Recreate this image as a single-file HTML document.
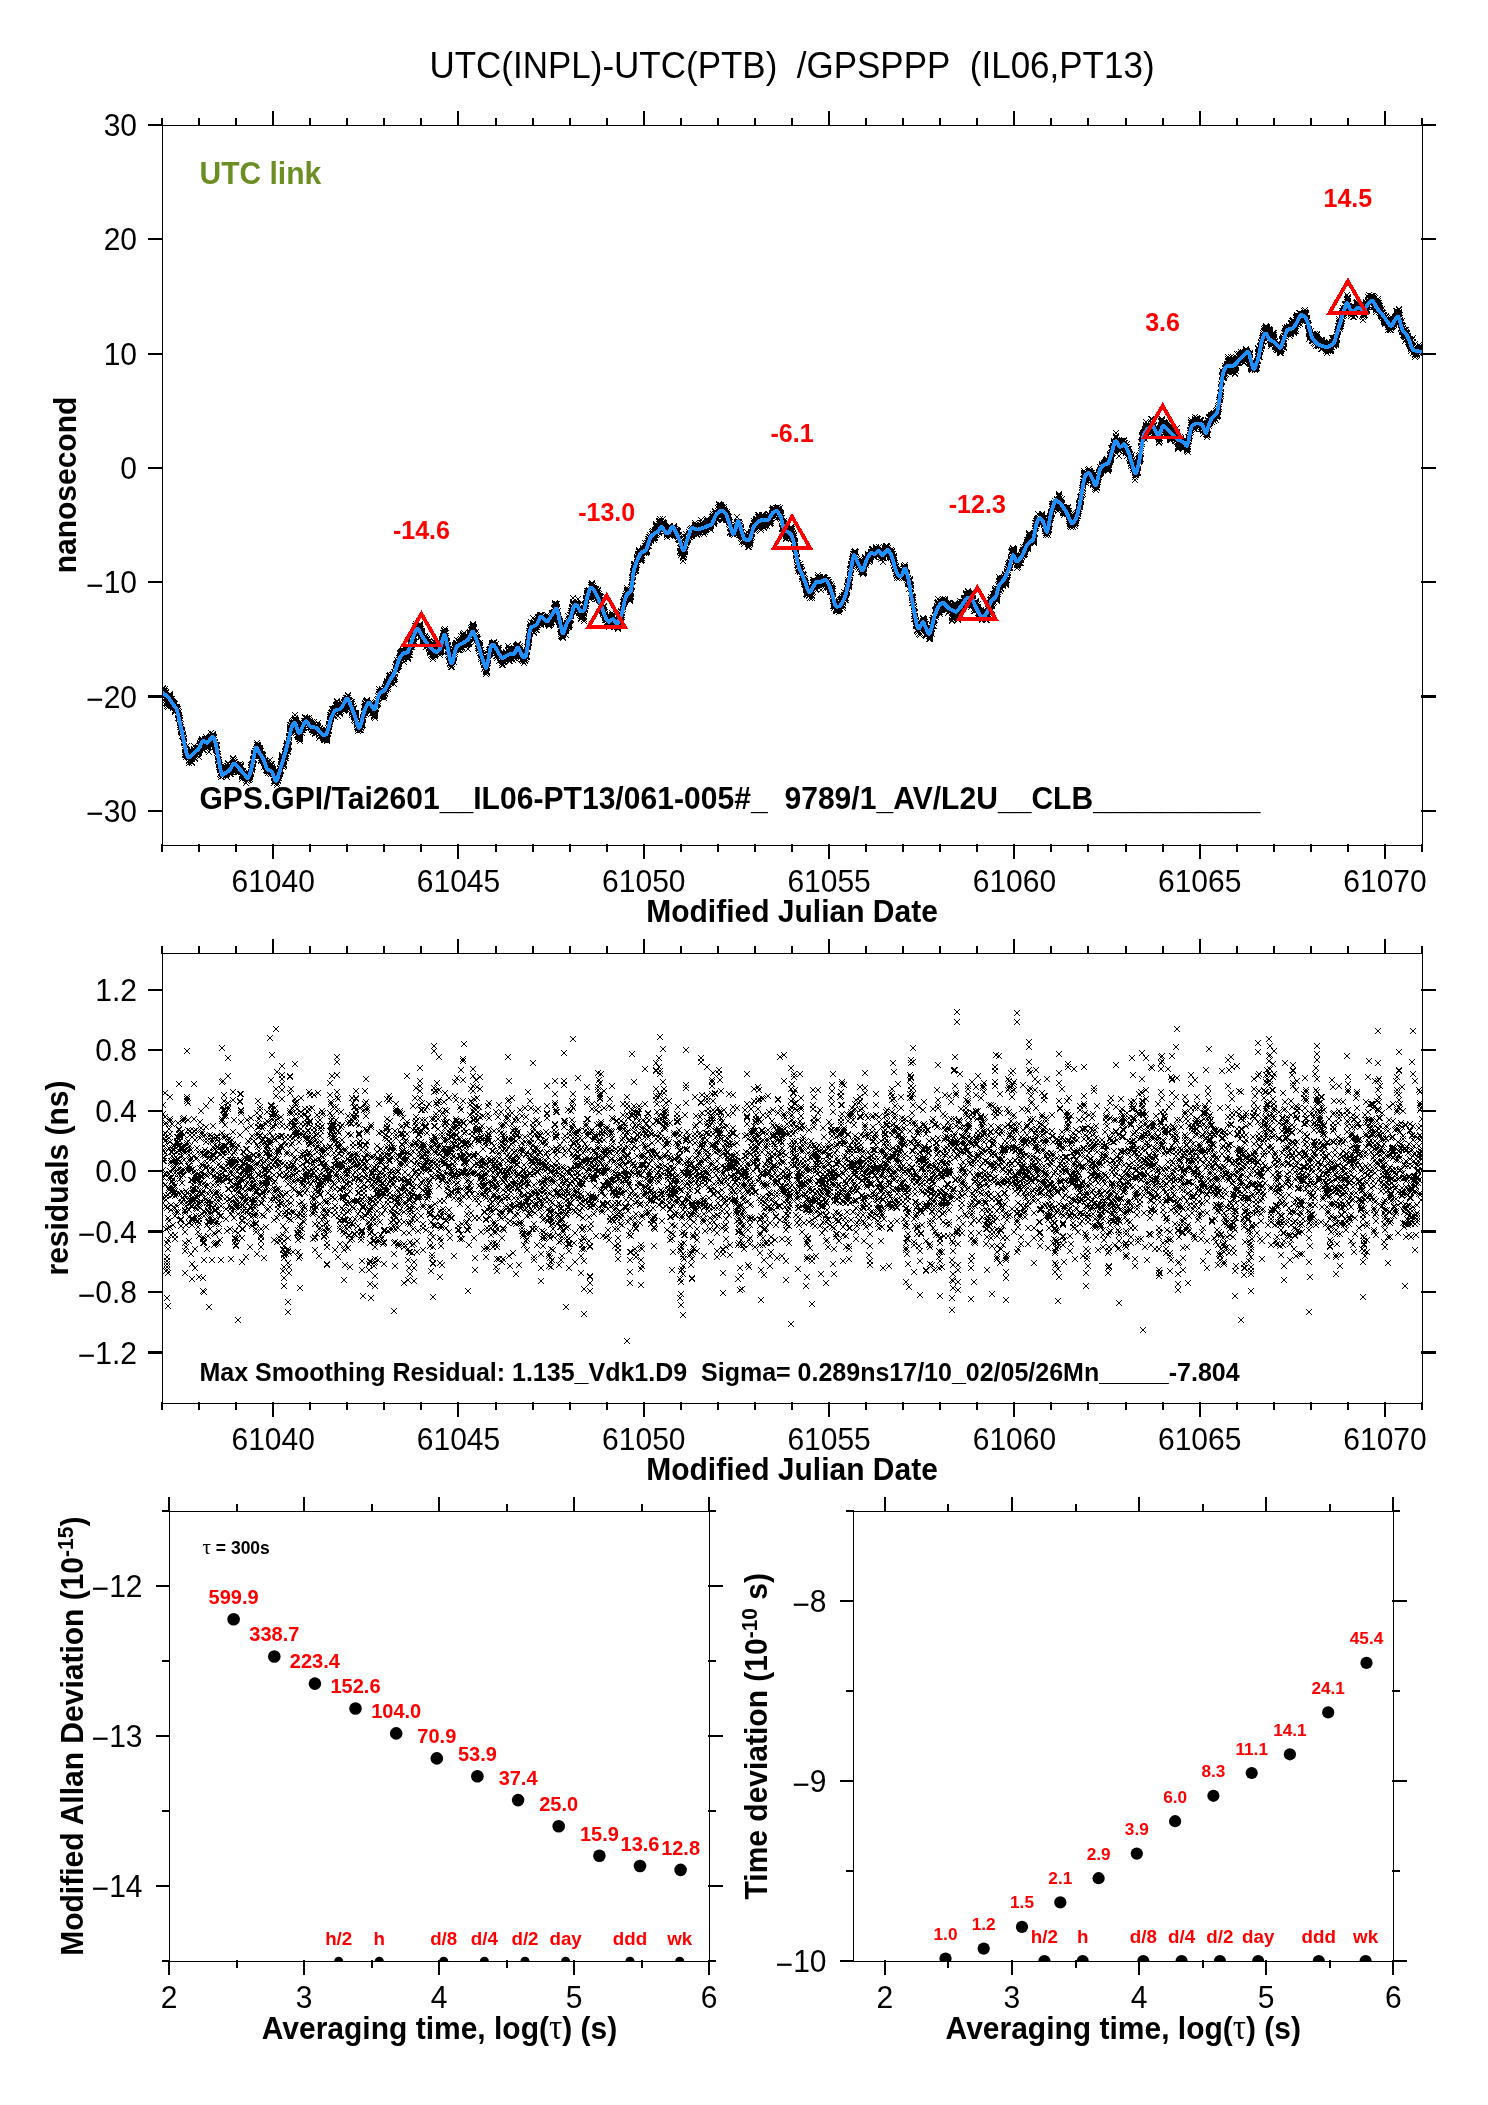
<!DOCTYPE html>
<html lang="en"><head><meta charset="utf-8"><title>UTC(INPL)-UTC(PTB) /GPSPPP (IL06,PT13)</title>
<style>
html,body{margin:0;padding:0;background:#fff}
svg{display:block;will-change:transform}
text{font-family:"Liberation Sans",sans-serif}
.mk{fill:none;stroke:none;marker-start:url(#x);marker-mid:url(#x);marker-end:url(#x)}
</style></head>
<body>
<svg width="1488" height="2105" viewBox="0 0 1488 2105">
<defs><marker id="x" markerUnits="userSpaceOnUse" markerWidth="8" markerHeight="8" refX="4" refY="4" overflow="visible"><path d="M1,1L7,7M1,7L7,1" stroke="#000" stroke-width="1" fill="none" shape-rendering="crispEdges"/></marker></defs>
<rect width="1488" height="2105" fill="#fff"/>
<clipPath id="c1"><rect x="162" y="125" width="1261" height="721"/></clipPath><clipPath id="c2"><rect x="162" y="953" width="1261" height="451"/></clipPath>
<g clip-path="url(#c1)"><polyline class="mk" points="162,695 162,692 162,691 162,694 163,693 163,692 163,692 163,692 163,689 163,688 163,694 163,692 164,693 164,691 164,691 164,693 164,692 164,692 164,693 165,693 165,691 165,695 165,696 165,691 165,691 165,689 165,693 166,695 166,693 166,692 166,697 166,698 166,700 166,703 166,698 167,703 167,699 167,703 167,706 167,704 167,704 167,703 167,702 168,703 168,699 168,707 168,705 168,702 168,701 168,702 169,701 169,699 169,699 169,698 169,696 169,699 169,695 169,697 170,695 170,696 170,694 170,696 170,697 170,700 170,698 170,705 171,699 171,700 171,702 171,702 171,706 171,704 171,705 171,701 172,701 172,699 172,704 172,704 172,701 172,704 172,704 172,702 173,703 173,705 173,702 173,705 173,708 173,706 173,705 174,706 174,703 174,705 174,704 174,705 174,707 174,707 174,707 175,708 175,704 175,710 175,711 175,708 175,710 175,712 175,707 176,707 176,710 176,711 176,707 176,708 176,708 176,711 176,708 177,707 177,709 177,709 177,708 177,710 177,710 177,710 178,709 178,711 178,711 178,714 178,714 178,718 178,714 178,715 179,718 179,715 179,718 179,715 179,712 179,716 179,718 179,719 180,718 180,721 180,720 180,727 180,721 180,725 180,725 180,723 181,724 181,730 181,731 181,727 181,731 181,732 181,729 182,731 182,730 182,733 182,733 182,732 182,732 182,731 182,736 183,735 183,735 183,734 183,736 183,735 183,734 183,737 183,735 184,738 184,742 184,739 184,739 184,741 184,741 184,739 184,743 185,748 185,750 185,748 185,750 185,755 185,754 185,754 185,752 186,752 186,749 186,755 186,757 186,753 186,751 186,755 187,755 187,752 187,752 187,750 187,753 187,746 187,750 187,751 188,756 188,753 188,752 188,757 188,753 188,756 188,755 188,757 189,756 189,763 189,760 189,761 189,760 189,760 189,761 189,757 190,756 190,756 190,754 190,757 190,754 190,755 190,759 191,755 191,758 191,757 191,758 191,754 191,756 191,762 191,758 192,759 192,757 192,756 192,758 192,762 192,763 192,758 192,759 193,756 193,756 193,756 193,754 193,756 193,755 193,757 193,755 194,750 194,755 194,753 194,750 194,746 194,749 194,752 195,750 195,753 195,754 195,758 195,759 195,754 195,756 195,752 196,749 196,751 196,755 196,752 196,754 196,752 196,752 196,754 197,753 197,753 197,752 197,751 197,752 197,749 197,748 197,753 198,751 198,750 198,754 198,752 198,748 198,750 198,753 198,753 199,752 199,757 199,750 199,753 199,751 199,752 199,748 200,750 200,748 200,749 200,744 200,743 200,746 200,746 200,745 201,741 201,745 201,745 201,744 201,741 201,744 201,744 201,742 202,746 202,744 202,740 202,739 202,741 202,741 202,743 202,744 203,740 203,746 203,742 203,746 203,750 203,746 203,749 204,746 204,746 204,742 204,747 204,750 204,744 204,743 204,744 205,744 205,741 205,740 205,742 205,739 205,740 205,741 205,743 206,742 206,739 206,737 206,737 206,740 206,740 206,742 206,743 207,743 207,741 207,742 207,745 207,745 207,748 207,747 208,744 208,745 208,743 208,747 208,741 208,745 208,746 208,744 209,752 209,744 209,738 209,743 209,739 209,744 209,744 209,744 210,737 210,744 210,740 210,742 210,738 210,742 210,741 210,738 211,742 211,742 211,733 211,737 211,736 211,737 211,737 211,738 212,738 212,741 212,744 212,740 212,735 212,739 212,741 213,734 213,734 213,738 213,735 213,736 213,740 213,735 213,737 214,738 214,737 214,744 214,740 214,737 214,738 214,744 214,740 215,743 215,742 215,746 215,742 215,742 215,745 215,745 215,747 216,748 216,745 216,747 216,747 216,749 216,750 216,745 217,745 217,746 217,746 217,750 217,749 217,751 217,749 217,753 218,754 218,757 218,756 218,761 218,754 218,759 218,759 218,760 219,763 219,760 219,763 219,765 219,763 219,767 219,764 219,762 220,767 220,765 220,770 220,767 220,768 220,774 220,768 221,768 221,777 221,773 221,775 221,775 221,773 221,773 221,773 222,772 222,772 222,770 222,772 222,768 222,766 222,770 222,771 223,768 223,776 223,772 223,775 223,774 223,775 223,773 223,770 224,774 224,772 224,769 224,769 224,768 224,769 224,770 224,769 225,769 225,771 225,773 225,770 225,769 225,771 225,768 226,769 226,771 226,772 226,771 226,773 226,773 226,775 226,776 227,774 227,777 227,774 227,774 227,772 227,770 227,774 227,769 228,767 228,764 228,767 228,763 228,766 228,769 228,772 228,770 229,770 229,769 229,769 229,772 229,768 229,770 229,771 230,772 230,769 230,771 230,774 230,769 230,769 230,772 230,767 231,769 231,768 231,772 231,771 231,769 231,768 231,770 231,774 232,767 232,768 232,764 232,769 232,765 232,769 232,764 232,765 233,763 233,763 233,763 233,758 233,759 233,761 233,763 234,763 234,760 234,763 234,765 234,766 234,762 234,765 234,767 235,762 235,765 235,769 235,769 235,766 235,769 235,769 235,764 236,764 236,764 236,767 236,768 236,771 236,771 236,768 236,768 237,766 237,766 237,767 237,767 237,768 237,766 237,772 237,765 238,768 238,772 238,768 238,765 238,771 238,769 238,770 239,767 239,770 239,772 239,770 239,769 239,770 239,770 239,772 240,768 240,771 240,769 240,767 240,764 240,764 240,770 240,764 241,771 241,766 241,766 241,765 241,767 241,766 241,771 241,772 242,771 242,775 242,776 242,775 242,779 242,776 242,777 243,772 243,772 243,774 243,771 243,776 243,778 243,776 243,775 244,776 244,774 244,777 244,776 244,774 244,777 244,773 244,775 245,778 245,775 245,777 245,774 245,778 245,778 245,775 245,777 246,773 246,775 246,783 246,777 246,777 246,780 246,778 247,778 247,781 247,776 247,777 247,778 247,777 247,776 247,774 248,776 248,777 248,778 248,779 248,777 248,778 248,780 248,776 249,777 249,780 249,776 249,776 249,775 249,773 249,775 249,775 250,777 250,774 250,775 250,779 250,776 250,775 250,775 250,775 251,772 251,773 251,774 251,767 251,772 251,768 251,765 252,769 252,765 252,768 252,767 252,770 252,765 252,767 252,764 253,767 253,764 253,763 253,760 253,761 253,764 253,759 253,760 254,760 254,759 254,755 254,759 254,756 254,756 254,753 254,754 255,756 255,754 255,754 255,754 255,753 255,751 255,753 256,752 256,751 256,752 256,752 256,752 256,752 256,752 256,749 257,754 257,749 257,747 257,745 257,743 257,750 257,748 257,747 258,750 258,748 258,746 258,747 258,750 258,745 258,749 258,747 259,751 259,749 259,748 259,749 259,750 259,751 259,754 260,755 260,748 260,753 260,752 260,749 260,751 260,750 260,755 261,754 261,751 261,760 261,760 261,761 261,760 261,761 261,758 262,758 262,759 262,757 262,760 262,756 262,758 262,754 262,755 263,760 263,756 263,759 263,758 263,756 263,755 263,760 263,761 264,761 264,763 264,767 264,761 264,762 264,762 264,762 265,761 265,762 265,761 265,763 265,761 265,764 265,765 265,766 266,766 266,770 266,767 266,766 266,763 266,767 266,766 266,766 267,766 267,771 267,769 267,764 267,767 267,770 267,768 267,766 268,768 268,766 268,767 268,770 268,769 268,773 268,771 269,770 269,771 269,769 269,769 269,769 269,770 269,771 269,769 270,769 270,767 270,773 270,768 270,768 270,768 270,768 270,760 271,764 271,766 271,766 271,771 271,769 271,770 271,771 271,774 272,771 272,767 272,768 272,769 272,768 272,764 272,768 273,771 273,773 273,769 273,770 273,774 273,771 273,771 273,773 274,778 274,777 274,778 274,774 274,778 274,781 274,778 274,783 275,780 275,778 275,781 275,780 275,781 275,779 275,775 275,776 276,774 276,777 276,770 276,779 276,777 276,780 276,775 276,776 277,773 277,779 277,779 277,785 277,783 277,778 277,780 278,778 278,781 278,777 278,777 278,780 278,774 278,772 278,774 279,773 279,773 279,776 279,774 279,772 279,778 279,774 279,775 280,774 280,773 280,772 280,771 280,772 280,769 280,774 280,768 281,771 281,770 281,765 281,765 281,764 281,762 281,761 282,762 282,758 282,757 282,756 282,757 282,757 282,759 282,755 283,761 283,760 283,763 283,765 283,764 283,767 283,765 283,765 284,766 284,765 284,764 284,764 284,765 284,761 284,762 284,761 285,758 285,758 285,754 285,755 285,756 285,751 285,752 286,758 286,756 286,754 286,749 286,753 286,750 286,750 286,746 287,749 287,746 287,747 287,743 287,745 287,744 287,747 287,747 288,745 288,744 288,749 288,748 288,752 288,746 288,751 288,747 289,746 289,747 289,746 289,741 289,737 289,740 289,736 289,738 290,731 290,732 290,729 290,727 290,728 290,725 290,725 291,725 291,729 291,731 291,729 291,729 291,733 291,731 291,730 292,727 292,728 292,730 292,723 292,722 292,723 292,722 292,724 293,726 293,723 293,724 293,726 293,721 293,724 293,730 293,723 294,725 294,726 294,726 294,724 294,723 294,722 294,720 295,723 295,718 295,715 295,721 295,720 295,720 295,719 295,724 296,720 296,723 296,722 296,722 296,721 296,724 296,723 296,722 297,724 297,723 297,727 297,732 297,729 297,729 297,730 297,735 298,735 298,735 298,736 298,737 298,735 298,737 298,737 299,737 299,739 299,734 299,735 299,734 299,730 299,734 299,731 300,737 300,738 300,739 300,737 300,741 300,735 300,733 300,731 301,730 301,728 301,726 301,727 301,726 301,727 301,727 301,724 302,730 302,726 302,727 302,733 302,733 302,730 302,728 302,729 303,727 303,728 303,730 303,725 303,724 303,726 303,726 304,728 304,723 304,721 304,725 304,727 304,727 304,723 304,725 305,723 305,724 305,721 305,723 305,718 305,717 305,717 305,724 306,719 306,721 306,721 306,721 306,721 306,721 306,721 306,722 307,723 307,719 307,721 307,721 307,718 307,718 307,720 308,719 308,724 308,722 308,721 308,719 308,719 308,723 308,721 309,720 309,718 309,722 309,723 309,725 309,723 309,723 309,722 310,725 310,722 310,724 310,723 310,727 310,721 310,725 310,723 311,724 311,727 311,728 311,725 311,727 311,727 311,727 312,726 312,726 312,722 312,726 312,724 312,727 312,729 312,730 313,732 313,730 313,730 313,730 313,730 313,728 313,729 313,730 314,727 314,729 314,724 314,722 314,727 314,725 314,724 314,730 315,730 315,730 315,729 315,731 315,734 315,733 315,733 315,730 316,727 316,726 316,728 316,725 316,731 316,728 316,725 317,729 317,730 317,726 317,726 317,729 317,733 317,727 317,725 318,730 318,723 318,730 318,726 318,726 318,727 318,731 318,728 319,734 319,731 319,732 319,732 319,735 319,735 319,738 319,730 320,734 320,736 320,734 320,734 320,729 320,733 320,728 321,733 321,730 321,730 321,732 321,730 321,733 321,735 321,735 322,730 322,732 322,732 322,734 322,734 322,733 322,730 322,730 323,735 323,731 323,735 323,736 323,736 323,738 323,734 323,736 324,735 324,740 324,740 324,736 324,735 324,739 324,739 325,738 325,739 325,740 325,739 325,734 325,737 325,734 325,739 326,735 326,734 326,738 326,735 326,737 326,732 326,738 326,739 327,741 327,739 327,737 327,740 327,735 327,738 327,735 327,731 328,734 328,731 328,731 328,731 328,728 328,733 328,731 328,728 329,727 329,730 329,731 329,724 329,726 329,725 329,725 330,721 330,722 330,724 330,719 330,715 330,720 330,717 330,715 331,715 331,717 331,716 331,716 331,713 331,719 331,718 331,719 332,714 332,714 332,712 332,712 332,709 332,713 332,712 332,712 333,715 333,716 333,711 333,711 333,709 333,710 333,710 334,710 334,709 334,711 334,712 334,709 334,711 334,715 334,712 335,717 335,714 335,712 335,714 335,708 335,713 335,709 335,710 336,705 336,708 336,710 336,709 336,710 336,706 336,709 336,708 337,704 337,704 337,702 337,701 337,702 337,705 337,708 338,704 338,707 338,706 338,708 338,709 338,710 338,708 338,716 339,713 339,708 339,709 339,710 339,709 339,706 339,708 339,709 340,714 340,709 340,713 340,710 340,710 340,714 340,713 340,712 341,711 341,707 341,705 341,707 341,708 341,708 341,703 341,706 342,707 342,705 342,703 342,706 342,706 342,709 342,706 343,709 343,706 343,707 343,707 343,709 343,706 343,709 343,706 344,703 344,702 344,710 344,707 344,708 344,709 344,706 344,711 345,706 345,709 345,704 345,705 345,700 345,701 345,702 345,704 346,706 346,700 346,701 346,698 346,702 346,700 346,701 347,699 347,699 347,703 347,700 347,698 347,700 347,699 347,703 348,704 348,702 348,702 348,695 348,698 348,696 348,695 348,698 349,704 349,705 349,700 349,701 349,706 349,704 349,705 349,706 350,710 350,704 350,708 350,704 350,707 350,705 350,701 351,704 351,705 351,702 351,702 351,705 351,702 351,703 351,704 352,702 352,707 352,704 352,707 352,711 352,712 352,713 352,715 353,710 353,714 353,711 353,709 353,709 353,706 353,711 353,711 354,708 354,709 354,713 354,716 354,717 354,715 354,714 354,720 355,719 355,721 355,716 355,717 355,716 355,718 355,713 356,714 356,713 356,715 356,716 356,715 356,716 356,715 356,717 357,724 357,727 357,721 357,725 357,725 357,723 357,724 357,724 358,724 358,726 358,727 358,729 358,729 358,731 358,726 358,728 359,728 359,725 359,726 359,725 359,725 359,730 359,725 360,726 360,729 360,723 360,730 360,725 360,727 360,726 360,724 361,724 361,725 361,730 361,725 361,728 361,727 361,725 361,727 362,721 362,723 362,725 362,724 362,726 362,726 362,723 362,722 363,720 363,717 363,719 363,725 363,718 363,718 363,717 364,715 364,715 364,712 364,711 364,707 364,713 364,713 364,711 365,704 365,713 365,709 365,710 365,707 365,706 365,708 365,703 366,701 366,706 366,702 366,706 366,706 366,702 366,702 366,707 367,703 367,701 367,705 367,706 367,702 367,700 367,702 367,701 368,704 368,703 368,704 368,704 368,704 368,706 368,707 369,710 369,710 369,707 369,705 369,706 369,705 369,706 369,707 370,708 370,707 370,706 370,709 370,712 370,711 370,711 370,709 371,706 371,714 371,709 371,709 371,702 371,707 371,704 371,702 372,707 372,706 372,707 372,707 372,709 372,708 372,710 373,711 373,706 373,713 373,708 373,710 373,710 373,711 373,709 374,709 374,713 374,710 374,717 374,715 374,716 374,715 374,713 375,716 375,714 375,715 375,712 375,718 375,716 375,712 375,714 376,709 376,708 376,709 376,708 376,706 376,705 376,705 377,703 377,705 377,703 377,700 377,700 377,704 377,704 377,704 378,701 378,701 378,704 378,703 378,699 378,704 378,696 378,696 379,697 379,692 379,694 379,695 379,689 379,694 379,694 379,694 380,695 380,693 380,695 380,692 380,694 380,694 380,692 380,696 381,694 381,692 381,691 381,693 381,694 381,691 381,697 382,691 382,697 382,695 382,690 382,692 382,693 382,689 382,691 383,693 383,691 383,692 383,694 383,692 383,693 383,696 383,693 384,692 384,692 384,695 384,692 384,698 384,696 384,696 384,695 385,694 385,693 385,691 385,687 385,691 385,688 385,689 386,688 386,690 386,689 386,685 386,688 386,686 386,689 386,684 387,684 387,683 387,681 387,683 387,684 387,682 387,683 387,681 388,687 388,687 388,685 388,689 388,683 388,682 388,685 388,682 389,680 389,682 389,681 389,676 389,676 389,679 389,679 390,680 390,680 390,675 390,676 390,678 390,682 390,681 390,679 391,682 391,679 391,680 391,683 391,676 391,679 391,682 391,678 392,680 392,675 392,678 392,678 392,675 392,681 392,677 392,675 393,676 393,679 393,677 393,674 393,679 393,678 393,675 393,676 394,677 394,672 394,678 394,675 394,680 394,684 394,678 395,677 395,679 395,674 395,677 395,674 395,673 395,674 395,667 396,665 396,664 396,664 396,664 396,665 396,665 396,668 396,670 397,668 397,667 397,670 397,667 397,664 397,666 397,660 397,663 398,662 398,663 398,662 398,664 398,666 398,667 398,666 399,664 399,666 399,662 399,663 399,662 399,662 399,658 399,660 400,660 400,654 400,657 400,653 400,657 400,656 400,656 400,660 401,654 401,653 401,658 401,655 401,656 401,657 401,652 401,657 402,654 402,651 402,653 402,651 402,655 402,653 402,652 403,655 403,653 403,652 403,651 403,650 403,651 403,655 403,653 404,652 404,656 404,659 404,659 404,658 404,662 404,654 404,657 405,651 405,655 405,655 405,653 405,652 405,653 405,654 405,654 406,654 406,651 406,652 406,649 406,651 406,650 406,652 406,651 407,652 407,654 407,649 407,650 407,649 407,645 407,655 408,651 408,653 408,652 408,657 408,658 408,659 408,655 408,651 409,655 409,651 409,650 409,652 409,655 409,649 409,655 409,650 410,655 410,650 410,649 410,652 410,652 410,649 410,647 410,649 411,646 411,643 411,643 411,641 411,647 411,645 411,644 412,644 412,643 412,647 412,641 412,642 412,642 412,643 412,645 413,643 413,637 413,638 413,633 413,635 413,639 413,634 413,637 414,637 414,637 414,642 414,642 414,637 414,643 414,641 414,639 415,637 415,633 415,631 415,630 415,629 415,626 415,632 416,628 416,628 416,631 416,624 416,626 416,627 416,626 416,627 417,630 417,631 417,634 417,631 417,632 417,635 417,630 417,628 418,633 418,626 418,628 418,628 418,631 418,627 418,631 418,629 419,631 419,632 419,627 419,625 419,631 419,628 419,629 419,630 420,628 420,625 420,624 420,626 420,627 420,626 420,630 421,629 421,631 421,631 421,637 421,634 421,636 421,635 421,635 422,632 422,634 422,636 422,631 422,631 422,635 422,633 422,634 423,639 423,640 423,641 423,636 423,644 423,642 423,639 423,638 424,638 424,639 424,638 424,637 424,638 424,639 424,637 425,636 425,636 425,637 425,639 425,637 425,636 425,640 425,640 426,638 426,638 426,641 426,642 426,642 426,643 426,644 426,647 427,644 427,640 427,645 427,645 427,643 427,642 427,639 427,645 428,643 428,646 428,646 428,646 428,645 428,643 428,644 429,647 429,645 429,648 429,648 429,649 429,647 429,645 429,641 430,647 430,645 430,646 430,648 430,650 430,652 430,651 430,653 431,652 431,650 431,655 431,648 431,652 431,648 431,648 431,648 432,646 432,645 432,648 432,647 432,647 432,652 432,656 432,656 433,655 433,655 433,659 433,657 433,657 433,651 433,654 434,649 434,648 434,644 434,641 434,645 434,647 434,642 434,648 435,648 435,649 435,656 435,655 435,654 435,656 435,650 435,655 436,649 436,651 436,649 436,651 436,648 436,646 436,647 436,648 437,652 437,647 437,651 437,645 437,649 437,651 437,650 438,647 438,649 438,648 438,651 438,647 438,645 438,649 438,651 439,652 439,650 439,646 439,649 439,650 439,641 439,643 439,644 440,649 440,647 440,652 440,652 440,651 440,655 440,653 440,655 441,650 441,652 441,650 441,649 441,651 441,649 441,648 442,651 442,644 442,641 442,640 442,641 442,639 442,642 442,640 443,643 443,640 443,637 443,642 443,639 443,633 443,636 443,638 444,635 444,636 444,638 444,630 444,634 444,633 444,631 444,634 445,632 445,629 445,631 445,631 445,633 445,634 445,631 445,636 446,633 446,636 446,642 446,642 446,644 446,640 446,644 447,642 447,641 447,643 447,645 447,643 447,641 447,643 447,642 448,645 448,647 448,647 448,646 448,651 448,649 448,652 448,655 449,652 449,650 449,657 449,649 449,654 449,657 449,656 449,661 450,658 450,658 450,664 450,663 450,660 450,659 450,658 451,659 451,662 451,660 451,661 451,663 451,665 451,667 451,665 452,661 452,664 452,662 452,667 452,662 452,664 452,660 452,660 453,659 453,657 453,661 453,657 453,659 453,660 453,658 453,655 454,658 454,655 454,656 454,658 454,662 454,656 454,653 455,654 455,650 455,652 455,646 455,645 455,648 455,647 455,652 456,646 456,650 456,647 456,643 456,646 456,645 456,644 456,645 457,644 457,640 457,644 457,643 457,645 457,643 457,646 457,646 458,647 458,648 458,650 458,650 458,647 458,647 458,647 458,646 459,650 459,646 459,643 459,643 459,641 459,645 459,641 460,644 460,642 460,640 460,643 460,645 460,647 460,643 460,650 461,646 461,649 461,643 461,643 461,642 461,643 461,636 461,639 462,640 462,644 462,641 462,644 462,645 462,647 462,644 462,648 463,643 463,645 463,638 463,636 463,635 463,639 463,634 464,633 464,639 464,641 464,641 464,642 464,639 464,642 464,639 465,640 465,642 465,640 465,640 465,640 465,640 465,642 465,641 466,645 466,643 466,638 466,640 466,640 466,641 466,641 466,640 467,644 467,641 467,641 467,645 467,644 467,641 467,642 468,638 468,638 468,649 468,644 468,640 468,642 468,640 468,640 469,643 469,640 469,642 469,644 469,640 469,637 469,637 469,638 470,633 470,633 470,632 470,638 470,635 470,634 470,634 470,636 471,633 471,630 471,634 471,628 471,635 471,633 471,634 471,636 472,633 472,633 472,633 472,629 472,630 472,634 472,627 473,631 473,632 473,625 473,624 473,628 473,626 473,627 473,625 474,628 474,627 474,632 474,629 474,632 474,629 474,634 474,640 475,642 475,639 475,642 475,638 475,636 475,634 475,633 475,633 476,635 476,635 476,635 476,632 476,637 476,637 476,635 477,640 477,638 477,637 477,638 477,639 477,637 477,640 477,637 478,639 478,643 478,646 478,644 478,643 478,646 478,648 478,648 479,648 479,649 479,651 479,645 479,647 479,645 479,647 479,644 480,643 480,647 480,646 480,648 480,650 480,645 480,653 481,650 481,653 481,653 481,654 481,655 481,654 481,659 481,657 482,655 482,653 482,656 482,658 482,655 482,655 482,658 482,658 483,659 483,655 483,661 483,662 483,659 483,658 483,662 483,660 484,665 484,661 484,663 484,664 484,669 484,663 484,665 484,665 485,668 485,663 485,668 485,667 485,668 485,668 485,667 486,667 486,666 486,670 486,667 486,672 486,670 486,674 486,671 487,672 487,673 487,672 487,671 487,667 487,668 487,666 487,664 488,661 488,660 488,659 488,663 488,656 488,658 488,654 488,656 489,652 489,654 489,654 489,652 489,655 489,650 489,652 490,652 490,654 490,650 490,654 490,649 490,653 490,650 490,651 491,649 491,647 491,650 491,651 491,650 491,651 491,649 491,651 492,649 492,645 492,645 492,646 492,644 492,643 492,643 492,647 493,646 493,649 493,650 493,645 493,645 493,644 493,643 494,645 494,642 494,643 494,647 494,647 494,650 494,651 494,646 495,646 495,649 495,646 495,647 495,651 495,647 495,647 495,648 496,651 496,653 496,649 496,648 496,644 496,656 496,653 496,651 497,652 497,651 497,656 497,656 497,652 497,658 497,655 497,658 498,654 498,654 498,649 498,652 498,648 498,650 498,651 499,654 499,650 499,653 499,648 499,653 499,653 499,653 499,661 500,658 500,657 500,657 500,658 500,655 500,656 500,655 500,654 501,660 501,655 501,657 501,659 501,654 501,653 501,654 501,655 502,658 502,654 502,658 502,661 502,663 502,661 502,665 503,659 503,659 503,662 503,665 503,662 503,656 503,656 503,657 504,654 504,655 504,658 504,658 504,655 504,654 504,662 504,657 505,659 505,660 505,657 505,655 505,654 505,655 505,654 505,657 506,659 506,653 506,652 506,659 506,658 506,658 506,654 507,655 507,657 507,655 507,656 507,656 507,657 507,657 507,656 508,659 508,654 508,656 508,651 508,650 508,650 508,650 508,646 509,648 509,649 509,653 509,652 509,655 509,654 509,661 509,656 510,661 510,658 510,657 510,654 510,657 510,657 510,654 510,653 511,654 511,655 511,653 511,657 511,654 511,656 511,652 512,655 512,650 512,649 512,652 512,654 512,651 512,653 512,652 513,651 513,651 513,652 513,657 513,653 513,655 513,653 513,660 514,657 514,656 514,658 514,653 514,651 514,650 514,652 514,653 515,649 515,654 515,650 515,652 515,656 515,652 515,653 516,659 516,655 516,655 516,654 516,649 516,649 516,646 516,647 517,649 517,650 517,646 517,645 517,647 517,648 517,646 517,648 518,644 518,650 518,648 518,649 518,645 518,650 518,651 518,649 519,651 519,647 519,649 519,650 519,652 519,656 519,654 520,651 520,652 520,648 520,646 520,652 520,654 520,653 520,650 521,655 521,657 521,654 521,657 521,656 521,652 521,655 521,653 522,653 522,656 522,653 522,651 522,656 522,660 522,660 522,659 523,661 523,661 523,661 523,659 523,659 523,659 523,657 523,657 524,655 524,658 524,657 524,657 524,659 524,657 524,663 525,658 525,660 525,658 525,655 525,655 525,652 525,661 525,653 526,655 526,652 526,656 526,654 526,657 526,657 526,659 526,656 527,657 527,657 527,652 527,656 527,651 527,652 527,650 527,647 528,647 528,639 528,646 528,645 528,644 528,642 528,643 529,642 529,643 529,640 529,636 529,633 529,637 529,639 529,631 530,633 530,632 530,634 530,631 530,629 530,627 530,624 530,628 531,627 531,626 531,625 531,630 531,626 531,627 531,622 531,625 532,629 532,629 532,630 532,631 532,627 532,626 532,628 533,631 533,626 533,623 533,624 533,626 533,623 533,618 533,623 534,623 534,627 534,626 534,630 534,628 534,633 534,632 534,624 535,629 535,626 535,628 535,625 535,628 535,628 535,623 535,624 536,630 536,627 536,625 536,621 536,624 536,624 536,626 536,620 537,621 537,627 537,622 537,630 537,624 537,625 537,623 538,625 538,620 538,623 538,620 538,621 538,621 538,617 538,620 539,617 539,620 539,619 539,617 539,621 539,621 539,622 539,621 540,617 540,618 540,618 540,616 540,615 540,615 540,619 540,619 541,615 541,619 541,619 541,623 541,625 541,624 541,619 542,622 542,617 542,618 542,621 542,620 542,618 542,615 542,617 543,623 543,617 543,619 543,618 543,617 543,622 543,618 543,621 544,623 544,620 544,624 544,624 544,624 544,621 544,620 544,623 545,617 545,622 545,620 545,620 545,620 545,623 545,620 546,621 546,621 546,622 546,619 546,620 546,618 546,619 546,621 547,620 547,615 547,617 547,617 547,617 547,621 547,617 547,622 548,620 548,621 548,621 548,624 548,618 548,624 548,619 548,621 549,621 549,623 549,624 549,626 549,621 549,625 549,626 549,622 550,618 550,625 550,621 550,621 550,622 550,622 550,619 551,621 551,619 551,624 551,623 551,622 551,620 551,619 551,619 552,622 552,619 552,613 552,618 552,615 552,617 552,615 552,614 553,620 553,617 553,613 553,618 553,617 553,615 553,614 553,617 554,612 554,614 554,613 554,612 554,612 554,608 554,609 555,607 555,607 555,605 555,605 555,607 555,603 555,607 555,604 556,605 556,608 556,606 556,607 556,606 556,608 556,604 556,606 557,604 557,608 557,609 557,607 557,612 557,612 557,608 557,613 558,611 558,615 558,611 558,616 558,617 558,615 558,619 559,622 559,621 559,619 559,621 559,619 559,619 559,620 559,619 560,623 560,621 560,625 560,622 560,624 560,625 560,622 560,629 561,629 561,629 561,629 561,630 561,630 561,632 561,634 561,636 562,633 562,635 562,637 562,631 562,632 562,633 562,636 562,633 563,633 563,635 563,631 563,633 563,638 563,634 563,637 564,631 564,629 564,626 564,632 564,623 564,628 564,624 564,628 565,626 565,626 565,628 565,626 565,628 565,629 565,629 565,631 566,629 566,631 566,627 566,631 566,627 566,635 566,628 566,627 567,625 567,623 567,626 567,623 567,628 567,628 567,624 568,625 568,623 568,627 568,626 568,624 568,624 568,621 568,616 569,622 569,619 569,623 569,626 569,626 569,625 569,627 569,622 570,619 570,625 570,620 570,621 570,615 570,615 570,618 570,619 571,620 571,619 571,615 571,616 571,616 571,611 571,613 572,611 572,611 572,612 572,608 572,609 572,607 572,612 572,612 573,608 573,609 573,607 573,604 573,605 573,602 573,598 573,602 574,604 574,605 574,609 574,608 574,608 574,611 574,611 574,609 575,613 575,605 575,608 575,610 575,605 575,607 575,607 575,606 576,604 576,603 576,608 576,605 576,607 576,606 576,605 577,605 577,603 577,607 577,604 577,603 577,605 577,605 577,607 578,606 578,599 578,605 578,604 578,604 578,606 578,606 578,606 579,609 579,605 579,608 579,611 579,611 579,609 579,608 579,613 580,611 580,613 580,613 580,612 580,611 580,608 580,615 581,616 581,619 581,618 581,613 581,613 581,610 581,611 581,613 582,611 582,609 582,616 582,617 582,612 582,612 582,617 582,614 583,616 583,612 583,610 583,611 583,610 583,615 583,616 583,613 584,617 584,616 584,616 584,619 584,621 584,612 584,613 585,609 585,608 585,610 585,605 585,606 585,605 585,605 585,604 586,604 586,606 586,603 586,599 586,603 586,598 586,601 586,600 587,600 587,594 587,596 587,596 587,591 587,593 587,591 587,595 588,593 588,592 588,591 588,592 588,593 588,595 588,592 589,595 589,595 589,597 589,592 589,591 589,590 589,594 589,590 590,593 590,599 590,595 590,597 590,594 590,597 590,596 590,593 591,585 591,590 591,590 591,590 591,592 591,590 591,587 591,592 592,590 592,590 592,587 592,588 592,589 592,583 592,584 592,585 593,588 593,586 593,591 593,591 593,589 593,588 593,588 594,590 594,593 594,590 594,591 594,589 594,589 594,590 594,588 595,590 595,591 595,589 595,590 595,595 595,590 595,590 595,594 596,590 596,595 596,589 596,599 596,594 596,596 596,597 596,595 597,596 597,595 597,594 597,599 597,596 597,595 597,593 598,597 598,590 598,591 598,591 598,593 598,597 598,598 598,597 599,599 599,597 599,596 599,596 599,598 599,594 599,600 599,598 600,598 600,601 600,596 600,600 600,597 600,598 600,598 600,597 601,597 601,601 601,601 601,605 601,607 601,605 601,607 602,605 602,604 602,604 602,604 602,610 602,608 602,610 602,611 603,614 603,612 603,610 603,612 603,613 603,609 603,612 603,611 604,607 604,606 604,610 604,611 604,613 604,615 604,615 604,613 605,612 605,617 605,616 605,614 605,615 605,617 605,618 605,620 606,617 606,617 606,618 606,617 606,620 606,620 606,624 607,616 607,622 607,618 607,617 607,620 607,619 607,620 607,619 608,621 608,624 608,622 608,626 608,622 608,624 608,622 608,626 609,627 609,623 609,623 609,622 609,622 609,620 609,617 609,618 610,619 610,616 610,619 610,622 610,620 610,625 610,625 611,622 611,621 611,621 611,618 611,624 611,619 611,619 611,617 612,618 612,618 612,615 612,615 612,617 612,613 612,616 612,618 613,615 613,617 613,621 613,620 613,621 613,622 613,623 613,621 614,620 614,623 614,620 614,622 614,620 614,622 614,625 615,623 615,624 615,627 615,626 615,622 615,625 615,621 615,625 616,622 616,624 616,625 616,624 616,625 616,619 616,621 616,623 617,619 617,623 617,624 617,622 617,624 617,625 617,627 617,626 618,627 618,629 618,628 618,628 618,629 618,628 618,624 618,623 619,624 619,624 619,622 619,620 619,617 619,619 619,620 620,620 620,618 620,617 620,615 620,622 620,620 620,618 620,620 621,618 621,620 621,617 621,614 621,612 621,616 621,615 621,611 622,612 622,612 622,613 622,615 622,617 622,615 622,612 622,613 623,609 623,607 623,606 623,605 623,607 623,605 623,602 624,603 624,604 624,602 624,604 624,600 624,601 624,603 624,601 625,602 625,598 625,601 625,596 625,599 625,599 625,601 625,601 626,599 626,600 626,600 626,594 626,598 626,596 626,596 626,596 627,591 627,590 627,592 627,593 627,590 627,593 627,588 628,590 628,592 628,594 628,593 628,597 628,592 628,590 628,596 629,593 629,590 629,592 629,593 629,590 629,594 629,593 629,597 630,597 630,600 630,601 630,599 630,596 630,594 630,598 630,593 631,596 631,597 631,594 631,593 631,594 631,591 631,589 631,587 632,587 632,586 632,577 632,580 632,582 632,578 632,577 633,576 633,581 633,577 633,575 633,573 633,571 633,572 633,573 634,566 634,572 634,569 634,566 634,568 634,564 634,566 634,565 635,564 635,567 635,571 635,567 635,568 635,569 635,569 635,571 636,571 636,568 636,570 636,566 636,568 636,567 636,567 637,565 637,562 637,560 637,559 637,557 637,558 637,557 637,558 638,555 638,555 638,556 638,554 638,559 638,560 638,559 638,554 639,558 639,557 639,557 639,554 639,554 639,551 639,552 639,550 640,558 640,555 640,555 640,558 640,557 640,554 640,555 641,554 641,559 641,556 641,560 641,558 641,561 641,558 641,559 642,560 642,558 642,556 642,551 642,555 642,551 642,551 642,551 643,550 643,549 643,551 643,551 643,551 643,548 643,548 643,548 644,550 644,551 644,553 644,551 644,552 644,553 644,552 644,553 645,549 645,549 645,546 645,549 645,543 645,548 645,550 646,548 646,550 646,547 646,552 646,553 646,546 646,550 646,550 647,552 647,551 647,550 647,547 647,546 647,550 647,543 647,543 648,541 648,546 648,543 648,543 648,541 648,545 648,539 648,541 649,546 649,539 649,542 649,537 649,543 649,540 649,541 650,537 650,540 650,540 650,538 650,538 650,535 650,538 650,538 651,538 651,538 651,539 651,541 651,540 651,540 651,538 651,538 652,534 652,538 652,537 652,534 652,534 652,532 652,534 652,534 653,531 653,534 653,537 653,535 653,538 653,536 653,538 654,538 654,540 654,538 654,538 654,537 654,538 654,537 654,536 655,533 655,537 655,538 655,535 655,535 655,532 655,531 655,530 656,535 656,529 656,526 656,527 656,524 656,525 656,527 656,525 657,527 657,532 657,528 657,532 657,531 657,534 657,531 657,527 658,529 658,532 658,532 658,528 658,532 658,531 658,529 659,532 659,531 659,527 659,533 659,526 659,524 659,522 659,521 660,522 660,523 660,519 660,521 660,528 660,527 660,525 660,527 661,529 661,529 661,529 661,527 661,527 661,527 661,529 661,524 662,529 662,529 662,528 662,529 662,531 662,529 662,527 663,530 663,524 663,519 663,524 663,524 663,522 663,523 663,525 664,523 664,525 664,525 664,524 664,526 664,527 664,526 664,529 665,529 665,531 665,529 665,527 665,531 665,528 665,531 665,529 666,529 666,528 666,530 666,528 666,528 666,531 666,529 667,535 667,537 667,534 667,535 667,534 667,533 667,531 667,529 668,533 668,531 668,533 668,534 668,531 668,534 668,533 668,533 669,534 669,530 669,527 669,533 669,531 669,531 669,534 669,534 670,535 670,536 670,534 670,531 670,530 670,532 670,526 670,533 671,531 671,528 671,531 671,530 671,528 671,532 671,533 672,529 672,528 672,531 672,529 672,535 672,532 672,528 672,528 673,530 673,532 673,533 673,528 673,527 673,529 673,527 673,528 674,529 674,530 674,530 674,530 674,526 674,528 674,529 674,527 675,529 675,531 675,531 675,531 675,534 675,533 675,535 676,535 676,534 676,535 676,533 676,533 676,530 676,535 676,534 677,536 677,534 677,533 677,530 677,531 677,531 677,532 677,531 678,531 678,537 678,532 678,536 678,539 678,537 678,535 678,536 679,540 679,539 679,536 679,538 679,535 679,536 679,539 680,537 680,540 680,539 680,540 680,543 680,548 680,552 680,551 681,551 681,553 681,549 681,551 681,555 681,551 681,551 681,548 682,553 682,550 682,552 682,548 682,549 682,552 682,548 682,551 683,549 683,552 683,552 683,556 683,557 683,558 683,556 683,561 684,552 684,555 684,554 684,557 684,555 684,554 684,549 685,551 685,550 685,546 685,549 685,550 685,552 685,546 685,542 686,543 686,542 686,545 686,538 686,541 686,537 686,534 686,537 687,542 687,539 687,541 687,540 687,539 687,537 687,538 687,540 688,538 688,540 688,538 688,539 688,536 688,536 688,536 689,536 689,536 689,532 689,534 689,534 689,537 689,535 689,536 690,534 690,530 690,533 690,533 690,537 690,534 690,537 690,534 691,531 691,529 691,533 691,536 691,529 691,529 691,531 691,535 692,528 692,531 692,531 692,536 692,535 692,531 692,536 693,533 693,534 693,533 693,531 693,534 693,532 693,531 693,533 694,531 694,532 694,534 694,528 694,529 694,531 694,528 694,532 695,528 695,526 695,525 695,529 695,527 695,526 695,529 695,523 696,529 696,532 696,529 696,526 696,532 696,525 696,528 696,530 697,531 697,529 697,535 697,534 697,535 697,532 697,534 698,533 698,532 698,530 698,528 698,532 698,530 698,531 698,530 699,528 699,532 699,532 699,530 699,528 699,526 699,529 699,528 700,529 700,526 700,528 700,525 700,525 700,530 700,527 700,528 701,528 701,526 701,528 701,523 701,520 701,520 701,523 702,523 702,526 702,524 702,526 702,526 702,526 702,526 702,528 703,526 703,530 703,528 703,530 703,532 703,528 703,530 703,531 704,527 704,530 704,528 704,531 704,527 704,534 704,531 704,530 705,527 705,530 705,525 705,528 705,528 705,532 705,526 706,530 706,529 706,527 706,525 706,527 706,524 706,525 706,525 707,523 707,519 707,521 707,523 707,521 707,521 707,524 707,522 708,523 708,527 708,521 708,526 708,522 708,525 708,525 708,524 709,526 709,525 709,525 709,523 709,528 709,527 709,527 709,528 710,529 710,528 710,527 710,522 710,529 710,526 710,528 711,521 711,526 711,524 711,530 711,525 711,524 711,523 711,520 712,521 712,517 712,520 712,522 712,517 712,517 712,519 712,517 713,517 713,520 713,520 713,514 713,518 713,517 713,516 713,522 714,522 714,521 714,521 714,523 714,524 714,523 714,521 715,518 715,521 715,512 715,516 715,512 715,511 715,514 715,514 716,513 716,513 716,512 716,513 716,512 716,512 716,515 716,514 717,513 717,517 717,518 717,517 717,518 717,520 717,519 717,513 718,515 718,515 718,511 718,511 718,514 718,508 718,514 719,516 719,513 719,509 719,509 719,504 719,505 719,507 719,509 720,509 720,505 720,509 720,508 720,510 720,510 720,507 720,512 721,508 721,512 721,513 721,506 721,513 721,505 721,507 721,506 722,508 722,507 722,510 722,512 722,512 722,511 722,514 722,515 723,520 723,517 723,519 723,517 723,517 723,518 723,514 724,516 724,510 724,507 724,509 724,514 724,513 724,511 724,512 725,512 725,511 725,515 725,511 725,511 725,511 725,515 725,513 726,514 726,513 726,519 726,518 726,518 726,515 726,518 726,520 727,518 727,515 727,512 727,514 727,515 727,520 727,516 728,517 728,516 728,518 728,517 728,520 728,519 728,520 728,516 729,524 729,524 729,520 729,522 729,517 729,520 729,521 729,524 730,522 730,522 730,525 730,525 730,525 730,533 730,532 730,527 731,527 731,528 731,529 731,528 731,531 731,531 731,529 732,532 732,530 732,530 732,533 732,529 732,531 732,532 732,534 733,530 733,534 733,529 733,529 733,533 733,531 733,528 733,532 734,533 734,531 734,533 734,532 734,535 734,533 734,531 734,532 735,532 735,534 735,533 735,531 735,531 735,530 735,531 735,531 736,531 736,527 736,530 736,530 736,525 736,528 736,525 737,523 737,522 737,528 737,524 737,522 737,522 737,522 737,517 738,522 738,524 738,522 738,524 738,524 738,526 738,527 738,530 739,522 739,526 739,527 739,526 739,526 739,523 739,526 739,528 740,526 740,528 740,524 740,533 740,535 740,529 740,531 741,527 741,530 741,528 741,532 741,529 741,535 741,538 741,536 742,536 742,532 742,536 742,535 742,536 742,542 742,536 742,539 743,537 743,537 743,538 743,536 743,540 743,541 743,537 743,541 744,541 744,541 744,540 744,544 744,544 744,540 744,542 745,540 745,539 745,540 745,538 745,539 745,540 745,535 745,537 746,540 746,540 746,541 746,539 746,540 746,538 746,540 746,541 747,539 747,537 747,536 747,536 747,536 747,535 747,536 747,532 748,537 748,539 748,539 748,541 748,542 748,544 748,547 748,541 749,547 749,545 749,540 749,538 749,540 749,541 749,540 750,540 750,542 750,544 750,543 750,544 750,542 750,542 750,541 751,536 751,540 751,538 751,532 751,533 751,532 751,534 751,535 752,532 752,537 752,528 752,530 752,534 752,533 752,529 752,532 753,528 753,529 753,529 753,526 753,527 753,527 753,529 754,521 754,526 754,526 754,524 754,523 754,523 754,521 754,523 755,522 755,523 755,523 755,522 755,529 755,531 755,524 755,526 756,526 756,521 756,522 756,521 756,520 756,522 756,519 756,522 757,523 757,523 757,519 757,522 757,520 757,522 757,522 758,523 758,520 758,521 758,521 758,517 758,520 758,517 758,515 759,519 759,516 759,518 759,517 759,515 759,522 759,523 759,519 760,526 760,525 760,524 760,524 760,525 760,527 760,526 760,524 761,528 761,524 761,530 761,523 761,520 761,522 761,520 761,517 762,515 762,520 762,517 762,517 762,521 762,519 762,518 763,517 763,518 763,516 763,515 763,522 763,520 763,526 763,525 764,527 764,525 764,520 764,528 764,523 764,525 764,521 764,521 765,525 765,524 765,526 765,524 765,520 765,518 765,520 765,523 766,520 766,524 766,523 766,520 766,520 766,521 766,521 767,523 767,518 767,518 767,522 767,518 767,526 767,518 767,517 768,520 768,519 768,521 768,519 768,514 768,516 768,516 768,520 769,521 769,519 769,522 769,521 769,519 769,514 769,521 769,517 770,520 770,516 770,517 770,521 770,516 770,523 770,524 771,523 771,519 771,521 771,519 771,518 771,521 771,521 771,516 772,516 772,514 772,513 772,513 772,513 772,513 772,514 772,510 773,512 773,510 773,508 773,510 773,509 773,510 773,512 773,510 774,509 774,513 774,509 774,511 774,511 774,515 774,511 774,510 775,517 775,510 775,512 775,510 775,514 775,509 775,511 776,512 776,514 776,515 776,515 776,515 776,512 776,515 776,508 777,514 777,512 777,512 777,513 777,513 777,518 777,508 777,512 778,512 778,513 778,509 778,511 778,510 778,507 778,507 778,509 779,510 779,510 779,512 779,512 779,513 779,517 779,511 780,517 780,518 780,516 780,512 780,514 780,515 780,513 780,508 781,514 781,514 781,516 781,513 781,515 781,515 781,516 781,519 782,518 782,521 782,522 782,521 782,522 782,528 782,529 782,521 783,526 783,526 783,524 783,523 783,526 783,524 783,529 784,529 784,531 784,524 784,526 784,525 784,523 784,529 784,521 785,527 785,533 785,527 785,527 785,532 785,534 785,531 785,532 786,539 786,535 786,534 786,538 786,535 786,536 786,533 786,530 787,529 787,532 787,531 787,533 787,532 787,528 787,532 787,536 788,535 788,535 788,534 788,537 788,532 788,533 788,534 789,532 789,529 789,535 789,534 789,533 789,535 789,538 789,537 790,533 790,535 790,536 790,535 790,535 790,535 790,529 790,532 791,529 791,531 791,529 791,530 791,528 791,527 791,531 791,535 792,531 792,529 792,532 792,534 792,534 792,538 792,537 793,534 793,533 793,533 793,537 793,538 793,539 793,539 793,538 794,540 794,535 794,542 794,536 794,538 794,543 794,542 794,544 795,541 795,542 795,543 795,547 795,544 795,549 795,548 795,548 796,553 796,556 796,554 796,550 796,556 796,554 796,555 797,552 797,557 797,557 797,559 797,558 797,562 797,562 797,565 798,563 798,565 798,565 798,571 798,565 798,568 798,565 798,565 799,570 799,568 799,569 799,568 799,567 799,568 799,569 799,565 800,572 800,569 800,571 800,570 800,569 800,567 800,569 800,564 801,567 801,567 801,569 801,567 801,571 801,571 801,569 802,570 802,576 802,579 802,571 802,576 802,576 802,577 802,576 803,576 803,575 803,577 803,574 803,574 803,575 803,576 803,577 804,575 804,578 804,581 804,580 804,582 804,584 804,581 804,581 805,582 805,581 805,579 805,583 805,583 805,585 805,584 806,586 806,583 806,586 806,585 806,587 806,590 806,588 806,594 807,588 807,592 807,595 807,593 807,594 807,593 807,590 807,591 808,594 808,594 808,590 808,588 808,593 808,589 808,590 808,590 809,588 809,593 809,592 809,595 809,592 809,596 809,595 810,594 810,594 810,594 810,598 810,593 810,592 810,590 810,594 811,591 811,589 811,591 811,594 811,594 811,592 811,589 811,592 812,588 812,593 812,591 812,591 812,596 812,591 812,595 812,598 813,592 813,589 813,589 813,585 813,582 813,583 813,582 813,580 814,582 814,580 814,583 814,585 814,582 814,584 814,583 815,584 815,583 815,589 815,584 815,586 815,586 815,582 815,587 816,582 816,586 816,582 816,582 816,584 816,581 816,589 816,582 817,583 817,581 817,584 817,582 817,583 817,581 817,581 817,585 818,577 818,581 818,575 818,581 818,580 818,578 818,582 819,581 819,584 819,584 819,585 819,584 819,580 819,585 819,583 820,583 820,582 820,582 820,581 820,580 820,577 820,586 820,584 821,584 821,583 821,590 821,582 821,585 821,581 821,583 821,584 822,584 822,582 822,582 822,586 822,583 822,584 822,582 823,585 823,584 823,582 823,579 823,581 823,583 823,582 823,577 824,578 824,580 824,578 824,581 824,581 824,580 824,577 824,579 825,582 825,580 825,581 825,578 825,580 825,581 825,584 825,582 826,583 826,588 826,585 826,584 826,583 826,583 826,582 826,580 827,580 827,581 827,584 827,587 827,584 827,584 827,583 828,580 828,584 828,588 828,584 828,587 828,587 828,585 828,582 829,584 829,582 829,584 829,585 829,584 829,582 829,586 829,585 830,585 830,586 830,589 830,588 830,589 830,592 830,590 830,589 831,584 831,590 831,590 831,587 831,588 831,589 831,592 832,596 832,586 832,590 832,588 832,591 832,592 832,592 832,589 833,591 833,589 833,597 833,597 833,598 833,598 833,599 833,606 834,605 834,608 834,608 834,604 834,606 834,604 834,602 834,603 835,600 835,602 835,604 835,607 835,606 835,605 835,607 836,610 836,609 836,611 836,604 836,606 836,609 836,606 836,604 837,604 837,606 837,611 837,604 837,609 837,605 837,606 837,609 838,609 838,608 838,608 838,608 838,608 838,604 838,606 838,610 839,610 839,607 839,606 839,608 839,612 839,603 839,609 839,607 840,608 840,609 840,609 840,608 840,604 840,600 840,603 841,601 841,600 841,599 841,602 841,599 841,601 841,601 841,606 842,599 842,601 842,596 842,596 842,600 842,598 842,600 842,602 843,601 843,603 843,606 843,608 843,602 843,605 843,603 843,600 844,598 844,597 844,598 844,596 844,596 844,592 844,595 845,596 845,599 845,596 845,598 845,600 845,599 845,595 845,595 846,598 846,600 846,598 846,600 846,595 846,593 846,594 846,593 847,592 847,593 847,590 847,593 847,591 847,587 847,590 847,586 848,584 848,583 848,582 848,582 848,580 848,582 848,585 849,583 849,584 849,587 849,583 849,582 849,586 849,585 849,582 850,582 850,576 850,578 850,575 850,576 850,572 850,569 850,570 851,573 851,566 851,566 851,565 851,564 851,568 851,569 851,570 852,564 852,564 852,564 852,559 852,562 852,561 852,562 852,559 853,561 853,557 853,554 853,558 853,554 853,560 853,556 854,557 854,557 854,555 854,552 854,554 854,555 854,557 854,558 855,556 855,556 855,556 855,554 855,551 855,557 855,552 855,555 856,552 856,560 856,558 856,564 856,563 856,562 856,562 856,560 857,564 857,562 857,562 857,562 857,561 857,559 857,566 858,562 858,563 858,562 858,561 858,562 858,567 858,561 858,563 859,565 859,562 859,564 859,569 859,563 859,560 859,564 859,566 860,562 860,565 860,562 860,561 860,563 860,567 860,562 860,564 861,567 861,565 861,567 861,572 861,567 861,569 861,569 862,565 862,570 862,570 862,572 862,572 862,571 862,571 862,569 863,569 863,574 863,572 863,572 863,572 863,573 863,569 863,571 864,571 864,571 864,572 864,573 864,569 864,567 864,564 864,565 865,563 865,562 865,562 865,557 865,558 865,558 865,559 865,564 866,558 866,562 866,559 866,561 866,560 866,563 866,565 867,561 867,561 867,560 867,560 867,559 867,559 867,559 867,559 868,558 868,554 868,558 868,557 868,554 868,556 868,555 868,554 869,557 869,560 869,555 869,562 869,555 869,558 869,558 869,557 870,559 870,560 870,561 870,557 870,558 870,561 870,555 871,557 871,553 871,554 871,554 871,553 871,555 871,552 871,552 872,553 872,549 872,550 872,552 872,554 872,555 872,553 872,553 873,550 873,551 873,551 873,551 873,552 873,549 873,553 873,554 874,551 874,555 874,557 874,553 874,552 874,553 874,556 875,554 875,557 875,554 875,553 875,554 875,551 875,551 875,552 876,549 876,551 876,551 876,548 876,547 876,555 876,553 876,555 877,552 877,552 877,552 877,555 877,552 877,554 877,554 877,552 878,553 878,551 878,554 878,550 878,554 878,555 878,555 878,552 879,547 879,551 879,553 879,554 879,552 879,555 879,547 880,553 880,554 880,552 880,554 880,554 880,553 880,553 880,552 881,553 881,554 881,551 881,559 881,552 881,557 881,552 881,554 882,558 882,558 882,556 882,558 882,556 882,551 882,556 882,555 883,557 883,557 883,558 883,556 883,555 883,556 883,562 884,558 884,552 884,553 884,552 884,551 884,553 884,553 884,553 885,551 885,550 885,548 885,550 885,552 885,549 885,552 885,550 886,550 886,550 886,550 886,548 886,551 886,549 886,547 886,546 887,550 887,546 887,546 887,546 887,547 887,546 887,549 888,553 888,552 888,548 888,551 888,548 888,550 888,553 888,550 889,558 889,551 889,551 889,552 889,553 889,553 889,554 889,553 890,555 890,557 890,557 890,554 890,555 890,556 890,552 890,553 891,556 891,554 891,558 891,557 891,555 891,554 891,555 891,550 892,551 892,551 892,552 892,554 892,555 892,552 892,555 893,558 893,558 893,560 893,559 893,563 893,563 893,560 893,554 894,558 894,557 894,560 894,556 894,561 894,565 894,566 894,566 895,568 895,567 895,565 895,569 895,563 895,563 895,565 895,565 896,566 896,569 896,567 896,569 896,571 896,574 896,573 897,570 897,572 897,575 897,572 897,576 897,576 897,576 897,578 898,573 898,572 898,574 898,569 898,577 898,574 898,575 898,573 899,574 899,573 899,576 899,573 899,573 899,575 899,578 899,578 900,577 900,575 900,577 900,574 900,574 900,576 900,573 901,577 901,574 901,570 901,577 901,574 901,571 901,573 901,575 902,573 902,575 902,572 902,571 902,573 902,572 902,576 902,570 903,575 903,573 903,574 903,574 903,572 903,572 903,573 903,573 904,569 904,574 904,568 904,571 904,568 904,566 904,566 904,567 905,565 905,567 905,569 905,570 905,573 905,571 905,568 906,572 906,573 906,575 906,578 906,576 906,575 906,577 906,577 907,575 907,574 907,578 907,573 907,578 907,578 907,580 907,576 908,582 908,579 908,578 908,578 908,578 908,583 908,581 908,584 909,589 909,580 909,584 909,583 909,582 909,584 909,584 910,581 910,580 910,579 910,585 910,581 910,588 910,584 910,588 911,585 911,585 911,586 911,585 911,586 911,589 911,588 911,593 912,596 912,596 912,600 912,600 912,600 912,597 912,596 912,603 913,602 913,598 913,600 913,597 913,600 913,603 913,598 914,609 914,606 914,607 914,611 914,616 914,619 914,616 914,619 915,618 915,616 915,616 915,612 915,613 915,619 915,616 915,618 916,622 916,620 916,621 916,624 916,622 916,620 916,625 916,626 917,626 917,625 917,624 917,630 917,631 917,630 917,630 917,624 918,625 918,632 918,627 918,626 918,627 918,626 918,627 919,626 919,624 919,634 919,628 919,625 919,628 919,629 919,627 920,626 920,627 920,628 920,633 920,630 920,629 920,633 920,635 921,629 921,626 921,630 921,624 921,627 921,626 921,624 921,629 922,625 922,628 922,623 922,626 922,624 922,623 922,624 923,622 923,622 923,618 923,621 923,621 923,621 923,621 923,619 924,621 924,621 924,622 924,622 924,620 924,623 924,621 924,619 925,625 925,622 925,628 925,626 925,624 925,625 925,629 925,627 926,624 926,630 926,635 926,636 926,636 926,634 926,631 927,632 927,629 927,632 927,632 927,629 927,632 927,628 927,628 928,633 928,632 928,632 928,632 928,632 928,634 928,630 928,632 929,632 929,632 929,636 929,633 929,636 929,631 929,639 929,634 930,639 930,637 930,635 930,639 930,636 930,633 930,637 930,638 931,633 931,632 931,630 931,631 931,631 931,628 931,629 932,628 932,634 932,628 932,629 932,629 932,626 932,625 932,620 933,620 933,621 933,618 933,622 933,626 933,625 933,621 933,622 934,623 934,623 934,626 934,620 934,620 934,618 934,620 934,619 935,616 935,620 935,616 935,615 935,611 935,611 935,610 936,614 936,615 936,613 936,611 936,612 936,617 936,609 936,610 937,613 937,610 937,609 937,609 937,608 937,606 937,607 937,603 938,604 938,605 938,603 938,603 938,599 938,602 938,604 938,605 939,608 939,610 939,609 939,611 939,612 939,612 939,613 940,610 940,612 940,610 940,614 940,607 940,610 940,610 940,606 941,604 941,604 941,605 941,607 941,607 941,603 941,606 941,604 942,602 942,603 942,609 942,605 942,610 942,603 942,603 942,605 943,607 943,605 943,605 943,601 943,602 943,599 943,604 943,606 944,600 944,606 944,608 944,604 944,601 944,604 944,602 945,601 945,603 945,602 945,600 945,603 945,599 945,607 945,607 946,606 946,608 946,607 946,605 946,603 946,610 946,607 946,608 947,605 947,606 947,607 947,606 947,605 947,608 947,606 947,609 948,603 948,607 948,605 948,604 948,609 948,613 948,609 949,612 949,608 949,611 949,608 949,608 949,612 949,606 949,603 950,611 950,609 950,611 950,608 950,608 950,607 950,606 950,606 951,609 951,611 951,607 951,607 951,606 951,604 951,608 951,611 952,612 952,615 952,615 952,618 952,617 952,620 952,621 953,617 953,616 953,616 953,619 953,619 953,618 953,612 953,612 954,612 954,609 954,609 954,607 954,608 954,604 954,604 954,608 955,605 955,604 955,603 955,610 955,609 955,609 955,612 955,611 956,610 956,612 956,608 956,610 956,610 956,609 956,606 956,606 957,609 957,610 957,616 957,613 957,612 957,616 957,615 958,618 958,620 958,618 958,615 958,616 958,619 958,618 958,614 959,613 959,608 959,611 959,611 959,605 959,607 959,605 959,605 960,604 960,601 960,605 960,608 960,609 960,606 960,609 960,611 961,607 961,610 961,605 961,602 961,607 961,604 961,605 962,606 962,603 962,610 962,607 962,602 962,606 962,607 962,605 963,604 963,604 963,603 963,602 963,604 963,604 963,604 963,607 964,603 964,600 964,603 964,600 964,598 964,599 964,599 964,602 965,601 965,600 965,598 965,604 965,599 965,601 965,602 966,603 966,598 966,595 966,598 966,595 966,594 966,593 966,594 967,595 967,594 967,595 967,596 967,596 967,595 967,599 967,594 968,595 968,591 968,592 968,592 968,594 968,591 968,592 968,596 969,596 969,597 969,593 969,594 969,595 969,594 969,594 969,599 970,598 970,597 970,595 970,596 970,600 970,597 970,600 971,602 971,603 971,602 971,607 971,605 971,605 971,601 971,601 972,601 972,592 972,605 972,600 972,594 972,597 972,602 972,597 973,598 973,596 973,596 973,599 973,600 973,600 973,601 973,604 974,603 974,604 974,606 974,611 974,605 974,609 974,609 975,606 975,610 975,606 975,608 975,611 975,606 975,606 975,604 976,604 976,602 976,601 976,603 976,601 976,607 976,606 976,606 977,607 977,605 977,609 977,607 977,608 977,608 977,610 977,608 978,609 978,604 978,610 978,608 978,607 978,609 978,613 979,614 979,610 979,617 979,614 979,612 979,618 979,616 979,616 980,615 980,613 980,616 980,616 980,612 980,612 980,615 980,616 981,615 981,611 981,612 981,610 981,612 981,612 981,617 981,614 982,620 982,613 982,619 982,617 982,618 982,613 982,615 982,613 983,613 983,616 983,615 983,616 983,614 983,611 983,611 984,610 984,614 984,615 984,611 984,613 984,614 984,615 984,613 985,612 985,615 985,616 985,618 985,616 985,618 985,619 985,616 986,616 986,616 986,620 986,619 986,618 986,613 986,616 986,616 987,618 987,620 987,614 987,617 987,616 987,614 987,615 988,612 988,615 988,611 988,614 988,614 988,609 988,611 988,609 989,607 989,606 989,603 989,606 989,604 989,604 989,610 989,610 990,606 990,608 990,608 990,604 990,603 990,604 990,600 990,606 991,600 991,597 991,599 991,601 991,600 991,603 991,606 992,605 992,604 992,604 992,605 992,610 992,598 992,602 992,606 993,603 993,599 993,603 993,597 993,598 993,594 993,599 993,597 994,594 994,596 994,599 994,599 994,598 994,602 994,597 994,596 995,598 995,597 995,594 995,590 995,593 995,591 995,590 995,589 996,588 996,592 996,596 996,593 996,591 996,598 996,596 997,598 997,601 997,598 997,600 997,599 997,597 997,598 997,595 998,590 998,592 998,589 998,594 998,585 998,589 998,589 998,590 999,589 999,586 999,581 999,582 999,577 999,582 999,584 999,582 1000,579 1000,580 1000,586 1000,587 1000,583 1000,591 1000,586 1001,589 1001,588 1001,588 1001,584 1001,582 1001,585 1001,581 1001,581 1002,583 1002,582 1002,579 1002,580 1002,581 1002,578 1002,580 1002,584 1003,579 1003,581 1003,581 1003,581 1003,586 1003,583 1003,585 1003,584 1004,579 1004,583 1004,578 1004,581 1004,580 1004,577 1004,577 1005,581 1005,576 1005,578 1005,576 1005,574 1005,576 1005,579 1005,575 1006,577 1006,580 1006,583 1006,583 1006,584 1006,585 1006,581 1006,582 1007,580 1007,580 1007,576 1007,569 1007,577 1007,571 1007,572 1007,573 1008,573 1008,572 1008,575 1008,567 1008,567 1008,564 1008,564 1009,563 1009,563 1009,565 1009,563 1009,566 1009,566 1009,568 1009,567 1010,564 1010,567 1010,564 1010,565 1010,568 1010,563 1010,563 1010,562 1011,559 1011,559 1011,561 1011,558 1011,559 1011,558 1011,552 1011,560 1012,555 1012,555 1012,552 1012,551 1012,555 1012,559 1012,550 1012,555 1013,554 1013,554 1013,553 1013,551 1013,553 1013,549 1013,548 1014,551 1014,552 1014,549 1014,550 1014,553 1014,554 1014,561 1014,558 1015,558 1015,559 1015,557 1015,557 1015,559 1015,559 1015,556 1015,560 1016,561 1016,558 1016,561 1016,557 1016,558 1016,559 1016,561 1016,562 1017,564 1017,560 1017,565 1017,565 1017,565 1017,565 1017,568 1018,563 1018,561 1018,565 1018,567 1018,564 1018,562 1018,560 1018,562 1019,559 1019,561 1019,563 1019,556 1019,559 1019,560 1019,561 1019,558 1020,563 1020,560 1020,558 1020,562 1020,560 1020,558 1020,557 1020,559 1021,563 1021,563 1021,560 1021,555 1021,559 1021,556 1021,556 1022,552 1022,556 1022,556 1022,557 1022,554 1022,554 1022,554 1022,553 1023,554 1023,555 1023,554 1023,554 1023,552 1023,551 1023,547 1023,550 1024,553 1024,552 1024,555 1024,553 1024,552 1024,554 1024,550 1024,552 1025,554 1025,550 1025,550 1025,551 1025,550 1025,552 1025,547 1025,551 1026,548 1026,549 1026,546 1026,549 1026,545 1026,545 1026,547 1027,543 1027,547 1027,544 1027,542 1027,542 1027,540 1027,544 1027,546 1028,540 1028,547 1028,542 1028,545 1028,545 1028,548 1028,549 1028,546 1029,543 1029,542 1029,541 1029,535 1029,537 1029,533 1029,534 1029,533 1030,535 1030,543 1030,538 1030,540 1030,536 1030,542 1030,542 1031,542 1031,541 1031,542 1031,536 1031,538 1031,538 1031,536 1031,542 1032,536 1032,540 1032,539 1032,540 1032,540 1032,539 1032,537 1032,537 1033,538 1033,536 1033,539 1033,542 1033,541 1033,540 1033,538 1033,539 1034,539 1034,540 1034,542 1034,541 1034,543 1034,537 1034,538 1035,534 1035,533 1035,533 1035,526 1035,529 1035,529 1035,523 1035,526 1036,521 1036,523 1036,528 1036,526 1036,523 1036,524 1036,523 1036,523 1037,522 1037,524 1037,523 1037,521 1037,520 1037,519 1037,521 1037,520 1038,514 1038,518 1038,520 1038,522 1038,519 1038,518 1038,519 1038,521 1039,515 1039,520 1039,519 1039,520 1039,522 1039,520 1039,523 1040,523 1040,517 1040,521 1040,521 1040,524 1040,521 1040,522 1040,523 1041,521 1041,521 1041,524 1041,520 1041,520 1041,520 1041,516 1041,521 1042,515 1042,517 1042,514 1042,516 1042,517 1042,518 1042,523 1042,521 1043,522 1043,519 1043,518 1043,519 1043,520 1043,519 1043,521 1044,522 1044,518 1044,524 1044,525 1044,524 1044,524 1044,522 1044,519 1045,526 1045,520 1045,524 1045,527 1045,528 1045,524 1045,531 1045,529 1046,525 1046,533 1046,530 1046,527 1046,530 1046,531 1046,529 1046,535 1047,533 1047,529 1047,531 1047,534 1047,525 1047,530 1047,529 1048,530 1048,531 1048,532 1048,531 1048,535 1048,532 1048,528 1048,530 1049,530 1049,529 1049,527 1049,526 1049,526 1049,526 1049,525 1049,523 1050,524 1050,519 1050,520 1050,517 1050,518 1050,519 1050,519 1050,516 1051,518 1051,516 1051,513 1051,513 1051,515 1051,514 1051,513 1051,512 1052,513 1052,513 1052,514 1052,507 1052,506 1052,504 1052,507 1053,505 1053,505 1053,506 1053,504 1053,507 1053,509 1053,504 1053,510 1054,506 1054,507 1054,504 1054,507 1054,506 1054,507 1054,503 1054,507 1055,509 1055,508 1055,505 1055,505 1055,507 1055,501 1055,508 1055,505 1056,506 1056,506 1056,505 1056,507 1056,506 1056,505 1056,506 1057,502 1057,505 1057,500 1057,506 1057,500 1057,504 1057,499 1057,503 1058,503 1058,502 1058,511 1058,507 1058,507 1058,509 1058,505 1058,500 1059,510 1059,505 1059,500 1059,500 1059,496 1059,497 1059,495 1059,494 1060,498 1060,498 1060,502 1060,504 1060,501 1060,503 1060,504 1061,505 1061,505 1061,503 1061,504 1061,507 1061,505 1061,502 1061,502 1062,505 1062,503 1062,504 1062,499 1062,503 1062,505 1062,503 1062,507 1063,508 1063,511 1063,511 1063,511 1063,511 1063,512 1063,511 1063,513 1064,509 1064,513 1064,515 1064,511 1064,512 1064,511 1064,512 1064,507 1065,512 1065,509 1065,511 1065,510 1065,512 1065,508 1065,513 1066,511 1066,512 1066,511 1066,513 1066,511 1066,512 1066,511 1066,508 1067,508 1067,509 1067,510 1067,512 1067,510 1067,513 1067,514 1067,509 1068,511 1068,511 1068,507 1068,511 1068,508 1068,513 1068,514 1068,514 1069,511 1069,513 1069,517 1069,521 1069,521 1069,519 1069,521 1070,524 1070,522 1070,517 1070,523 1070,526 1070,524 1070,523 1070,521 1071,524 1071,527 1071,524 1071,520 1071,523 1071,518 1071,523 1071,520 1072,521 1072,523 1072,522 1072,521 1072,524 1072,525 1072,524 1072,524 1073,524 1073,527 1073,527 1073,524 1073,523 1073,520 1073,523 1074,521 1074,522 1074,522 1074,514 1074,519 1074,521 1074,520 1074,520 1075,522 1075,524 1075,523 1075,523 1075,521 1075,521 1075,526 1075,524 1076,523 1076,516 1076,518 1076,520 1076,519 1076,518 1076,521 1076,514 1077,515 1077,515 1077,515 1077,516 1077,516 1077,518 1077,513 1077,516 1078,513 1078,514 1078,514 1078,512 1078,514 1078,516 1078,512 1079,509 1079,511 1079,509 1079,509 1079,504 1079,505 1079,507 1079,503 1080,501 1080,503 1080,506 1080,507 1080,504 1080,497 1080,504 1080,505 1081,502 1081,500 1081,502 1081,501 1081,499 1081,496 1081,497 1081,497 1082,495 1082,492 1082,493 1082,490 1082,488 1082,492 1082,493 1083,491 1083,494 1083,488 1083,486 1083,485 1083,484 1083,482 1083,479 1084,482 1084,479 1084,478 1084,474 1084,471 1084,475 1084,473 1084,473 1085,474 1085,474 1085,473 1085,472 1085,478 1085,475 1085,480 1085,477 1086,480 1086,483 1086,483 1086,481 1086,477 1086,479 1086,476 1087,477 1087,477 1087,476 1087,477 1087,476 1087,480 1087,475 1087,480 1088,481 1088,477 1088,479 1088,475 1088,478 1088,477 1088,476 1088,470 1089,476 1089,472 1089,469 1089,474 1089,471 1089,472 1089,472 1089,472 1090,473 1090,474 1090,472 1090,471 1090,474 1090,473 1090,474 1090,476 1091,478 1091,476 1091,477 1091,473 1091,476 1091,475 1091,479 1092,476 1092,473 1092,476 1092,475 1092,477 1092,478 1092,477 1092,480 1093,479 1093,475 1093,481 1093,483 1093,480 1093,483 1093,485 1093,484 1094,484 1094,484 1094,481 1094,480 1094,481 1094,480 1094,477 1094,478 1095,482 1095,489 1095,485 1095,489 1095,487 1095,489 1095,482 1096,486 1096,483 1096,490 1096,482 1096,485 1096,483 1096,485 1096,485 1097,488 1097,484 1097,487 1097,483 1097,485 1097,482 1097,476 1097,479 1098,479 1098,479 1098,480 1098,482 1098,478 1098,479 1098,482 1098,476 1099,474 1099,477 1099,473 1099,475 1099,472 1099,475 1099,475 1100,472 1100,471 1100,474 1100,473 1100,473 1100,473 1100,467 1100,470 1101,473 1101,472 1101,471 1101,470 1101,472 1101,469 1101,471 1101,469 1102,465 1102,466 1102,467 1102,465 1102,465 1102,464 1102,465 1102,469 1103,467 1103,471 1103,465 1103,468 1103,470 1103,469 1103,471 1103,468 1104,464 1104,467 1104,465 1104,466 1104,464 1104,463 1104,470 1105,466 1105,468 1105,467 1105,463 1105,462 1105,466 1105,463 1105,467 1106,463 1106,462 1106,465 1106,461 1106,460 1106,463 1106,463 1106,460 1107,460 1107,461 1107,459 1107,462 1107,463 1107,466 1107,466 1107,467 1108,464 1108,466 1108,470 1108,471 1108,471 1108,468 1108,469 1109,469 1109,468 1109,467 1109,469 1109,469 1109,464 1109,465 1109,463 1110,458 1110,461 1110,459 1110,454 1110,455 1110,456 1110,462 1110,460 1111,458 1111,460 1111,459 1111,453 1111,459 1111,457 1111,456 1111,448 1112,453 1112,454 1112,454 1112,453 1112,448 1112,452 1112,450 1113,453 1113,448 1113,447 1113,450 1113,450 1113,451 1113,446 1113,448 1114,442 1114,444 1114,448 1114,447 1114,447 1114,443 1114,441 1114,444 1115,446 1115,442 1115,445 1115,444 1115,447 1115,443 1115,442 1115,444 1116,438 1116,437 1116,436 1116,445 1116,433 1116,438 1116,438 1116,442 1117,441 1117,442 1117,440 1117,446 1117,444 1117,445 1117,447 1118,447 1118,446 1118,450 1118,447 1118,447 1118,445 1118,442 1118,449 1119,444 1119,451 1119,451 1119,451 1119,456 1119,448 1119,451 1119,450 1120,446 1120,449 1120,447 1120,451 1120,446 1120,448 1120,448 1120,448 1121,446 1121,449 1121,445 1121,445 1121,449 1121,442 1121,441 1122,443 1122,443 1122,442 1122,441 1122,442 1122,446 1122,443 1122,446 1123,442 1123,441 1123,444 1123,442 1123,446 1123,442 1123,446 1123,442 1124,441 1124,441 1124,440 1124,443 1124,444 1124,446 1124,445 1124,448 1125,443 1125,447 1125,446 1125,448 1125,446 1125,451 1125,449 1126,452 1126,447 1126,452 1126,451 1126,453 1126,452 1126,453 1126,453 1127,447 1127,452 1127,451 1127,449 1127,444 1127,456 1127,450 1127,452 1128,451 1128,453 1128,451 1128,449 1128,452 1128,455 1128,453 1128,450 1129,449 1129,449 1129,453 1129,452 1129,454 1129,453 1129,454 1129,458 1130,455 1130,460 1130,454 1130,459 1130,459 1130,461 1130,459 1131,463 1131,464 1131,459 1131,466 1131,464 1131,457 1131,458 1131,457 1132,461 1132,465 1132,463 1132,461 1132,455 1132,463 1132,460 1132,461 1133,459 1133,462 1133,464 1133,463 1133,468 1133,466 1133,466 1133,470 1134,468 1134,468 1134,466 1134,465 1134,467 1134,466 1134,469 1135,471 1135,469 1135,473 1135,475 1135,477 1135,480 1135,480 1135,475 1136,470 1136,471 1136,475 1136,474 1136,473 1136,472 1136,472 1136,474 1137,470 1137,467 1137,473 1137,472 1137,470 1137,473 1137,470 1137,471 1138,473 1138,466 1138,472 1138,466 1138,466 1138,465 1138,464 1139,460 1139,461 1139,462 1139,461 1139,458 1139,456 1139,461 1139,459 1140,461 1140,459 1140,458 1140,460 1140,458 1140,455 1140,457 1140,457 1141,459 1141,453 1141,453 1141,448 1141,451 1141,446 1141,446 1141,442 1142,442 1142,444 1142,442 1142,435 1142,437 1142,437 1142,437 1142,436 1143,436 1143,435 1143,434 1143,433 1143,437 1143,438 1143,434 1144,435 1144,436 1144,432 1144,434 1144,436 1144,437 1144,434 1144,433 1145,439 1145,432 1145,429 1145,431 1145,430 1145,433 1145,430 1145,429 1146,425 1146,428 1146,427 1146,422 1146,427 1146,425 1146,426 1146,429 1147,427 1147,429 1147,431 1147,427 1147,436 1147,430 1147,431 1148,429 1148,430 1148,430 1148,428 1148,427 1148,426 1148,428 1148,425 1149,426 1149,428 1149,425 1149,427 1149,427 1149,429 1149,433 1149,428 1150,429 1150,431 1150,431 1150,427 1150,428 1150,427 1150,429 1150,432 1151,432 1151,430 1151,433 1151,430 1151,429 1151,428 1151,419 1152,429 1152,423 1152,426 1152,419 1152,424 1152,424 1152,423 1152,423 1153,426 1153,423 1153,426 1153,424 1153,427 1153,429 1153,428 1153,429 1154,430 1154,429 1154,430 1154,426 1154,425 1154,430 1154,429 1154,431 1155,428 1155,428 1155,433 1155,431 1155,436 1155,432 1155,430 1155,432 1156,431 1156,430 1156,428 1156,433 1156,433 1156,432 1156,435 1157,431 1157,434 1157,432 1157,434 1157,435 1157,432 1157,434 1157,435 1158,433 1158,435 1158,433 1158,432 1158,433 1158,430 1158,435 1158,437 1159,437 1159,440 1159,443 1159,439 1159,442 1159,442 1159,440 1159,438 1160,438 1160,441 1160,435 1160,434 1160,432 1160,428 1160,433 1161,425 1161,427 1161,429 1161,422 1161,426 1161,422 1161,426 1161,421 1162,421 1162,423 1162,420 1162,426 1162,419 1162,427 1162,424 1162,425 1163,432 1163,425 1163,426 1163,428 1163,427 1163,429 1163,424 1163,429 1164,428 1164,424 1164,423 1164,430 1164,425 1164,422 1164,422 1165,427 1165,425 1165,424 1165,423 1165,423 1165,428 1165,425 1165,425 1166,425 1166,428 1166,432 1166,430 1166,431 1166,434 1166,435 1166,431 1167,430 1167,433 1167,433 1167,435 1167,434 1167,432 1167,431 1167,432 1168,435 1168,429 1168,431 1168,431 1168,427 1168,423 1168,430 1168,427 1169,428 1169,426 1169,431 1169,430 1169,432 1169,432 1169,430 1170,430 1170,438 1170,440 1170,437 1170,434 1170,439 1170,435 1170,437 1171,438 1171,435 1171,436 1171,435 1171,440 1171,435 1171,434 1171,427 1172,433 1172,431 1172,428 1172,427 1172,427 1172,426 1172,433 1172,430 1173,432 1173,432 1173,437 1173,433 1173,436 1173,434 1173,435 1174,434 1174,433 1174,437 1174,439 1174,436 1174,438 1174,437 1174,438 1175,441 1175,438 1175,437 1175,435 1175,435 1175,434 1175,438 1175,436 1176,437 1176,441 1176,440 1176,441 1176,437 1176,436 1176,433 1176,429 1177,428 1177,432 1177,436 1177,435 1177,437 1177,442 1177,442 1178,442 1178,446 1178,449 1178,447 1178,447 1178,444 1178,448 1178,444 1179,445 1179,443 1179,443 1179,444 1179,447 1179,443 1179,440 1179,439 1180,439 1180,440 1180,439 1180,440 1180,437 1180,443 1180,441 1180,442 1181,441 1181,439 1181,438 1181,440 1181,441 1181,440 1181,442 1181,442 1182,446 1182,445 1182,443 1182,444 1182,445 1182,443 1182,446 1183,445 1183,445 1183,448 1183,442 1183,449 1183,449 1183,447 1183,443 1184,442 1184,446 1184,442 1184,444 1184,445 1184,441 1184,442 1184,443 1185,441 1185,441 1185,445 1185,440 1185,442 1185,443 1185,439 1185,440 1186,440 1186,440 1186,443 1186,442 1186,444 1186,446 1186,447 1187,444 1187,444 1187,450 1187,444 1187,447 1187,448 1187,451 1187,449 1188,449 1188,452 1188,446 1188,442 1188,447 1188,447 1188,442 1188,437 1189,437 1189,439 1189,438 1189,441 1189,437 1189,441 1189,437 1189,439 1190,436 1190,433 1190,433 1190,431 1190,430 1190,430 1190,431 1191,432 1191,428 1191,425 1191,422 1191,430 1191,427 1191,423 1191,420 1192,426 1192,423 1192,423 1192,425 1192,424 1192,426 1192,429 1192,423 1193,426 1193,428 1193,424 1193,427 1193,423 1193,427 1193,423 1193,424 1194,427 1194,425 1194,425 1194,427 1194,429 1194,429 1194,426 1194,424 1195,429 1195,421 1195,420 1195,417 1195,420 1195,420 1195,419 1196,423 1196,420 1196,424 1196,422 1196,420 1196,421 1196,423 1196,420 1197,420 1197,418 1197,421 1197,419 1197,418 1197,422 1197,420 1197,423 1198,419 1198,425 1198,422 1198,427 1198,423 1198,422 1198,424 1198,425 1199,427 1199,425 1199,426 1199,426 1199,426 1199,427 1199,422 1200,420 1200,420 1200,422 1200,422 1200,423 1200,422 1200,422 1200,424 1201,424 1201,421 1201,425 1201,420 1201,425 1201,425 1201,427 1201,429 1202,429 1202,429 1202,427 1202,426 1202,423 1202,425 1202,424 1202,427 1203,423 1203,427 1203,427 1203,430 1203,431 1203,434 1203,423 1204,425 1204,429 1204,427 1204,430 1204,425 1204,426 1204,426 1204,429 1205,427 1205,429 1205,432 1205,426 1205,430 1205,427 1205,427 1205,427 1206,428 1206,430 1206,434 1206,429 1206,425 1206,431 1206,430 1206,432 1207,433 1207,433 1207,431 1207,432 1207,434 1207,433 1207,437 1207,435 1208,435 1208,429 1208,424 1208,423 1208,425 1208,421 1208,420 1209,417 1209,423 1209,424 1209,421 1209,423 1209,426 1209,423 1209,418 1210,421 1210,423 1210,418 1210,422 1210,419 1210,419 1210,417 1210,418 1211,417 1211,420 1211,418 1211,416 1211,420 1211,415 1211,417 1211,420 1212,415 1212,416 1212,419 1212,417 1212,422 1212,422 1212,422 1213,419 1213,415 1213,419 1213,417 1213,416 1213,415 1213,414 1213,416 1214,414 1214,414 1214,417 1214,415 1214,413 1214,421 1214,417 1214,414 1215,414 1215,416 1215,415 1215,418 1215,416 1215,416 1215,416 1215,418 1216,416 1216,420 1216,414 1216,411 1216,416 1216,413 1216,416 1217,410 1217,414 1217,413 1217,416 1217,417 1217,413 1217,414 1217,412 1218,412 1218,415 1218,408 1218,416 1218,409 1218,408 1218,406 1218,411 1219,407 1219,409 1219,400 1219,409 1219,402 1219,400 1219,402 1219,402 1220,393 1220,400 1220,399 1220,397 1220,397 1220,400 1220,398 1220,397 1221,396 1221,394 1221,394 1221,392 1221,388 1221,387 1221,384 1222,382 1222,382 1222,381 1222,377 1222,377 1222,371 1222,375 1222,375 1223,373 1223,373 1223,372 1223,374 1223,375 1223,378 1223,372 1223,377 1224,372 1224,377 1224,378 1224,377 1224,376 1224,373 1224,373 1224,373 1225,366 1225,375 1225,369 1225,368 1225,368 1225,366 1225,369 1226,374 1226,367 1226,371 1226,371 1226,367 1226,370 1226,368 1226,367 1227,370 1227,367 1227,371 1227,370 1227,372 1227,366 1227,364 1227,365 1228,364 1228,365 1228,357 1228,362 1228,361 1228,359 1228,362 1228,364 1229,358 1229,364 1229,366 1229,365 1229,369 1229,370 1229,372 1230,366 1230,363 1230,370 1230,366 1230,371 1230,365 1230,368 1230,366 1231,369 1231,368 1231,366 1231,362 1231,362 1231,364 1231,357 1231,360 1232,360 1232,362 1232,362 1232,362 1232,365 1232,358 1232,367 1232,370 1233,367 1233,370 1233,370 1233,372 1233,369 1233,368 1233,371 1233,368 1234,365 1234,368 1234,370 1234,372 1234,367 1234,370 1234,365 1235,373 1235,369 1235,368 1235,368 1235,368 1235,367 1235,374 1235,366 1236,368 1236,365 1236,367 1236,366 1236,371 1236,363 1236,365 1236,359 1237,363 1237,360 1237,359 1237,361 1237,362 1237,354 1237,363 1237,362 1238,363 1238,359 1238,360 1238,362 1238,363 1238,361 1238,358 1239,356 1239,360 1239,359 1239,354 1239,356 1239,359 1239,360 1239,359 1240,360 1240,358 1240,358 1240,357 1240,358 1240,357 1240,357 1240,359 1241,361 1241,359 1241,354 1241,357 1241,354 1241,359 1241,355 1241,352 1242,359 1242,354 1242,358 1242,356 1242,357 1242,355 1242,354 1243,357 1243,353 1243,355 1243,357 1243,352 1243,356 1243,359 1243,358 1244,360 1244,363 1244,357 1244,362 1244,359 1244,363 1244,357 1244,358 1245,357 1245,357 1245,357 1245,358 1245,359 1245,361 1245,352 1245,355 1246,349 1246,349 1246,351 1246,352 1246,350 1246,350 1246,352 1246,352 1247,352 1247,354 1247,355 1247,351 1247,354 1247,351 1247,353 1248,355 1248,356 1248,355 1248,354 1248,354 1248,353 1248,356 1248,357 1249,359 1249,357 1249,360 1249,359 1249,356 1249,355 1249,354 1249,354 1250,354 1250,355 1250,353 1250,357 1250,362 1250,360 1250,364 1250,363 1251,367 1251,369 1251,366 1251,367 1251,368 1251,369 1251,368 1252,363 1252,362 1252,364 1252,369 1252,368 1252,368 1252,367 1252,370 1253,366 1253,366 1253,369 1253,368 1253,365 1253,364 1253,364 1253,367 1254,368 1254,363 1254,362 1254,363 1254,367 1254,364 1254,364 1254,367 1255,369 1255,362 1255,366 1255,366 1255,363 1255,367 1255,370 1256,369 1256,365 1256,368 1256,369 1256,364 1256,366 1256,365 1256,363 1257,368 1257,365 1257,363 1257,363 1257,361 1257,365 1257,364 1257,361 1258,360 1258,361 1258,356 1258,352 1258,354 1258,354 1258,349 1258,348 1259,351 1259,349 1259,353 1259,353 1259,357 1259,355 1259,351 1259,354 1260,352 1260,357 1260,351 1260,351 1260,347 1260,350 1260,346 1261,349 1261,346 1261,342 1261,345 1261,348 1261,343 1261,345 1261,346 1262,344 1262,344 1262,341 1262,338 1262,345 1262,340 1262,346 1262,340 1263,341 1263,338 1263,338 1263,335 1263,336 1263,333 1263,338 1263,337 1264,338 1264,334 1264,334 1264,329 1264,329 1264,331 1264,332 1265,331 1265,335 1265,331 1265,333 1265,328 1265,330 1265,330 1265,330 1266,328 1266,327 1266,326 1266,330 1266,329 1266,331 1266,329 1266,330 1267,332 1267,331 1267,327 1267,328 1267,330 1267,331 1267,329 1267,333 1268,331 1268,334 1268,337 1268,342 1268,335 1268,336 1268,342 1269,337 1269,338 1269,334 1269,330 1269,329 1269,332 1269,331 1269,333 1270,331 1270,331 1270,330 1270,333 1270,335 1270,332 1270,333 1270,337 1271,338 1271,344 1271,343 1271,341 1271,342 1271,346 1271,344 1271,344 1272,344 1272,339 1272,338 1272,344 1272,337 1272,337 1272,338 1272,335 1273,336 1273,333 1273,335 1273,337 1273,338 1273,334 1273,342 1274,337 1274,333 1274,337 1274,337 1274,339 1274,342 1274,338 1274,335 1275,345 1275,342 1275,341 1275,342 1275,346 1275,342 1275,347 1275,345 1276,349 1276,345 1276,346 1276,349 1276,347 1276,345 1276,345 1276,346 1277,350 1277,345 1277,348 1277,347 1277,345 1277,350 1277,345 1278,349 1278,345 1278,348 1278,346 1278,349 1278,350 1278,348 1278,349 1279,344 1279,347 1279,343 1279,348 1279,344 1279,346 1279,345 1279,349 1280,348 1280,348 1280,352 1280,350 1280,351 1280,353 1280,349 1280,350 1281,353 1281,349 1281,351 1281,350 1281,350 1281,348 1281,350 1282,349 1282,344 1282,346 1282,344 1282,347 1282,340 1282,341 1282,339 1283,337 1283,339 1283,340 1283,338 1283,341 1283,343 1283,345 1283,346 1284,344 1284,348 1284,347 1284,344 1284,343 1284,341 1284,336 1284,333 1285,334 1285,332 1285,331 1285,328 1285,332 1285,332 1285,332 1285,332 1286,337 1286,332 1286,331 1286,337 1286,334 1286,329 1286,330 1287,329 1287,332 1287,327 1287,327 1287,327 1287,328 1287,328 1287,329 1288,329 1288,328 1288,329 1288,330 1288,330 1288,329 1288,334 1288,330 1289,332 1289,326 1289,329 1289,328 1289,327 1289,326 1289,333 1289,331 1290,334 1290,329 1290,336 1290,332 1290,334 1290,330 1290,334 1291,334 1291,330 1291,333 1291,332 1291,324 1291,323 1291,328 1291,327 1292,321 1292,326 1292,327 1292,327 1292,326 1292,325 1292,325 1292,323 1293,320 1293,321 1293,321 1293,321 1293,322 1293,326 1293,331 1293,327 1294,324 1294,332 1294,327 1294,330 1294,325 1294,333 1294,331 1295,330 1295,330 1295,328 1295,326 1295,331 1295,330 1295,323 1295,326 1296,329 1296,331 1296,323 1296,324 1296,320 1296,322 1296,318 1296,317 1297,322 1297,320 1297,318 1297,318 1297,318 1297,315 1297,317 1297,316 1298,321 1298,325 1298,322 1298,323 1298,321 1298,322 1298,322 1298,319 1299,319 1299,319 1299,317 1299,320 1299,313 1299,316 1299,322 1300,324 1300,319 1300,320 1300,320 1300,321 1300,320 1300,313 1300,316 1301,317 1301,318 1301,318 1301,318 1301,316 1301,318 1301,316 1301,316 1302,319 1302,321 1302,315 1302,320 1302,318 1302,314 1302,315 1302,316 1303,316 1303,318 1303,316 1303,315 1303,315 1303,319 1303,317 1304,315 1304,316 1304,314 1304,317 1304,316 1304,311 1304,311 1304,313 1305,315 1305,312 1305,316 1305,314 1305,310 1305,313 1305,314 1305,316 1306,319 1306,313 1306,314 1306,313 1306,318 1306,315 1306,314 1306,314 1307,318 1307,321 1307,318 1307,318 1307,318 1307,320 1307,319 1308,323 1308,326 1308,323 1308,325 1308,325 1308,323 1308,324 1308,326 1309,325 1309,325 1309,329 1309,334 1309,331 1309,333 1309,332 1309,339 1310,337 1310,335 1310,333 1310,334 1310,334 1310,335 1310,335 1310,336 1311,337 1311,335 1311,335 1311,336 1311,337 1311,336 1311,331 1311,335 1312,337 1312,336 1312,340 1312,341 1312,338 1312,337 1312,340 1313,340 1313,335 1313,337 1313,334 1313,339 1313,338 1313,338 1313,341 1314,343 1314,336 1314,338 1314,338 1314,337 1314,337 1314,336 1314,339 1315,334 1315,337 1315,340 1315,342 1315,340 1315,340 1315,344 1315,344 1316,346 1316,346 1316,337 1316,341 1316,339 1316,335 1316,337 1317,335 1317,341 1317,334 1317,337 1317,335 1317,339 1317,338 1317,337 1318,339 1318,340 1318,340 1318,343 1318,344 1318,344 1318,346 1318,345 1319,342 1319,345 1319,345 1319,345 1319,346 1319,346 1319,341 1319,340 1320,345 1320,341 1320,341 1320,341 1320,344 1320,342 1320,342 1321,349 1321,340 1321,343 1321,342 1321,340 1321,342 1321,345 1321,341 1322,340 1322,343 1322,342 1322,349 1322,341 1322,341 1322,344 1322,344 1323,343 1323,346 1323,343 1323,348 1323,345 1323,348 1323,345 1323,347 1324,344 1324,344 1324,347 1324,343 1324,343 1324,344 1324,345 1324,342 1325,345 1325,344 1325,346 1325,347 1325,348 1325,346 1325,348 1326,348 1326,347 1326,346 1326,351 1326,349 1326,348 1326,346 1326,349 1327,350 1327,348 1327,349 1327,345 1327,348 1327,345 1327,347 1327,353 1328,349 1328,349 1328,349 1328,347 1328,351 1328,350 1328,350 1328,346 1329,348 1329,347 1329,347 1329,345 1329,348 1329,342 1329,348 1330,350 1330,347 1330,345 1330,351 1330,348 1330,348 1330,351 1330,351 1331,347 1331,350 1331,349 1331,351 1331,349 1331,350 1331,345 1331,346 1332,344 1332,344 1332,347 1332,338 1332,344 1332,342 1332,344 1332,342 1333,344 1333,340 1333,338 1333,342 1333,340 1333,339 1333,340 1334,339 1334,338 1334,345 1334,340 1334,344 1334,344 1334,346 1334,340 1335,343 1335,341 1335,341 1335,341 1335,340 1335,338 1335,338 1335,343 1336,345 1336,340 1336,341 1336,342 1336,337 1336,343 1336,344 1336,338 1337,338 1337,339 1337,340 1337,338 1337,335 1337,334 1337,332 1337,332 1338,329 1338,331 1338,330 1338,332 1338,326 1338,330 1338,330 1339,324 1339,327 1339,323 1339,323 1339,324 1339,321 1339,324 1339,319 1340,327 1340,326 1340,329 1340,322 1340,327 1340,325 1340,323 1340,329 1341,324 1341,322 1341,322 1341,323 1341,322 1341,326 1341,323 1341,322 1342,318 1342,321 1342,318 1342,319 1342,315 1342,311 1342,313 1343,313 1343,316 1343,316 1343,312 1343,313 1343,308 1343,311 1343,312 1344,312 1344,311 1344,311 1344,315 1344,311 1344,310 1344,313 1344,311 1345,311 1345,310 1345,308 1345,310 1345,308 1345,310 1345,304 1345,305 1346,304 1346,306 1346,304 1346,309 1346,305 1346,305 1346,306 1347,306 1347,299 1347,300 1347,299 1347,300 1347,295 1347,299 1347,302 1348,298 1348,297 1348,303 1348,297 1348,301 1348,299 1348,304 1348,301 1349,306 1349,307 1349,306 1349,307 1349,309 1349,309 1349,311 1349,312 1350,312 1350,312 1350,309 1350,312 1350,308 1350,308 1350,307 1350,309 1351,311 1351,313 1351,309 1351,312 1351,314 1351,316 1351,311 1352,310 1352,311 1352,313 1352,309 1352,308 1352,313 1352,308 1352,308 1353,310 1353,312 1353,307 1353,313 1353,310 1353,309 1353,310 1353,317 1354,312 1354,311 1354,311 1354,307 1354,310 1354,307 1354,310 1354,317 1355,314 1355,308 1355,315 1355,309 1355,309 1355,307 1355,307 1356,309 1356,307 1356,308 1356,307 1356,311 1356,307 1356,303 1356,307 1357,307 1357,305 1357,303 1357,307 1357,306 1357,302 1357,303 1357,304 1358,304 1358,308 1358,307 1358,305 1358,304 1358,306 1358,305 1358,306 1359,308 1359,310 1359,305 1359,309 1359,310 1359,309 1359,312 1360,310 1360,311 1360,306 1360,309 1360,308 1360,307 1360,307 1360,305 1361,309 1361,308 1361,312 1361,312 1361,310 1361,312 1361,310 1361,312 1362,309 1362,311 1362,312 1362,311 1362,312 1362,311 1362,311 1362,316 1363,311 1363,314 1363,315 1363,314 1363,314 1363,317 1363,317 1363,320 1364,316 1364,316 1364,315 1364,315 1364,313 1364,315 1364,310 1365,305 1365,311 1365,308 1365,315 1365,309 1365,310 1365,307 1365,310 1366,308 1366,306 1366,304 1366,302 1366,304 1366,304 1366,305 1366,303 1367,307 1367,306 1367,309 1367,310 1367,311 1367,309 1367,311 1367,309 1368,307 1368,305 1368,301 1368,302 1368,300 1368,297 1368,300 1369,301 1369,301 1369,295 1369,303 1369,299 1369,301 1369,298 1369,301 1370,302 1370,304 1370,304 1370,303 1370,304 1370,299 1370,304 1370,298 1371,302 1371,298 1371,300 1371,301 1371,298 1371,298 1371,296 1371,302 1372,299 1372,297 1372,297 1372,303 1372,298 1372,297 1372,296 1373,296 1373,298 1373,300 1373,299 1373,302 1373,296 1373,299 1373,299 1374,297 1374,301 1374,305 1374,307 1374,307 1374,305 1374,306 1374,305 1375,306 1375,302 1375,307 1375,305 1375,298 1375,301 1375,302 1375,305 1376,305 1376,308 1376,309 1376,305 1376,310 1376,305 1376,312 1376,307 1377,306 1377,307 1377,307 1377,304 1377,303 1377,306 1377,303 1378,306 1378,304 1378,303 1378,299 1378,301 1378,305 1378,303 1378,308 1379,307 1379,303 1379,306 1379,305 1379,307 1379,312 1379,308 1379,306 1380,310 1380,308 1380,309 1380,310 1380,313 1380,306 1380,311 1380,308 1381,314 1381,310 1381,316 1381,311 1381,314 1381,315 1381,313 1382,312 1382,309 1382,313 1382,312 1382,317 1382,316 1382,314 1382,314 1383,315 1383,315 1383,318 1383,313 1383,313 1383,316 1383,316 1383,315 1384,315 1384,316 1384,320 1384,321 1384,322 1384,319 1384,318 1384,315 1385,321 1385,324 1385,322 1385,322 1385,323 1385,321 1385,322 1386,317 1386,320 1386,317 1386,316 1386,321 1386,321 1386,319 1386,321 1387,323 1387,321 1387,320 1387,321 1387,322 1387,318 1387,322 1387,323 1388,321 1388,323 1388,327 1388,324 1388,320 1388,327 1388,324 1388,330 1389,327 1389,325 1389,324 1389,319 1389,323 1389,325 1389,321 1389,325 1390,325 1390,325 1390,327 1390,330 1390,327 1390,330 1390,329 1391,328 1391,330 1391,328 1391,327 1391,324 1391,328 1391,328 1391,325 1392,326 1392,327 1392,324 1392,325 1392,324 1392,322 1392,323 1392,323 1393,319 1393,326 1393,322 1393,323 1393,320 1393,321 1393,321 1393,320 1394,321 1394,325 1394,325 1394,323 1394,322 1394,324 1394,324 1395,322 1395,319 1395,321 1395,318 1395,317 1395,318 1395,319 1395,320 1396,321 1396,316 1396,322 1396,322 1396,320 1396,319 1396,317 1396,311 1397,311 1397,314 1397,312 1397,311 1397,316 1397,313 1397,312 1397,313 1398,316 1398,314 1398,321 1398,318 1398,313 1398,319 1398,318 1399,312 1399,316 1399,316 1399,310 1399,310 1399,309 1399,313 1399,314 1400,320 1400,318 1400,315 1400,318 1400,321 1400,322 1400,318 1400,322 1401,323 1401,322 1401,323 1401,325 1401,328 1401,323 1401,325 1401,329 1402,321 1402,325 1402,330 1402,327 1402,331 1402,331 1402,332 1402,331 1403,332 1403,326 1403,328 1403,335 1403,329 1403,331 1403,332 1404,332 1404,330 1404,335 1404,331 1404,335 1404,333 1404,336 1404,335 1405,341 1405,337 1405,336 1405,337 1405,333 1405,330 1405,336 1405,336 1406,332 1406,334 1406,330 1406,334 1406,333 1406,339 1406,336 1406,336 1407,334 1407,333 1407,336 1407,338 1407,339 1407,334 1407,339 1408,336 1408,339 1408,338 1408,340 1408,339 1408,342 1408,342 1408,337 1409,339 1409,344 1409,343 1409,342 1409,343 1409,341 1409,339 1409,339 1410,343 1410,344 1410,339 1410,339 1410,340 1410,342 1410,345 1410,346 1411,348 1411,346 1411,349 1411,349 1411,351 1411,348 1411,347 1412,350 1412,350 1412,348 1412,347 1412,345 1412,347 1412,346 1412,340 1413,342 1413,338 1413,347 1413,346 1413,349 1413,349 1413,353 1413,353 1414,350 1414,351 1414,351 1414,350 1414,352 1414,351 1414,348 1414,349 1415,351 1415,344 1415,348 1415,352 1415,355 1415,357 1415,354 1415,351 1416,354 1416,350 1416,351 1416,352 1416,352 1416,352 1416,356 1417,354 1417,351 1417,354 1417,355 1417,355 1417,351 1417,351 1417,354 1418,349 1418,352 1418,350 1418,352 1418,351 1418,351 1418,351 1418,350 1419,349 1419,350 1419,348 1419,352 1419,350 1419,353 1419,345 1419,351 1420,350 1420,347 1420,349 1420,349 1420,347 1420,346 1420,347 1421,347 1421,350 1421,349 1421,354 1421,351 1421,352 1421,348 1421,354 1422,348 1422,349 1422,351 1422,351"/>
<polyline points="162,692.7 163,693.2 164,693.9 165,694.7 166,695.4 167,696.1 168,697.0 169,698.3 170,699.8 171,701.2 172,702.7 173,704.1 174,705.4 175,706.7 176,708.1 177,710.5 178,714.2 179,718.6 180,723.0 181,727.6 182,732.3 183,737.0 184,741.7 185,746.6 186,751.4 187,755.2 188,757.1 189,757.5 190,756.9 191,755.9 192,754.9 193,753.9 194,753.0 195,752.1 196,751.3 197,750.4 198,749.5 199,748.3 200,746.4 201,744.2 202,742.1 203,740.7 204,740.8 205,741.6 206,742.5 207,742.8 208,742.1 209,740.9 210,739.7 211,738.4 212,737.2 213,736.9 214,738.2 215,740.8 216,744.5 217,749.9 218,756.0 219,761.8 220,767.2 221,771.9 222,774.8 223,775.0 224,774.0 225,773.2 226,772.6 227,771.9 228,771.3 229,770.6 230,769.6 231,768.1 232,766.2 233,764.4 234,763.5 235,763.9 236,765.0 237,766.1 238,767.2 239,768.3 240,769.4 241,770.6 242,771.8 243,773.0 244,774.1 245,775.3 246,776.5 247,777.7 248,777.9 249,776.1 250,773.4 251,770.2 252,766.2 253,761.3 254,756.1 255,751.0 256,747.5 257,747.6 258,749.8 259,752.0 260,753.8 261,755.3 262,756.7 263,758.3 264,760.5 265,763.5 266,766.6 267,768.9 268,769.8 269,770.1 270,770.4 271,770.9 272,772.2 273,774.4 274,777.0 275,779.6 276,781.1 277,780.1 278,777.1 279,773.7 280,770.2 281,766.8 282,763.5 283,760.2 284,756.9 285,753.6 286,750.1 287,746.2 288,742.0 289,737.7 290,733.4 291,729.6 292,726.7 293,724.4 294,722.8 295,723.3 296,725.7 297,728.5 298,731.4 299,733.1 300,732.4 301,730.3 302,728.1 303,725.9 304,723.7 305,721.7 306,720.8 307,721.7 308,723.3 309,725.0 310,726.2 311,726.7 312,726.9 313,727.1 314,727.3 315,727.5 316,727.8 317,728.4 318,729.5 319,730.7 320,731.9 321,733.1 322,734.3 323,735.3 324,735.5 325,735.2 326,734.5 327,732.8 328,729.7 329,725.9 330,722.2 331,718.7 332,716.0 333,713.8 334,711.9 335,710.6 336,710.0 337,709.8 338,709.6 339,709.4 340,709.1 341,708.3 342,706.8 343,705.0 344,703.2 345,701.4 346,699.6 347,698.4 348,698.7 349,700.8 350,703.3 351,705.9 352,708.5 353,711.1 354,713.8 355,716.8 356,719.9 357,723.0 358,726.1 359,728.2 360,727.3 361,723.9 362,719.7 363,715.6 364,711.9 365,709.3 366,707.2 367,705.2 368,703.4 369,702.6 370,703.4 371,705.0 372,706.5 373,708.1 374,709.5 375,709.2 376,706.2 377,701.8 378,697.5 379,694.3 380,692.9 381,692.3 382,691.7 383,691.2 384,690.6 385,689.6 386,687.9 387,685.9 388,684.0 389,682.0 390,680.1 391,678.4 392,676.9 393,675.4 394,673.6 395,671.2 396,668.3 397,665.1 398,662.0 399,659.2 400,657.4 401,656.0 402,654.7 403,653.6 404,653.1 405,652.9 406,652.8 407,652.5 408,651.4 409,649.1 410,646.2 411,643.3 412,640.4 413,637.6 414,635.0 415,632.5 416,630.0 417,628.4 418,628.7 419,630.3 420,632.2 421,634.0 422,635.8 423,637.5 424,639.0 425,640.4 426,641.8 427,643.2 428,644.7 429,646.0 430,647.1 431,648.0 432,648.9 433,649.8 434,650.7 435,651.6 436,652.1 437,651.7 438,650.8 439,650.0 440,648.5 441,645.7 442,642.1 443,638.4 444,635.1 445,634.7 446,638.5 447,644.1 448,649.4 449,654.3 450,659.2 451,663.0 452,663.3 453,660.2 454,655.9 455,651.6 456,648.1 457,646.3 458,645.6 459,645.1 460,644.6 461,644.1 462,643.5 463,642.9 464,642.3 465,641.7 466,641.1 467,640.5 468,639.6 469,638.2 470,636.3 471,634.3 472,632.3 473,631.5 474,633.2 475,636.0 476,638.9 477,641.8 478,644.8 479,647.8 480,650.9 481,654.0 482,657.0 483,660.1 484,663.2 485,666.3 486,668.0 487,666.2 488,661.2 489,655.3 490,650.0 491,646.6 492,644.9 493,644.5 494,645.4 495,647.0 496,648.6 497,650.3 498,652.0 499,653.7 500,655.3 501,656.9 502,657.9 503,657.9 504,657.3 505,656.7 506,656.1 507,655.5 508,655.0 509,654.4 510,654.0 511,654.0 512,654.1 513,654.3 514,654.0 515,652.5 516,650.5 517,648.5 518,647.6 519,648.8 520,651.1 521,653.3 522,655.4 523,656.8 524,657.2 525,657.2 526,655.5 527,650.4 528,643.1 529,635.7 530,629.9 531,627.4 532,626.8 533,626.4 534,626.0 535,625.6 536,625.1 537,624.1 538,622.1 539,619.9 540,617.6 541,616.4 542,616.7 543,617.9 544,619.0 545,620.1 546,621.2 547,621.6 548,620.7 549,619.2 550,617.8 551,616.3 552,614.9 553,613.3 554,611.7 555,610.0 556,608.6 557,609.1 558,612.6 559,617.4 560,622.2 561,627.0 562,631.5 563,633.5 564,631.9 565,628.6 566,625.4 567,622.8 568,621.1 569,619.9 570,618.7 571,616.5 572,612.8 573,608.7 574,606.2 575,605.3 576,605.1 577,605.5 578,606.9 579,609.0 580,610.6 581,611.3 582,611.4 583,611.2 584,610.3 585,607.4 586,602.7 587,598.0 588,594.4 589,591.2 590,588.6 591,587.7 592,588.1 593,588.9 594,590.1 595,591.9 596,593.9 597,595.9 598,598.0 599,600.3 600,602.6 601,604.9 602,607.3 603,610.0 604,613.0 605,616.1 606,618.6 607,620.1 608,621.2 609,621.8 610,621.3 611,620.3 612,619.4 613,619.3 614,620.2 615,621.5 616,622.7 617,623.4 618,622.5 619,620.5 620,618.3 621,616.0 622,613.0 623,608.8 624,603.9 625,599.5 626,596.5 627,594.5 628,593.2 629,592.6 630,592.4 631,590.7 632,584.7 633,576.1 634,569.8 635,566.3 636,563.6 637,561.0 638,558.6 639,556.4 640,554.3 641,552.8 642,552.1 643,551.7 644,551.3 645,550.9 646,550.0 647,547.6 648,544.4 649,541.1 650,538.2 651,536.4 652,535.5 653,534.6 654,533.8 655,533.1 656,532.6 657,532.2 658,531.6 659,530.3 660,528.6 661,527.1 662,526.9 663,528.1 664,529.9 665,531.6 666,532.7 667,533.0 668,533.0 669,532.5 670,530.8 671,528.6 672,527.1 673,527.1 674,528.6 675,530.5 676,532.3 677,534.3 678,536.5 679,538.9 680,541.4 681,544.2 682,547.5 683,550.0 684,549.9 685,547.3 686,543.9 687,540.5 688,537.3 689,534.3 690,531.2 691,528.9 692,528.0 693,528.2 694,528.6 695,528.9 696,529.3 697,529.5 698,529.4 699,529.1 700,528.8 701,528.5 702,528.1 703,527.8 704,527.4 705,527.1 706,526.7 707,526.3 708,525.9 709,525.5 710,525.1 711,524.7 712,523.8 713,521.8 714,519.4 715,516.9 716,514.8 717,513.6 718,512.8 719,512.1 720,511.3 721,510.8 722,510.7 723,511.3 724,512.0 725,512.7 726,513.9 727,516.2 728,519.3 729,522.5 730,525.6 731,528.7 732,531.8 733,534.0 734,533.6 735,530.7 736,526.9 737,523.1 738,520.9 739,522.2 740,525.5 741,528.9 742,532.4 743,535.9 744,538.6 745,539.6 746,539.7 747,539.7 748,539.7 749,539.7 750,538.9 751,536.2 752,532.4 753,528.7 754,526.2 755,524.9 756,524.0 757,523.1 758,522.2 759,521.3 760,520.6 761,520.2 762,520.2 763,520.2 764,520.2 765,520.2 766,520.2 767,520.2 768,519.9 769,518.9 770,517.3 771,515.6 772,513.9 773,512.5 774,511.9 775,511.5 776,511.2 777,511.3 778,512.3 779,513.8 780,515.3 781,517.5 782,521.5 783,526.1 784,529.5 785,530.8 786,531.1 787,531.5 788,531.9 789,532.4 790,533.4 791,534.6 792,536.3 793,539.3 794,543.8 795,548.8 796,553.8 797,558.9 798,563.7 799,567.4 800,570.0 801,572.2 802,574.4 803,576.7 804,579.1 805,581.7 806,584.5 807,587.2 808,589.9 809,591.9 810,592.0 811,590.7 812,589.0 813,587.3 814,585.7 815,584.1 816,582.6 817,581.7 818,581.6 819,581.7 820,581.9 821,581.9 822,581.5 823,580.7 824,579.9 825,579.4 826,579.9 827,581.3 828,582.9 829,584.8 830,587.2 831,590.3 832,593.6 833,597.1 834,601.0 835,604.4 836,606.3 837,606.7 838,606.6 839,606.5 840,606.0 841,604.7 842,602.9 843,601.1 844,599.2 845,597.0 846,593.9 847,589.6 848,584.9 849,580.1 850,574.9 851,569.1 852,563.2 853,558.0 854,555.3 855,556.3 856,558.6 857,560.9 858,563.1 859,565.2 860,567.2 861,569.2 862,570.5 863,569.8 864,567.4 865,564.5 866,561.7 867,559.1 868,557.2 869,555.7 870,554.2 871,553.1 872,553.0 873,553.4 874,553.9 875,554.0 876,553.3 877,551.9 878,550.9 879,550.9 880,552.0 881,553.5 882,554.7 883,554.9 884,553.9 885,552.4 886,551.0 887,550.0 888,550.3 889,551.4 890,552.7 891,554.5 892,557.2 893,560.5 894,564.1 895,567.3 896,570.3 897,573.2 898,575.3 899,576.0 900,576.0 901,576.0 902,575.1 903,572.5 904,569.5 905,568.5 906,570.2 907,573.0 908,576.5 909,581.8 910,588.0 911,594.2 912,600.1 913,605.6 914,610.9 915,616.2 916,621.0 917,625.4 918,628.4 919,628.6 920,626.9 921,624.8 922,622.9 923,622.2 924,623.5 925,625.8 926,628.1 927,630.3 928,632.6 929,634.0 930,632.9 931,629.6 932,625.8 933,621.9 934,618.2 935,614.8 936,612.2 937,609.8 938,607.6 939,605.7 940,604.6 941,603.7 942,603.0 943,602.8 944,603.4 945,604.4 946,605.4 947,606.4 948,607.4 949,608.3 950,608.9 951,609.4 952,610.0 953,610.5 954,611.1 955,611.6 956,611.8 957,611.3 958,610.2 959,609.0 960,607.7 961,606.4 962,605.1 963,603.6 964,602.1 965,600.6 966,599.0 967,597.9 968,597.5 969,597.5 970,597.5 971,597.7 972,598.6 973,600.6 974,603.0 975,605.3 976,607.4 977,609.4 978,611.4 979,613.3 980,614.9 981,615.8 982,616.5 983,617.0 984,616.9 985,615.7 986,614.1 987,612.4 988,610.2 989,607.2 990,603.9 991,601.6 992,600.3 993,599.4 994,598.5 995,597.6 996,596.3 997,593.4 998,589.1 999,585.6 1000,583.9 1001,582.8 1002,581.7 1003,580.6 1004,579.4 1005,577.8 1006,575.7 1007,573.5 1008,571.2 1009,568.6 1010,565.1 1011,560.8 1012,556.8 1013,555.1 1014,556.2 1015,558.5 1016,560.6 1017,561.6 1018,561.1 1019,559.9 1020,558.6 1021,557.4 1022,555.9 1023,554.0 1024,551.8 1025,549.5 1026,547.2 1027,545.1 1028,543.7 1029,542.8 1030,542.1 1031,541.4 1032,540.8 1033,539.6 1034,536.5 1035,531.4 1036,526.1 1037,522.5 1038,520.1 1039,518.5 1040,517.9 1041,518.7 1042,520.1 1043,521.6 1044,523.8 1045,527.1 1046,530.7 1047,532.1 1048,529.0 1049,523.6 1050,518.2 1051,513.3 1052,509.5 1053,506.3 1054,503.0 1055,500.6 1056,500.2 1057,500.9 1058,501.7 1059,502.5 1060,503.2 1061,504.2 1062,505.5 1063,507.0 1064,508.5 1065,510.0 1066,511.5 1067,513.4 1068,515.6 1069,517.8 1070,520.0 1071,522.2 1072,523.4 1073,522.9 1074,521.6 1075,520.3 1076,518.7 1077,516.0 1078,512.1 1079,507.8 1080,503.2 1081,497.8 1082,491.6 1083,485.0 1084,479.3 1085,476.0 1086,474.6 1087,473.9 1088,473.2 1089,473.1 1090,474.1 1091,475.9 1092,477.8 1093,479.9 1094,482.5 1095,485.1 1096,485.4 1097,482.3 1098,477.7 1099,473.2 1100,469.6 1101,467.7 1102,466.5 1103,465.4 1104,464.9 1105,464.6 1106,464.3 1107,464.1 1108,463.5 1109,461.8 1110,458.7 1111,455.2 1112,451.6 1113,447.9 1114,444.3 1115,441.5 1116,441.1 1117,442.4 1118,444.1 1119,445.8 1120,446.9 1121,446.6 1122,445.8 1123,444.9 1124,444.3 1125,444.7 1126,446.5 1127,448.8 1128,451.1 1129,453.8 1130,457.0 1131,460.4 1132,463.8 1133,467.3 1134,470.7 1135,473.2 1136,473.1 1137,470.2 1138,466.5 1139,462.5 1140,457.3 1141,450.9 1142,444.2 1143,438.1 1144,434.1 1145,432.1 1146,430.8 1147,429.6 1148,428.6 1149,428.0 1150,427.5 1151,427.0 1152,426.5 1153,426.6 1154,428.0 1155,430.1 1156,432.1 1157,434.2 1158,435.4 1159,434.8 1160,432.6 1161,430.2 1162,427.7 1163,426.2 1164,426.3 1165,427.3 1166,428.3 1167,429.3 1168,430.3 1169,431.3 1170,432.3 1171,433.3 1172,434.3 1173,435.3 1174,436.3 1175,437.3 1176,438.3 1177,439.2 1178,439.8 1179,440.2 1180,440.6 1181,441.0 1182,441.4 1183,441.9 1184,442.6 1185,444.0 1186,445.6 1187,445.8 1188,443.0 1189,438.1 1190,432.8 1191,428.4 1192,425.9 1193,425.0 1194,424.4 1195,423.9 1196,423.5 1197,423.4 1198,423.5 1199,423.6 1200,423.8 1201,423.9 1202,424.6 1203,426.5 1204,429.1 1205,431.6 1206,432.7 1207,431.0 1208,427.9 1209,424.8 1210,421.9 1211,419.5 1212,418.1 1213,417.1 1214,416.1 1215,415.1 1216,414.1 1217,412.4 1218,408.4 1219,402.2 1220,394.9 1221,387.1 1222,379.2 1223,373.3 1224,370.3 1225,368.7 1226,367.0 1227,365.9 1228,365.6 1229,365.7 1230,365.8 1231,365.9 1232,366.0 1233,366.0 1234,365.6 1235,364.6 1236,363.5 1237,362.4 1238,361.3 1239,360.2 1240,359.2 1241,358.1 1242,357.1 1243,356.1 1244,355.1 1245,354.1 1246,353.2 1247,352.2 1248,351.9 1249,353.5 1250,356.8 1251,360.5 1252,364.2 1253,367.6 1254,369.0 1255,367.5 1256,364.8 1257,362.0 1258,359.2 1259,355.6 1260,350.2 1261,344.4 1262,340.0 1263,337.3 1264,335.2 1265,333.5 1266,333.5 1267,335.2 1268,337.3 1269,339.0 1270,339.8 1271,340.4 1272,340.9 1273,341.4 1274,342.0 1275,342.8 1276,343.9 1277,345.0 1278,346.1 1279,347.2 1280,347.7 1281,346.6 1282,344.3 1283,341.7 1284,339.0 1285,336.1 1286,333.0 1287,330.6 1288,329.6 1289,329.3 1290,329.0 1291,328.7 1292,328.4 1293,328.1 1294,327.2 1295,325.7 1296,323.8 1297,322.0 1298,320.2 1299,318.3 1300,316.6 1301,315.3 1302,315.1 1303,315.7 1304,316.4 1305,317.2 1306,318.6 1307,320.9 1308,323.8 1309,326.9 1310,330.5 1311,334.3 1312,337.5 1313,339.2 1314,340.3 1315,341.4 1316,342.5 1317,343.6 1318,344.5 1319,345.0 1320,345.3 1321,345.6 1322,345.8 1323,346.1 1324,346.4 1325,346.7 1326,347.0 1327,347.2 1328,346.9 1329,346.4 1330,345.8 1331,345.2 1332,344.6 1333,344.0 1334,342.7 1335,340.2 1336,336.9 1337,333.6 1338,330.2 1339,326.8 1340,323.4 1341,320.0 1342,316.6 1343,313.3 1344,310.3 1345,307.3 1346,304.5 1347,303.1 1348,304.3 1349,306.6 1350,308.9 1351,310.6 1352,311.1 1353,311.1 1354,310.9 1355,310.3 1356,309.3 1357,308.3 1358,307.6 1359,307.7 1360,308.3 1361,309.1 1362,309.8 1363,310.4 1364,310.2 1365,308.9 1366,307.2 1367,305.6 1368,304.2 1369,303.1 1370,302.1 1371,301.1 1372,300.5 1373,301.1 1374,302.7 1375,304.5 1376,306.4 1377,308.1 1378,309.5 1379,310.7 1380,311.9 1381,313.1 1382,314.3 1383,315.5 1384,316.8 1385,318.2 1386,319.7 1387,321.1 1388,322.6 1389,324.0 1390,325.5 1391,326.2 1392,325.5 1393,323.7 1394,321.7 1395,320.1 1396,318.6 1397,317.3 1398,316.5 1399,317.7 1400,321.2 1401,325.5 1402,329.1 1403,330.9 1404,331.9 1405,333.0 1406,334.0 1407,335.3 1408,337.3 1409,340.0 1410,342.7 1411,345.4 1412,348.0 1413,349.7 1414,350.4 1415,350.6 1416,350.8 1417,351.0 1418,351.2 1419,351.4 1420,351.6 1421,351.8 1422,351.9" fill="none" stroke="#1e90ff" stroke-width="3.8" stroke-linejoin="round" shape-rendering="crispEdges"/></g>
<polygon points="421.4,613.8 403.1,645.5 439.7,645.5" fill="none" stroke="#f00" stroke-width="3.8" shape-rendering="crispEdges"/>
<polygon points="606.7,595.5 588.4,627.2 625.0,627.2" fill="none" stroke="#f00" stroke-width="3.8" shape-rendering="crispEdges"/>
<polygon points="792.0,516.6 773.7,548.3 810.3,548.3" fill="none" stroke="#f00" stroke-width="3.8" shape-rendering="crispEdges"/>
<polygon points="977.3,587.5 959.0,619.2 995.6,619.2" fill="none" stroke="#f00" stroke-width="3.8" shape-rendering="crispEdges"/>
<polygon points="1162.6,405.7 1144.3,437.4 1180.9,437.4" fill="none" stroke="#f00" stroke-width="3.8" shape-rendering="crispEdges"/>
<polygon points="1347.9,281.1 1329.6,312.8 1366.2,312.8" fill="none" stroke="#f00" stroke-width="3.8" shape-rendering="crispEdges"/>
<g clip-path="url(#c2)"><polyline class="mk" points="162,1198 162,1159 162,1144 162,1181 163,1170 163,1161 163,1158 163,1161 163,1114 163,1105 163,1177 163,1150 164,1161 164,1139 164,1135 164,1158 164,1139 164,1146 164,1151 165,1153 165,1133 165,1174 165,1185 165,1124 165,1117 165,1093 165,1141 166,1175 166,1140 166,1123 166,1196 166,1200 166,1229 166,1271 166,1206 167,1261 167,1208 167,1264 167,1298 167,1270 167,1267 167,1257 167,1243 168,1249 168,1195 168,1306 168,1273 168,1240 168,1218 168,1228 169,1221 169,1188 169,1190 169,1174 169,1138 169,1178 169,1129 169,1148 170,1119 170,1134 170,1097 170,1121 170,1134 170,1171 170,1142 170,1227 171,1152 171,1163 171,1188 171,1178 171,1235 171,1205 171,1210 171,1161 172,1156 172,1124 172,1195 172,1190 172,1152 172,1181 172,1182 172,1148 173,1169 173,1191 173,1150 173,1188 173,1225 173,1189 173,1179 174,1194 174,1145 174,1168 174,1161 174,1159 174,1194 174,1192 174,1183 175,1196 175,1147 175,1216 175,1235 175,1186 175,1208 175,1239 175,1173 176,1165 176,1205 176,1212 176,1157 176,1163 176,1163 176,1194 176,1161 177,1137 177,1161 177,1159 177,1141 177,1152 177,1159 177,1143 178,1123 178,1143 178,1137 178,1173 178,1170 178,1212 178,1146 178,1159 179,1193 179,1146 179,1174 179,1130 179,1084 179,1129 179,1151 179,1146 180,1133 180,1161 180,1141 180,1220 180,1135 180,1179 180,1176 180,1137 181,1147 181,1226 181,1220 181,1163 181,1203 181,1219 181,1171 182,1192 182,1170 182,1198 182,1183 182,1172 182,1156 182,1132 182,1202 183,1175 183,1171 183,1146 183,1169 183,1148 183,1121 183,1149 183,1119 184,1152 184,1199 184,1147 184,1135 184,1160 184,1150 184,1118 184,1152 185,1210 185,1232 185,1196 185,1213 185,1273 185,1251 185,1243 185,1211 186,1206 186,1152 186,1225 186,1247 186,1191 186,1152 186,1203 187,1193 187,1148 187,1145 187,1101 187,1143 187,1051 187,1097 187,1099 188,1169 188,1130 188,1103 188,1171 188,1120 188,1151 188,1141 188,1166 189,1155 189,1241 189,1204 189,1217 189,1201 189,1210 189,1223 189,1166 190,1159 190,1161 190,1131 190,1168 190,1135 190,1146 190,1199 191,1158 191,1195 191,1180 191,1201 191,1150 191,1170 191,1254 191,1206 192,1218 192,1198 192,1180 192,1206 192,1264 192,1279 192,1219 192,1225 193,1189 193,1193 193,1200 193,1169 193,1201 193,1191 193,1220 193,1185 194,1131 194,1189 194,1172 194,1135 194,1084 194,1119 194,1156 195,1140 195,1181 195,1199 195,1249 195,1268 195,1200 195,1220 195,1175 196,1130 196,1159 196,1216 196,1178 196,1208 196,1190 196,1180 196,1219 197,1197 197,1209 197,1195 197,1179 197,1198 197,1158 197,1148 197,1205 198,1181 198,1174 198,1227 198,1203 198,1152 198,1188 198,1221 198,1232 199,1219 199,1277 199,1192 199,1236 199,1216 199,1223 199,1178 200,1208 200,1184 200,1203 200,1138 200,1122 200,1168 200,1175 200,1168 201,1111 201,1177 201,1176 201,1164 201,1128 201,1172 201,1182 201,1152 202,1214 202,1193 202,1134 202,1132 202,1153 202,1165 202,1194 202,1202 203,1155 203,1243 203,1191 203,1239 203,1291 203,1237 203,1278 204,1243 204,1242 204,1183 204,1260 204,1292 204,1216 204,1198 204,1211 205,1212 205,1165 205,1150 205,1174 205,1135 205,1154 205,1156 205,1186 206,1168 206,1127 206,1106 206,1106 206,1139 206,1142 206,1167 206,1175 207,1176 207,1154 207,1163 207,1200 207,1203 207,1249 207,1225 208,1194 208,1205 208,1185 208,1236 208,1158 208,1211 208,1222 208,1202 209,1307 209,1208 209,1136 209,1201 209,1152 209,1222 209,1213 209,1218 210,1135 210,1229 210,1168 210,1200 210,1157 210,1204 210,1190 210,1157 211,1213 211,1218 211,1100 211,1153 211,1141 211,1159 211,1156 211,1174 212,1170 212,1221 212,1260 212,1203 212,1136 212,1193 212,1223 213,1126 213,1138 213,1185 213,1147 213,1155 213,1208 213,1141 213,1161 214,1170 214,1156 214,1245 214,1195 214,1148 214,1155 214,1233 214,1176 215,1219 215,1200 215,1244 215,1193 215,1179 215,1211 215,1210 215,1234 216,1243 216,1192 216,1204 216,1210 216,1224 216,1222 216,1151 217,1136 217,1147 217,1137 217,1177 217,1158 217,1173 217,1140 217,1173 218,1179 218,1209 218,1192 218,1243 218,1147 218,1195 218,1182 218,1185 219,1224 219,1164 219,1201 219,1213 219,1179 219,1231 219,1180 219,1141 220,1198 220,1167 220,1216 220,1175 220,1180 220,1240 220,1154 221,1147 221,1260 221,1195 221,1216 221,1206 221,1180 221,1179 221,1174 222,1146 222,1150 222,1119 222,1133 222,1082 222,1048 222,1107 222,1121 223,1081 223,1182 223,1137 223,1169 223,1157 223,1173 223,1153 223,1110 224,1168 224,1146 224,1101 224,1110 224,1095 224,1111 224,1116 224,1111 225,1109 225,1137 225,1170 225,1125 225,1113 225,1146 225,1109 226,1116 226,1152 226,1166 226,1146 226,1177 226,1178 226,1209 226,1219 227,1197 227,1231 227,1201 227,1201 227,1179 227,1149 227,1201 227,1136 228,1109 228,1076 228,1107 228,1058 228,1103 228,1143 228,1189 228,1164 229,1162 229,1152 229,1142 229,1189 229,1139 229,1164 229,1178 230,1199 230,1160 230,1181 230,1229 230,1162 230,1166 230,1206 230,1142 231,1171 231,1160 231,1214 231,1202 231,1181 231,1173 231,1208 231,1259 232,1175 232,1186 232,1140 232,1207 232,1162 232,1211 232,1155 232,1166 233,1144 233,1147 233,1145 233,1092 233,1100 233,1132 233,1160 234,1164 234,1120 234,1162 234,1196 234,1205 234,1153 234,1190 234,1218 235,1151 235,1185 235,1239 235,1242 235,1204 235,1238 235,1231 235,1167 236,1160 236,1162 236,1199 236,1205 236,1245 236,1246 236,1207 236,1203 237,1177 237,1179 237,1189 237,1187 237,1200 237,1172 237,1239 237,1148 238,1183 238,1233 238,1185 238,1145 238,1214 238,1186 238,1207 239,1167 239,1203 239,1226 239,1191 239,1183 239,1184 239,1193 239,1208 240,1160 240,1197 240,1168 240,1135 240,1101 240,1102 240,1174 240,1094 241,1178 241,1110 241,1113 241,1094 241,1122 241,1111 241,1175 241,1179 242,1167 242,1220 242,1229 242,1216 242,1262 242,1221 242,1238 243,1164 243,1170 243,1189 243,1152 243,1212 243,1229 243,1205 243,1196 244,1201 244,1171 244,1207 244,1197 244,1163 244,1210 244,1152 244,1180 245,1218 245,1176 245,1202 245,1157 245,1200 245,1197 245,1158 245,1191 246,1129 246,1149 246,1257 246,1172 246,1170 246,1212 246,1185 247,1183 247,1224 247,1155 247,1159 247,1173 247,1163 247,1149 247,1120 248,1141 248,1166 248,1176 248,1189 248,1157 248,1182 248,1211 248,1159 249,1172 249,1214 249,1168 249,1170 249,1157 249,1142 249,1169 249,1176 250,1198 250,1167 250,1189 250,1247 250,1207 250,1201 250,1207 250,1213 251,1175 251,1200 251,1217 251,1126 251,1207 251,1158 251,1118 252,1183 252,1136 252,1177 252,1181 252,1226 252,1162 252,1203 252,1167 253,1215 253,1188 253,1188 253,1155 253,1169 253,1223 253,1161 253,1187 254,1199 254,1187 254,1141 254,1207 254,1170 254,1185 254,1155 254,1170 255,1205 255,1192 255,1202 255,1216 255,1208 255,1181 255,1214 256,1213 256,1198 256,1223 256,1223 256,1232 256,1229 256,1224 256,1191 257,1254 257,1192 257,1165 257,1133 257,1113 257,1191 257,1163 257,1145 258,1188 258,1155 258,1127 258,1134 258,1175 258,1101 258,1147 258,1123 259,1175 259,1137 259,1119 259,1127 259,1137 259,1151 259,1189 260,1196 260,1107 260,1171 260,1155 260,1110 260,1135 260,1116 260,1183 261,1160 261,1126 261,1237 261,1229 261,1247 261,1235 261,1241 261,1203 262,1192 262,1203 262,1176 262,1215 262,1165 262,1183 262,1128 262,1141 263,1199 263,1144 263,1183 263,1163 263,1139 263,1126 263,1183 263,1192 264,1196 264,1216 264,1258 264,1175 264,1185 264,1184 264,1170 265,1162 265,1169 265,1142 265,1170 265,1136 265,1176 265,1176 265,1192 266,1183 266,1227 266,1190 266,1160 266,1124 266,1170 266,1153 266,1149 267,1150 267,1210 267,1180 267,1112 267,1146 267,1186 267,1153 267,1121 268,1146 268,1122 268,1140 268,1177 268,1165 268,1209 268,1183 269,1171 269,1191 269,1157 269,1157 269,1158 269,1170 269,1179 269,1153 270,1155 270,1133 270,1207 270,1140 270,1144 270,1133 270,1142 270,1038 271,1080 271,1105 271,1106 271,1178 271,1151 271,1151 271,1163 271,1200 272,1168 272,1106 272,1119 272,1128 272,1116 272,1055 272,1109 273,1137 273,1165 273,1113 273,1114 273,1165 273,1126 273,1120 273,1137 274,1200 274,1183 274,1196 274,1139 274,1188 274,1220 274,1175 274,1240 275,1198 275,1162 275,1192 275,1181 275,1190 275,1158 275,1108 275,1114 276,1089 276,1125 276,1029 276,1140 276,1120 276,1161 276,1096 276,1114 277,1072 277,1152 277,1155 277,1242 277,1218 277,1160 277,1189 278,1159 278,1205 278,1166 278,1164 278,1209 278,1136 278,1119 278,1149 279,1137 279,1152 279,1189 279,1175 279,1151 279,1237 279,1196 279,1214 280,1197 280,1200 280,1193 280,1175 280,1193 280,1170 280,1241 280,1162 281,1204 281,1203 281,1147 281,1145 281,1136 281,1122 281,1117 282,1136 282,1079 282,1075 282,1066 282,1090 282,1099 282,1126 282,1084 283,1163 283,1148 283,1197 283,1235 283,1226 283,1271 283,1250 283,1249 284,1278 284,1267 284,1255 284,1258 284,1286 284,1241 284,1254 284,1246 285,1216 285,1213 285,1176 285,1194 285,1213 285,1142 285,1165 286,1254 286,1230 286,1211 286,1145 286,1206 286,1174 286,1179 286,1137 287,1178 287,1152 287,1169 287,1127 287,1154 287,1154 287,1193 287,1201 288,1184 288,1177 288,1251 288,1249 288,1302 288,1238 288,1312 288,1263 289,1253 289,1273 289,1267 289,1219 289,1168 289,1213 289,1165 289,1209 290,1122 290,1137 290,1111 290,1093 290,1113 290,1077 290,1076 291,1089 291,1145 291,1177 291,1163 291,1170 291,1220 291,1203 291,1197 292,1154 292,1174 292,1212 292,1121 292,1108 292,1128 292,1113 292,1143 293,1181 293,1138 293,1164 293,1188 293,1126 293,1165 293,1252 293,1167 294,1190 294,1212 294,1212 294,1182 294,1170 294,1158 294,1132 295,1171 295,1099 295,1064 295,1135 295,1126 295,1125 295,1103 295,1174 296,1105 296,1150 296,1132 296,1121 296,1114 296,1136 296,1119 296,1102 297,1131 297,1109 297,1159 297,1215 297,1169 297,1173 297,1180 297,1233 298,1240 298,1230 298,1233 298,1252 298,1217 298,1234 298,1233 299,1235 299,1258 299,1194 299,1204 299,1180 299,1137 299,1192 299,1142 300,1225 300,1236 300,1256 300,1228 300,1288 300,1214 300,1194 300,1166 301,1158 301,1129 301,1116 301,1124 301,1112 301,1135 301,1133 301,1098 302,1185 302,1134 302,1155 302,1229 302,1237 302,1209 302,1182 302,1202 303,1169 303,1191 303,1221 303,1164 303,1153 303,1180 303,1179 304,1214 304,1156 304,1135 304,1181 304,1222 304,1217 304,1176 304,1206 305,1180 305,1193 305,1152 305,1186 305,1124 305,1109 305,1114 305,1208 306,1139 306,1172 306,1172 306,1176 306,1168 306,1172 306,1174 306,1178 307,1190 307,1136 307,1162 307,1161 307,1118 307,1123 307,1136 308,1131 308,1183 308,1161 308,1139 308,1118 308,1112 308,1154 308,1130 309,1109 309,1092 309,1142 309,1152 309,1172 309,1145 309,1141 309,1124 310,1158 310,1122 310,1143 310,1136 310,1176 310,1095 310,1154 310,1121 311,1142 311,1174 311,1184 311,1144 311,1177 311,1175 311,1169 312,1165 312,1162 312,1108 312,1156 312,1138 312,1170 312,1197 312,1213 313,1239 313,1206 313,1214 313,1212 313,1209 313,1181 313,1199 313,1205 314,1173 314,1194 314,1132 314,1095 314,1161 314,1137 314,1128 314,1210 315,1205 315,1210 315,1190 315,1224 315,1250 315,1238 315,1237 315,1199 316,1160 316,1148 316,1171 316,1140 316,1207 316,1167 316,1135 317,1179 317,1191 317,1146 317,1143 317,1177 317,1234 317,1152 317,1115 318,1187 318,1093 318,1179 318,1122 318,1126 318,1134 318,1184 318,1147 319,1217 319,1184 319,1190 319,1192 319,1229 319,1223 319,1256 319,1159 320,1204 320,1228 320,1195 320,1194 320,1136 320,1182 320,1120 321,1183 321,1142 321,1128 321,1156 321,1131 321,1163 321,1189 321,1185 322,1126 322,1152 322,1148 322,1173 322,1163 322,1150 322,1114 322,1111 323,1176 323,1113 323,1176 323,1183 323,1182 323,1210 323,1157 323,1179 324,1167 324,1237 324,1236 324,1181 324,1168 324,1216 324,1217 325,1210 325,1218 325,1231 325,1224 325,1151 325,1201 325,1164 325,1231 326,1177 326,1163 326,1212 326,1178 326,1203 326,1148 326,1228 326,1235 327,1264 327,1243 327,1223 327,1265 327,1202 327,1247 327,1214 327,1169 328,1210 328,1178 328,1182 328,1193 328,1154 328,1230 328,1201 328,1179 329,1173 329,1211 329,1229 329,1148 329,1175 329,1169 329,1174 330,1135 330,1146 330,1178 330,1126 330,1083 330,1147 330,1113 330,1095 331,1102 331,1131 331,1121 331,1132 331,1104 331,1188 331,1170 331,1196 332,1126 332,1136 332,1119 332,1116 332,1076 332,1139 332,1129 332,1130 333,1182 333,1197 333,1126 333,1137 333,1107 333,1124 333,1127 334,1131 334,1126 334,1153 334,1169 334,1139 334,1165 334,1215 334,1184 335,1250 335,1206 335,1189 335,1210 335,1137 335,1199 335,1157 335,1165 336,1107 336,1140 336,1174 336,1160 336,1176 336,1120 336,1161 336,1144 337,1092 337,1097 337,1062 337,1057 337,1075 337,1111 337,1143 338,1099 338,1131 338,1125 338,1148 338,1164 338,1177 338,1146 338,1257 339,1216 339,1154 339,1167 339,1181 339,1170 339,1133 339,1148 339,1165 340,1229 340,1165 340,1221 340,1189 340,1190 340,1244 340,1226 340,1220 341,1197 341,1145 341,1127 341,1151 341,1163 341,1177 341,1112 341,1150 342,1168 342,1140 342,1125 342,1156 342,1166 342,1208 342,1164 343,1210 343,1180 343,1198 343,1197 343,1220 343,1188 343,1231 343,1196 344,1162 344,1150 344,1250 344,1215 344,1234 344,1250 344,1220 344,1280 345,1226 345,1265 345,1198 345,1220 345,1149 345,1171 345,1188 345,1221 346,1245 346,1169 346,1184 346,1150 346,1204 346,1180 346,1203 347,1173 347,1176 347,1229 347,1194 347,1170 347,1195 347,1174 347,1229 348,1248 348,1212 348,1212 348,1123 348,1159 348,1134 348,1116 348,1154 349,1223 349,1236 349,1161 349,1169 349,1235 349,1203 349,1210 349,1227 350,1267 350,1191 350,1240 350,1182 350,1219 350,1186 350,1122 351,1161 351,1168 351,1123 351,1124 351,1155 351,1119 351,1119 351,1135 352,1098 352,1164 352,1115 352,1159 352,1201 352,1207 352,1223 352,1239 353,1175 353,1225 353,1175 353,1147 353,1143 353,1103 353,1159 353,1155 354,1107 354,1118 354,1161 354,1201 354,1208 354,1180 354,1161 354,1234 355,1219 355,1234 355,1165 355,1178 355,1154 355,1172 355,1107 356,1114 356,1091 356,1118 356,1124 356,1099 356,1110 356,1098 356,1115 357,1201 357,1232 357,1154 357,1202 357,1200 357,1160 357,1167 357,1165 358,1156 358,1186 358,1193 358,1214 358,1201 358,1226 358,1162 358,1179 359,1179 359,1135 359,1143 359,1125 359,1134 359,1193 359,1133 360,1146 360,1188 360,1108 360,1211 360,1141 360,1174 360,1168 360,1145 361,1150 361,1167 361,1240 361,1180 361,1232 361,1217 361,1201 361,1237 362,1162 362,1199 362,1231 362,1230 362,1261 362,1270 362,1235 362,1232 363,1206 363,1171 363,1207 363,1296 363,1208 363,1218 363,1203 364,1189 364,1197 364,1163 364,1158 364,1110 364,1185 364,1193 364,1170 365,1091 365,1215 365,1158 365,1178 365,1145 365,1129 365,1167 365,1104 366,1079 366,1145 366,1102 366,1150 366,1155 366,1109 366,1116 366,1175 367,1130 367,1108 367,1162 367,1187 367,1132 367,1110 367,1142 367,1130 368,1168 368,1155 368,1181 368,1181 368,1180 368,1214 368,1223 369,1264 369,1270 369,1226 369,1204 369,1210 369,1199 369,1212 369,1222 370,1234 370,1227 370,1210 370,1243 370,1284 370,1262 370,1261 370,1229 371,1199 371,1298 371,1232 371,1220 371,1127 371,1200 371,1157 371,1125 372,1180 372,1173 372,1174 372,1172 372,1206 372,1185 372,1209 373,1217 373,1157 373,1241 373,1169 373,1197 373,1188 373,1201 373,1177 374,1167 374,1220 374,1182 374,1266 374,1241 374,1263 374,1240 374,1220 375,1262 375,1235 375,1247 375,1204 375,1286 375,1276 375,1224 375,1259 376,1189 376,1179 376,1205 376,1200 376,1169 376,1165 376,1183 377,1159 377,1194 377,1169 377,1146 377,1152 377,1211 377,1211 377,1217 378,1194 378,1192 378,1242 378,1240 378,1196 378,1260 378,1158 378,1176 379,1190 379,1133 379,1160 379,1180 379,1104 379,1174 379,1179 379,1177 380,1191 380,1172 380,1200 380,1161 380,1182 380,1185 380,1162 380,1222 381,1186 381,1163 381,1149 381,1181 381,1194 381,1156 381,1235 382,1158 382,1238 382,1214 382,1153 382,1174 382,1193 382,1132 382,1161 383,1193 383,1169 383,1183 383,1206 383,1183 383,1192 383,1244 383,1196 384,1193 384,1188 384,1231 384,1185 384,1264 384,1243 384,1242 384,1230 385,1230 385,1210 385,1190 385,1138 385,1194 385,1156 385,1175 386,1167 386,1187 386,1179 386,1130 386,1168 386,1154 386,1191 386,1135 387,1128 387,1124 387,1099 387,1127 387,1147 387,1124 387,1139 387,1119 388,1200 388,1204 388,1184 388,1231 388,1160 388,1150 388,1191 388,1155 389,1131 389,1161 389,1159 389,1096 389,1101 389,1137 389,1141 390,1155 390,1161 390,1099 390,1121 390,1147 390,1197 390,1193 390,1172 391,1212 391,1170 391,1181 391,1230 391,1143 391,1180 391,1222 391,1173 392,1209 392,1145 392,1184 392,1179 392,1148 392,1229 392,1178 392,1157 393,1172 393,1220 393,1185 393,1151 393,1226 393,1215 393,1179 393,1196 394,1200 394,1148 394,1220 394,1184 394,1254 394,1311 394,1243 395,1229 395,1266 395,1205 395,1242 395,1211 395,1200 395,1215 395,1131 396,1111 396,1104 396,1109 396,1113 396,1135 396,1138 396,1177 396,1217 397,1190 397,1179 397,1224 397,1198 397,1159 397,1197 397,1112 397,1170 398,1155 398,1172 398,1171 398,1201 398,1228 398,1243 398,1245 399,1221 399,1246 399,1197 399,1214 399,1203 399,1205 399,1157 399,1192 400,1189 400,1113 400,1163 400,1111 400,1165 400,1163 400,1157 400,1210 401,1134 401,1133 401,1198 401,1156 401,1179 401,1195 401,1127 401,1190 402,1151 402,1114 402,1144 402,1126 402,1179 402,1153 402,1145 403,1182 403,1164 403,1151 403,1134 403,1118 403,1138 403,1188 403,1160 404,1150 404,1212 404,1244 404,1247 404,1233 404,1283 404,1186 404,1222 405,1142 405,1202 405,1204 405,1172 405,1156 405,1178 405,1192 405,1188 406,1182 406,1143 406,1159 406,1125 406,1152 406,1140 406,1161 406,1154 407,1165 407,1195 407,1122 407,1134 407,1125 407,1076 407,1206 408,1153 408,1183 408,1180 408,1249 408,1260 408,1280 408,1223 408,1175 409,1233 409,1193 409,1182 409,1208 409,1252 409,1183 409,1268 409,1200 410,1274 410,1211 410,1198 410,1242 410,1252 410,1214 410,1200 410,1224 411,1193 411,1155 411,1161 411,1145 411,1222 411,1209 411,1196 412,1206 412,1186 412,1253 412,1177 412,1190 412,1196 412,1219 412,1245 413,1229 413,1151 413,1170 413,1106 413,1145 413,1194 413,1130 413,1182 414,1187 414,1187 414,1262 414,1268 414,1202 414,1281 414,1262 414,1244 415,1215 415,1164 415,1143 415,1144 415,1123 415,1098 415,1173 416,1130 416,1126 416,1171 416,1088 416,1117 416,1131 416,1121 416,1142 417,1177 417,1197 417,1241 417,1209 417,1220 417,1252 417,1196 417,1161 418,1231 418,1140 418,1156 418,1164 418,1199 418,1145 418,1197 418,1164 419,1187 419,1197 419,1134 419,1105 419,1175 419,1135 419,1148 419,1152 420,1131 420,1086 420,1068 420,1091 420,1098 420,1081 420,1132 421,1110 421,1145 421,1142 421,1216 421,1168 421,1197 421,1182 421,1172 422,1125 422,1158 422,1183 422,1103 422,1110 422,1156 422,1120 422,1131 423,1205 423,1207 423,1224 423,1149 423,1250 423,1228 423,1190 423,1166 424,1164 424,1180 424,1167 424,1146 424,1155 424,1166 424,1144 425,1127 425,1120 425,1127 425,1154 425,1126 425,1110 425,1160 425,1153 426,1126 426,1127 426,1161 426,1171 426,1169 426,1189 426,1193 426,1230 427,1186 427,1133 427,1199 427,1195 427,1163 427,1152 427,1107 427,1180 428,1153 428,1197 428,1192 428,1188 428,1169 428,1151 428,1156 429,1189 429,1169 429,1207 429,1195 429,1212 429,1183 429,1160 429,1104 430,1181 430,1147 430,1163 430,1191 430,1214 430,1240 430,1215 430,1246 431,1233 431,1207 431,1271 431,1176 431,1222 431,1170 431,1161 431,1166 432,1142 432,1119 432,1162 432,1147 432,1140 432,1210 432,1255 432,1258 433,1247 433,1237 433,1297 433,1264 433,1263 433,1177 433,1225 434,1152 434,1136 434,1088 434,1046 434,1092 434,1119 434,1051 434,1126 435,1126 435,1138 435,1225 435,1218 435,1204 435,1226 435,1145 435,1217 436,1140 436,1165 436,1137 436,1153 436,1114 436,1091 436,1103 436,1117 437,1176 437,1105 437,1167 437,1083 437,1141 437,1164 437,1160 438,1119 438,1149 438,1129 438,1172 438,1119 438,1102 438,1146 438,1178 439,1186 439,1169 439,1111 439,1154 439,1176 439,1057 439,1090 439,1100 440,1173 440,1146 440,1211 440,1217 440,1201 440,1263 440,1238 440,1277 441,1214 441,1246 441,1225 441,1217 441,1241 441,1228 441,1226 442,1265 442,1180 442,1150 442,1136 442,1163 442,1133 442,1179 442,1160 443,1209 443,1175 443,1149 443,1212 443,1177 443,1113 443,1157 443,1180 444,1147 444,1164 444,1201 444,1102 444,1152 444,1141 444,1122 444,1161 445,1128 445,1093 445,1124 445,1118 445,1140 445,1149 445,1110 445,1164 446,1122 446,1155 446,1228 446,1221 446,1228 446,1174 446,1220 447,1182 447,1159 447,1173 447,1189 447,1152 447,1122 447,1140 447,1111 448,1149 448,1168 448,1148 448,1135 448,1195 448,1155 448,1186 448,1216 449,1166 449,1132 449,1210 449,1098 449,1165 449,1195 449,1167 449,1232 450,1175 450,1175 450,1238 450,1216 450,1181 450,1153 450,1129 451,1149 451,1172 451,1137 451,1150 451,1171 451,1192 451,1218 451,1195 452,1149 452,1176 452,1154 452,1218 452,1159 452,1192 452,1137 452,1142 453,1144 453,1123 453,1172 453,1128 453,1156 453,1176 453,1164 453,1134 454,1175 454,1145 454,1166 454,1198 454,1256 454,1182 454,1148 455,1176 455,1126 455,1162 455,1096 455,1082 455,1126 455,1128 455,1190 456,1119 456,1184 456,1146 456,1100 456,1140 456,1135 456,1121 456,1143 457,1135 457,1078 457,1130 457,1121 457,1158 457,1126 457,1177 457,1171 458,1190 458,1199 458,1230 458,1226 458,1188 458,1191 458,1193 458,1183 459,1230 459,1176 459,1148 459,1138 459,1122 459,1172 459,1125 460,1156 460,1139 460,1107 460,1148 460,1173 460,1204 460,1157 460,1239 461,1200 461,1234 461,1156 461,1159 461,1142 461,1152 461,1070 461,1110 462,1121 462,1172 462,1142 462,1174 462,1189 462,1224 462,1174 462,1239 463,1172 463,1196 463,1101 463,1080 463,1061 463,1123 463,1059 464,1044 464,1129 464,1154 464,1156 464,1162 464,1123 464,1163 464,1133 465,1143 465,1168 465,1141 465,1144 465,1145 465,1148 465,1173 465,1159 466,1223 466,1188 466,1132 466,1152 466,1164 466,1175 466,1171 466,1162 467,1214 467,1176 467,1174 467,1230 467,1222 467,1181 467,1194 468,1141 468,1143 468,1291 468,1230 468,1180 468,1207 468,1180 468,1188 469,1227 469,1190 469,1219 469,1245 469,1197 469,1156 469,1160 469,1185 470,1122 470,1115 470,1105 470,1190 470,1155 470,1146 470,1146 470,1186 471,1144 471,1101 471,1169 471,1089 471,1189 471,1158 471,1182 471,1213 472,1172 472,1172 472,1174 472,1132 472,1136 472,1194 472,1103 473,1156 473,1173 473,1086 473,1069 473,1120 473,1091 473,1111 473,1076 474,1112 474,1099 474,1154 474,1120 474,1156 474,1108 474,1165 474,1238 475,1270 475,1218 475,1258 475,1199 475,1173 475,1139 475,1118 475,1109 476,1132 476,1126 476,1118 476,1080 476,1139 476,1130 476,1106 477,1163 477,1137 477,1121 477,1130 477,1129 477,1098 477,1131 477,1087 478,1112 478,1154 478,1199 478,1165 478,1140 478,1174 478,1199 478,1194 479,1186 479,1204 479,1218 479,1140 479,1162 479,1129 479,1142 479,1107 480,1077 480,1131 480,1117 480,1129 480,1161 480,1089 480,1179 481,1138 481,1178 481,1165 481,1176 481,1182 481,1167 481,1232 481,1194 482,1165 482,1126 482,1171 482,1193 482,1136 482,1140 482,1176 482,1161 483,1175 483,1116 483,1186 483,1194 483,1160 483,1139 483,1184 483,1149 484,1212 484,1159 484,1180 484,1187 484,1249 484,1159 484,1183 484,1176 485,1212 485,1143 485,1196 485,1174 485,1190 485,1193 485,1165 486,1169 486,1146 486,1198 486,1164 486,1220 486,1198 486,1257 486,1219 487,1231 487,1249 487,1247 487,1228 487,1183 487,1209 487,1194 487,1174 488,1137 488,1134 488,1138 488,1189 488,1114 488,1141 488,1106 488,1139 489,1103 489,1134 489,1141 489,1129 489,1182 489,1118 489,1158 490,1169 490,1199 490,1162 490,1217 490,1161 490,1217 490,1190 490,1208 491,1182 491,1160 491,1204 491,1228 491,1211 491,1235 491,1208 491,1243 492,1212 492,1160 492,1163 492,1186 492,1163 492,1151 492,1143 492,1202 493,1183 493,1223 493,1247 493,1173 493,1178 493,1167 493,1151 494,1177 494,1131 494,1146 494,1196 494,1194 494,1232 494,1243 494,1165 495,1163 495,1199 495,1159 495,1179 495,1223 495,1167 495,1170 495,1170 496,1209 496,1232 496,1186 496,1170 496,1112 496,1267 496,1226 496,1188 497,1198 497,1183 497,1247 497,1244 497,1191 497,1271 497,1229 497,1259 498,1204 498,1204 498,1139 498,1175 498,1117 498,1139 498,1154 499,1186 499,1131 499,1168 499,1105 499,1164 499,1153 499,1158 499,1259 500,1216 500,1201 500,1197 500,1212 500,1163 500,1171 500,1165 500,1148 501,1218 501,1145 501,1171 501,1200 501,1133 501,1112 501,1126 501,1142 502,1180 502,1125 502,1174 502,1212 502,1238 502,1214 502,1262 503,1190 503,1190 503,1228 503,1259 503,1229 503,1151 503,1143 503,1160 504,1125 504,1137 504,1176 504,1182 504,1144 504,1134 504,1230 504,1171 505,1198 505,1217 505,1175 505,1148 505,1139 505,1145 505,1140 505,1179 506,1209 506,1123 506,1118 506,1206 506,1192 506,1192 506,1151 507,1156 507,1186 507,1167 507,1172 507,1171 507,1188 507,1197 507,1175 508,1223 508,1161 508,1190 508,1118 508,1101 508,1108 508,1114 508,1057 509,1081 509,1100 509,1147 509,1139 509,1184 509,1169 509,1256 509,1198 510,1266 510,1221 510,1211 510,1170 510,1205 510,1209 510,1167 510,1157 511,1168 511,1188 511,1163 511,1211 511,1177 511,1192 511,1144 512,1183 512,1113 512,1098 512,1138 512,1173 512,1124 512,1150 512,1140 513,1131 513,1135 513,1143 513,1204 513,1158 513,1187 513,1160 513,1253 514,1207 514,1198 514,1223 514,1161 514,1139 514,1129 514,1152 514,1163 515,1120 515,1184 515,1132 515,1170 515,1215 515,1173 515,1182 516,1274 516,1216 516,1224 516,1216 516,1151 516,1156 516,1117 516,1141 517,1161 517,1176 517,1135 517,1129 517,1155 517,1165 517,1136 517,1164 518,1120 518,1199 518,1174 518,1188 518,1132 518,1206 518,1214 518,1189 519,1203 519,1158 519,1175 519,1191 519,1204 519,1265 519,1223 520,1190 520,1195 520,1137 520,1110 520,1183 520,1208 520,1186 520,1150 521,1208 521,1224 521,1181 521,1222 521,1205 521,1154 521,1186 521,1148 522,1150 522,1182 522,1143 522,1116 522,1175 522,1228 522,1231 522,1207 523,1234 523,1236 523,1236 523,1205 523,1196 523,1204 523,1178 523,1170 524,1150 524,1178 524,1173 524,1170 524,1195 524,1165 524,1245 525,1179 525,1210 525,1183 525,1142 525,1137 525,1108 525,1233 525,1124 526,1155 526,1117 526,1178 526,1154 526,1199 526,1202 526,1241 526,1208 527,1234 527,1239 527,1177 527,1250 527,1187 527,1216 527,1202 527,1175 528,1183 528,1092 528,1198 528,1193 528,1197 528,1184 528,1206 529,1213 529,1232 529,1206 529,1160 529,1141 529,1198 529,1234 529,1143 530,1173 530,1173 530,1215 530,1174 530,1167 530,1134 530,1101 530,1154 531,1148 531,1148 531,1139 531,1209 531,1156 531,1161 531,1108 531,1143 532,1196 532,1201 532,1211 532,1229 532,1175 532,1161 532,1192 533,1229 533,1161 533,1123 533,1145 533,1163 533,1132 533,1063 533,1127 534,1129 534,1185 534,1174 534,1224 534,1192 534,1260 534,1257 534,1152 535,1213 535,1170 535,1205 535,1157 535,1208 535,1204 535,1134 535,1148 536,1229 536,1193 536,1167 536,1121 536,1160 536,1158 536,1190 536,1111 537,1120 537,1204 537,1148 537,1245 537,1172 537,1197 537,1161 538,1202 538,1133 538,1172 538,1139 538,1154 538,1163 538,1109 538,1150 539,1124 539,1170 539,1160 539,1134 539,1182 539,1194 539,1209 539,1198 540,1153 540,1162 540,1168 540,1152 540,1135 540,1136 540,1191 540,1201 541,1141 541,1208 541,1205 541,1254 541,1281 541,1268 541,1208 542,1238 542,1182 542,1187 542,1231 542,1215 542,1183 542,1143 542,1163 543,1246 543,1166 543,1188 543,1178 543,1162 543,1220 543,1166 543,1205 544,1232 544,1191 544,1237 544,1239 544,1236 544,1199 544,1182 544,1219 545,1142 545,1194 545,1167 545,1166 545,1171 545,1200 545,1160 546,1178 546,1180 546,1183 546,1140 546,1154 546,1132 546,1145 546,1161 547,1152 547,1086 547,1106 547,1118 547,1113 547,1167 547,1114 547,1188 548,1163 548,1168 548,1169 548,1209 548,1134 548,1221 548,1157 548,1179 549,1193 549,1218 549,1236 549,1254 549,1200 549,1256 549,1266 549,1212 550,1172 550,1258 550,1218 550,1212 550,1235 550,1238 550,1194 551,1218 551,1201 551,1267 551,1262 551,1249 551,1225 551,1207 551,1220 552,1260 552,1221 552,1149 552,1212 552,1179 552,1203 552,1181 552,1171 553,1250 553,1211 553,1167 553,1229 553,1224 553,1196 553,1182 553,1236 554,1164 554,1190 554,1183 554,1171 554,1175 554,1130 554,1151 555,1124 555,1125 555,1105 555,1103 555,1138 555,1081 555,1138 555,1094 556,1110 556,1155 556,1132 556,1148 556,1135 556,1166 556,1112 556,1136 557,1112 557,1161 557,1171 557,1150 557,1207 557,1192 557,1137 557,1194 558,1173 558,1214 558,1150 558,1215 558,1223 558,1192 558,1235 559,1265 559,1242 559,1203 559,1221 559,1194 559,1185 559,1191 559,1167 560,1205 560,1174 560,1220 560,1178 560,1195 560,1196 560,1145 560,1227 561,1221 561,1212 561,1208 561,1214 561,1209 561,1227 561,1241 561,1260 562,1219 562,1237 562,1256 562,1167 562,1172 562,1189 562,1220 562,1182 563,1176 563,1195 563,1148 563,1168 563,1230 563,1185 563,1232 564,1155 564,1127 564,1085 564,1177 564,1053 564,1121 564,1081 564,1140 565,1123 565,1121 565,1151 565,1136 565,1169 565,1182 565,1193 565,1225 566,1197 566,1228 566,1180 566,1246 566,1201 566,1307 566,1215 566,1214 567,1189 567,1171 567,1213 567,1181 567,1237 567,1240 567,1192 568,1211 568,1187 568,1244 568,1227 568,1207 568,1208 568,1173 568,1110 569,1193 569,1150 569,1202 569,1244 569,1251 569,1239 569,1268 569,1207 570,1173 570,1244 570,1183 570,1203 570,1132 570,1135 570,1169 570,1184 571,1203 571,1197 571,1147 571,1169 571,1170 571,1111 571,1140 572,1120 572,1129 572,1154 572,1106 572,1127 572,1101 572,1176 572,1181 573,1143 573,1157 573,1138 573,1108 573,1124 573,1094 573,1039 573,1102 574,1133 574,1143 574,1196 574,1188 574,1191 574,1243 574,1243 574,1210 575,1262 575,1164 575,1212 575,1233 575,1168 575,1192 575,1195 575,1180 576,1150 576,1138 576,1208 576,1163 576,1198 576,1186 576,1166 577,1173 577,1142 577,1192 577,1152 577,1132 577,1157 577,1159 577,1177 578,1173 578,1078 578,1148 578,1130 578,1133 578,1157 578,1148 578,1144 579,1183 579,1131 579,1167 579,1193 579,1198 579,1165 579,1157 579,1215 580,1181 580,1203 580,1211 580,1184 580,1175 580,1138 580,1227 581,1241 581,1273 581,1256 581,1198 581,1194 581,1149 581,1164 581,1187 582,1161 582,1140 582,1230 582,1245 582,1184 582,1181 582,1249 582,1208 583,1229 583,1184 583,1153 583,1168 583,1162 583,1218 583,1237 583,1202 584,1261 584,1249 584,1239 584,1289 584,1314 584,1206 584,1227 585,1176 585,1162 585,1200 585,1131 585,1150 585,1144 585,1162 585,1159 586,1160 586,1200 586,1161 586,1124 586,1179 586,1126 586,1165 586,1165 587,1171 587,1102 587,1135 587,1147 587,1087 587,1119 587,1099 587,1157 588,1136 588,1132 588,1119 588,1136 588,1160 588,1194 588,1150 589,1201 589,1205 589,1241 589,1175 589,1170 589,1161 589,1217 589,1168 590,1207 590,1291 590,1246 590,1276 590,1247 590,1283 590,1277 590,1229 591,1132 591,1200 591,1198 591,1204 591,1224 591,1207 591,1163 591,1224 592,1203 592,1195 592,1163 592,1176 592,1179 592,1104 592,1109 592,1130 593,1168 593,1140 593,1198 593,1197 593,1176 593,1161 593,1151 594,1178 594,1214 594,1179 594,1180 594,1160 594,1150 594,1159 594,1137 595,1158 595,1169 595,1138 595,1152 595,1204 595,1135 595,1139 595,1186 596,1136 596,1199 596,1110 596,1236 596,1164 596,1199 596,1197 596,1174 597,1177 597,1171 597,1156 597,1209 597,1168 597,1153 597,1125 598,1171 598,1073 598,1090 598,1087 598,1105 598,1147 598,1157 598,1149 599,1171 599,1143 599,1124 599,1112 599,1140 599,1080 599,1157 599,1134 600,1127 600,1162 600,1094 600,1140 600,1096 600,1098 600,1099 600,1083 601,1074 601,1122 601,1124 601,1173 601,1190 601,1163 601,1193 602,1158 602,1134 602,1130 602,1133 602,1212 602,1172 602,1192 602,1210 603,1236 603,1205 603,1173 603,1203 603,1204 603,1149 603,1185 603,1166 604,1108 604,1091 604,1140 604,1150 604,1168 604,1185 604,1186 604,1154 605,1133 605,1196 605,1171 605,1150 605,1151 605,1173 605,1188 605,1205 606,1156 606,1155 606,1166 606,1151 606,1181 606,1181 606,1237 607,1129 607,1203 607,1148 607,1127 607,1165 607,1154 607,1165 607,1150 608,1170 608,1209 608,1181 608,1236 608,1186 608,1203 608,1184 608,1230 609,1240 609,1184 609,1186 609,1169 609,1169 609,1152 609,1106 609,1131 610,1132 610,1099 610,1135 610,1179 610,1160 610,1217 610,1221 611,1189 611,1180 611,1184 611,1134 611,1219 611,1153 611,1153 611,1131 612,1150 612,1146 612,1118 612,1108 612,1139 612,1086 612,1132 612,1159 613,1119 613,1142 613,1191 613,1180 613,1193 613,1205 613,1220 613,1192 614,1179 614,1210 614,1172 614,1190 614,1162 614,1195 614,1222 615,1203 615,1209 615,1246 615,1229 615,1182 615,1209 615,1161 615,1216 616,1173 616,1189 616,1208 616,1195 616,1196 616,1121 616,1149 616,1177 617,1121 617,1167 617,1177 617,1153 617,1175 617,1195 617,1218 617,1215 618,1229 618,1248 618,1238 618,1244 618,1259 618,1252 618,1203 618,1192 619,1203 619,1213 619,1189 619,1160 619,1127 619,1165 619,1179 620,1175 620,1158 620,1149 620,1130 620,1224 620,1193 620,1174 620,1211 621,1189 621,1218 621,1180 621,1145 621,1121 621,1183 621,1166 621,1127 622,1140 622,1151 622,1160 622,1194 622,1225 622,1215 622,1182 622,1192 623,1155 623,1138 623,1133 623,1115 623,1162 623,1133 623,1104 624,1129 624,1151 624,1129 624,1170 624,1123 624,1148 624,1174 624,1156 625,1179 625,1128 625,1180 625,1125 625,1165 625,1171 625,1206 625,1207 626,1191 626,1207 626,1208 626,1136 626,1200 626,1174 626,1176 626,1181 627,1114 627,1104 627,1133 627,1147 627,1108 627,1155 627,1097 628,1118 628,1155 628,1180 628,1161 628,1222 628,1156 628,1131 628,1211 629,1173 629,1140 629,1162 629,1178 629,1141 629,1185 629,1183 629,1235 630,1231 630,1272 630,1283 630,1260 630,1218 630,1195 630,1252 630,1187 631,1236 631,1252 631,1206 631,1199 631,1219 631,1193 631,1175 631,1161 632,1172 632,1165 632,1054 632,1110 632,1149 632,1115 632,1116 633,1122 633,1191 633,1163 633,1142 633,1128 633,1114 633,1139 633,1164 634,1082 634,1167 634,1139 634,1111 634,1146 634,1106 634,1132 634,1132 635,1125 635,1165 635,1225 635,1174 635,1195 635,1218 635,1223 635,1249 636,1257 636,1214 636,1253 636,1203 636,1229 636,1224 636,1228 637,1201 637,1169 637,1156 637,1140 637,1117 637,1140 637,1127 637,1148 638,1112 638,1114 638,1135 638,1113 638,1183 638,1196 638,1187 638,1125 639,1174 639,1171 639,1173 639,1133 639,1137 639,1109 639,1121 639,1106 640,1204 640,1176 640,1176 640,1223 640,1205 640,1165 640,1183 641,1175 641,1248 641,1203 641,1269 641,1245 641,1285 641,1245 641,1260 642,1266 642,1249 642,1217 642,1158 642,1215 642,1154 642,1165 642,1156 643,1143 643,1132 643,1157 643,1157 643,1165 643,1127 643,1120 643,1129 644,1156 644,1171 644,1194 644,1165 644,1186 644,1191 644,1188 644,1196 645,1146 645,1148 645,1104 645,1146 645,1069 645,1137 645,1161 646,1134 646,1169 646,1133 646,1194 646,1214 646,1124 646,1179 646,1187 647,1213 647,1210 647,1193 647,1167 647,1158 647,1205 647,1118 647,1130 648,1114 648,1175 648,1146 648,1151 648,1137 648,1185 648,1113 648,1152 649,1213 649,1128 649,1172 649,1120 649,1200 649,1164 649,1188 650,1133 650,1179 650,1181 650,1170 650,1175 650,1127 650,1175 650,1183 651,1180 651,1190 651,1201 651,1224 651,1224 651,1220 651,1200 651,1191 652,1143 652,1200 652,1194 652,1157 652,1152 652,1134 652,1150 652,1160 653,1124 653,1154 653,1208 653,1179 653,1217 653,1196 653,1220 654,1228 654,1246 654,1227 654,1221 654,1218 654,1222 654,1222 654,1201 655,1169 655,1216 655,1229 655,1192 655,1195 655,1157 655,1151 655,1135 656,1198 656,1121 656,1089 656,1096 656,1063 656,1071 656,1100 656,1070 657,1104 657,1167 657,1121 657,1174 657,1154 657,1198 657,1155 657,1112 658,1137 658,1181 658,1172 658,1120 658,1178 658,1166 658,1141 659,1182 659,1176 659,1122 659,1205 659,1116 659,1096 659,1067 659,1058 660,1074 660,1094 660,1037 660,1071 660,1159 660,1159 660,1133 660,1157 661,1194 661,1194 661,1190 661,1165 661,1176 661,1168 661,1194 661,1138 662,1203 662,1194 662,1192 662,1201 662,1221 662,1197 662,1173 663,1208 663,1126 663,1049 663,1122 663,1112 663,1082 663,1100 663,1116 664,1089 664,1108 664,1116 664,1093 664,1121 664,1128 664,1118 664,1147 665,1143 665,1166 665,1139 665,1112 665,1157 665,1127 665,1155 665,1129 666,1124 666,1110 666,1144 666,1103 666,1113 666,1144 666,1117 667,1205 667,1230 667,1187 667,1192 667,1187 667,1171 667,1140 667,1123 668,1168 668,1144 668,1177 668,1180 668,1151 668,1190 668,1176 668,1173 669,1194 669,1142 669,1101 669,1172 669,1156 669,1156 669,1197 669,1203 670,1217 670,1240 670,1210 670,1172 670,1158 670,1197 670,1123 670,1209 671,1192 671,1161 671,1199 671,1184 671,1167 671,1217 671,1233 672,1190 672,1175 672,1225 672,1193 672,1270 672,1239 672,1181 672,1189 673,1205 673,1234 673,1252 673,1180 673,1175 673,1190 673,1170 673,1180 674,1188 674,1191 674,1189 674,1194 674,1135 674,1159 674,1168 674,1133 675,1159 675,1178 675,1181 675,1177 675,1215 675,1194 675,1226 676,1215 676,1200 676,1212 676,1184 676,1184 676,1143 676,1192 676,1180 677,1203 677,1176 677,1157 677,1114 677,1121 677,1122 677,1134 677,1118 678,1107 678,1180 678,1122 678,1162 678,1199 678,1175 678,1144 678,1146 679,1199 679,1187 679,1141 679,1157 679,1120 679,1130 679,1156 680,1135 680,1162 680,1150 680,1151 680,1190 680,1250 680,1298 680,1279 681,1282 681,1294 681,1244 681,1271 681,1305 681,1247 681,1251 681,1205 682,1269 682,1216 682,1233 682,1181 682,1191 682,1218 682,1171 682,1203 683,1173 683,1203 683,1210 683,1254 683,1266 683,1274 683,1257 683,1315 684,1205 684,1235 684,1225 684,1259 684,1243 684,1232 684,1175 685,1207 685,1199 685,1149 685,1186 685,1212 685,1235 685,1163 685,1115 686,1141 686,1138 686,1173 686,1088 686,1140 686,1085 686,1050 686,1103 687,1171 687,1138 687,1173 687,1169 687,1149 687,1132 687,1150 687,1183 688,1167 688,1200 688,1175 688,1194 688,1163 688,1161 688,1172 689,1172 689,1178 689,1136 689,1159 689,1165 689,1217 689,1197 689,1213 690,1190 690,1142 690,1182 690,1187 690,1252 690,1219 690,1255 690,1226 691,1183 691,1164 691,1214 691,1265 691,1172 691,1176 691,1206 691,1253 692,1164 692,1203 692,1205 692,1278 692,1259 692,1206 692,1279 693,1235 693,1252 693,1237 693,1214 693,1247 693,1214 693,1212 693,1235 694,1205 694,1222 694,1249 694,1167 694,1181 694,1202 694,1169 694,1210 695,1158 695,1138 695,1127 695,1169 695,1143 695,1134 695,1176 695,1097 696,1171 696,1211 696,1171 696,1125 696,1208 696,1116 696,1151 696,1183 697,1191 697,1171 697,1251 697,1235 697,1240 697,1204 697,1229 698,1216 698,1201 698,1175 698,1156 698,1201 698,1186 698,1191 698,1180 699,1154 699,1207 699,1204 699,1178 699,1163 699,1134 699,1169 699,1152 700,1174 700,1133 700,1164 700,1117 700,1122 700,1185 700,1145 700,1161 701,1162 701,1136 701,1165 701,1103 701,1062 701,1058 701,1102 702,1095 702,1139 702,1113 702,1145 702,1144 702,1148 702,1145 702,1176 703,1140 703,1205 703,1176 703,1201 703,1221 703,1179 703,1198 703,1219 704,1168 704,1208 704,1179 704,1214 704,1171 704,1256 704,1222 704,1201 705,1172 705,1206 705,1144 705,1181 705,1185 705,1231 705,1160 706,1206 706,1201 706,1178 706,1151 706,1173 706,1133 706,1154 706,1154 707,1124 707,1067 707,1099 707,1133 707,1096 707,1102 707,1140 707,1121 708,1127 708,1179 708,1109 708,1173 708,1113 708,1157 708,1156 708,1152 709,1175 709,1158 709,1168 709,1134 709,1207 709,1198 709,1187 709,1211 710,1223 710,1205 710,1190 710,1126 710,1229 710,1180 710,1218 711,1118 711,1190 711,1163 711,1242 711,1170 711,1165 711,1146 711,1115 712,1123 712,1080 712,1117 712,1145 712,1086 712,1082 712,1120 712,1094 713,1101 713,1134 713,1145 713,1073 713,1118 713,1121 713,1110 713,1194 714,1194 714,1189 714,1184 714,1216 714,1230 714,1222 714,1208 715,1169 715,1217 715,1093 715,1152 715,1112 715,1094 715,1145 715,1149 716,1131 716,1142 716,1132 716,1146 716,1129 716,1137 716,1175 716,1167 717,1161 717,1208 717,1233 717,1215 717,1226 717,1257 717,1251 717,1170 718,1198 718,1203 718,1151 718,1141 718,1183 718,1108 718,1192 719,1216 719,1179 719,1129 719,1133 719,1070 719,1074 719,1112 719,1130 720,1135 720,1080 720,1138 720,1125 720,1156 720,1151 720,1117 720,1181 721,1133 721,1183 721,1196 721,1112 721,1207 721,1091 721,1119 721,1113 722,1139 722,1122 722,1166 722,1190 722,1182 722,1173 722,1211 722,1228 723,1293 723,1254 723,1273 723,1250 723,1249 723,1254 723,1198 724,1226 724,1147 724,1110 724,1127 724,1203 724,1179 724,1153 724,1173 725,1168 725,1156 725,1199 725,1156 725,1149 725,1144 725,1202 725,1167 726,1181 726,1170 726,1247 726,1230 726,1225 726,1178 726,1219 726,1239 727,1212 727,1166 727,1126 727,1138 727,1152 727,1206 727,1153 728,1158 728,1139 728,1161 728,1143 728,1185 728,1157 728,1167 728,1115 729,1215 729,1199 729,1147 729,1163 729,1094 729,1133 729,1144 729,1168 730,1144 730,1137 730,1169 730,1166 730,1164 730,1255 730,1245 730,1168 731,1167 731,1176 731,1177 731,1162 731,1192 731,1187 731,1155 732,1200 732,1168 732,1157 732,1193 732,1133 732,1156 732,1167 732,1188 733,1133 733,1179 733,1113 733,1107 733,1165 733,1128 733,1095 733,1144 734,1161 734,1133 734,1162 734,1145 734,1191 734,1175 734,1156 734,1167 735,1178 735,1200 735,1201 735,1168 735,1182 735,1168 735,1193 735,1199 736,1211 736,1165 736,1202 736,1213 736,1157 736,1204 736,1162 737,1143 737,1136 737,1221 737,1181 737,1153 737,1161 737,1171 737,1108 738,1178 738,1206 738,1186 738,1214 738,1207 738,1232 738,1245 738,1279 739,1171 739,1229 739,1243 739,1220 739,1223 739,1172 739,1212 739,1232 740,1191 740,1219 740,1160 740,1268 740,1290 740,1206 740,1224 741,1170 741,1206 741,1166 741,1221 741,1176 741,1240 741,1276 741,1245 742,1244 742,1185 742,1233 742,1213 742,1215 742,1289 742,1205 742,1233 743,1200 743,1196 743,1211 743,1177 743,1225 743,1235 743,1173 743,1227 744,1218 744,1210 744,1199 744,1249 744,1245 744,1185 744,1218 745,1178 745,1171 745,1174 745,1156 745,1160 745,1172 745,1110 745,1136 746,1177 746,1171 746,1190 746,1156 746,1179 746,1152 746,1174 746,1185 747,1168 747,1135 747,1116 747,1117 747,1124 747,1104 747,1118 747,1074 748,1139 748,1163 748,1165 748,1193 748,1201 748,1230 748,1265 748,1191 749,1267 749,1240 749,1180 749,1153 749,1177 749,1190 749,1180 750,1184 750,1205 750,1238 750,1225 750,1244 750,1219 750,1217 750,1220 751,1147 751,1204 751,1188 751,1109 751,1133 751,1131 751,1154 751,1179 752,1150 752,1218 752,1104 752,1142 752,1193 752,1186 752,1142 752,1183 753,1137 753,1163 753,1171 753,1131 753,1149 753,1157 753,1188 754,1089 754,1152 754,1163 754,1138 754,1133 754,1126 754,1101 754,1132 755,1122 755,1140 755,1147 755,1131 755,1219 755,1247 755,1162 755,1192 756,1192 756,1122 756,1146 756,1130 756,1119 756,1150 756,1115 756,1150 757,1167 757,1168 757,1121 757,1157 757,1136 757,1166 757,1158 758,1181 758,1141 758,1153 758,1161 758,1101 758,1144 758,1109 758,1087 759,1136 759,1099 759,1120 759,1119 759,1090 759,1178 759,1198 759,1145 760,1235 760,1226 760,1219 760,1219 760,1233 760,1253 760,1245 760,1220 761,1270 761,1216 761,1300 761,1203 761,1174 761,1200 761,1173 761,1122 762,1098 762,1172 762,1130 762,1131 762,1183 762,1152 762,1141 763,1133 763,1140 763,1115 763,1099 763,1197 763,1175 763,1245 763,1238 764,1260 764,1230 764,1171 764,1275 764,1209 764,1229 764,1184 764,1186 765,1229 765,1222 765,1243 765,1216 765,1164 765,1147 765,1164 765,1203 766,1174 766,1228 766,1215 766,1165 766,1169 766,1186 766,1184 767,1208 767,1141 767,1144 767,1199 767,1139 767,1243 767,1147 767,1134 768,1173 768,1153 768,1185 768,1160 768,1096 768,1116 768,1130 768,1174 769,1192 769,1162 769,1207 769,1196 769,1171 769,1112 769,1206 769,1158 770,1193 770,1154 770,1163 770,1223 770,1159 770,1256 770,1266 771,1252 771,1210 771,1237 771,1208 771,1200 771,1252 771,1243 771,1179 772,1194 772,1169 772,1156 772,1156 772,1156 772,1167 772,1176 772,1121 773,1157 773,1137 773,1110 773,1135 773,1125 773,1142 773,1168 773,1136 774,1134 774,1182 774,1127 774,1154 774,1165 774,1210 774,1166 774,1144 775,1240 775,1146 775,1173 775,1149 775,1203 775,1135 775,1167 776,1182 776,1202 776,1216 776,1225 776,1217 776,1183 776,1217 776,1130 777,1207 777,1184 777,1177 777,1193 777,1196 777,1258 777,1126 777,1181 778,1167 778,1181 778,1128 778,1156 778,1139 778,1100 778,1099 778,1113 779,1135 779,1127 779,1152 779,1142 779,1163 779,1206 779,1132 780,1206 780,1220 780,1188 780,1132 780,1153 780,1159 780,1128 780,1057 781,1138 781,1130 781,1154 781,1108 781,1141 781,1132 781,1141 781,1174 782,1148 782,1178 782,1185 782,1162 782,1178 782,1239 782,1256 782,1143 783,1189 783,1187 783,1153 783,1130 783,1171 783,1137 783,1191 784,1194 784,1202 784,1114 784,1134 784,1116 784,1081 784,1162 784,1055 785,1133 785,1207 785,1129 785,1118 785,1191 785,1219 785,1174 785,1186 786,1280 786,1223 786,1214 786,1261 786,1220 786,1230 786,1195 786,1155 787,1134 787,1176 787,1169 787,1190 787,1175 787,1124 787,1179 787,1225 788,1215 788,1211 788,1197 788,1239 788,1176 788,1184 788,1200 789,1170 789,1134 789,1208 789,1194 789,1180 789,1203 789,1243 789,1226 790,1175 790,1197 790,1205 790,1196 790,1192 790,1188 790,1110 790,1146 791,1101 791,1125 791,1101 791,1107 791,1089 791,1068 791,1116 791,1165 792,1115 792,1084 792,1120 792,1141 792,1131 792,1185 792,1160 793,1123 793,1099 793,1093 793,1146 793,1152 793,1155 793,1149 793,1134 794,1149 794,1077 794,1165 794,1074 794,1093 794,1144 794,1124 794,1144 795,1090 795,1104 795,1103 795,1156 795,1109 795,1165 795,1141 795,1131 796,1193 796,1215 796,1190 796,1127 796,1198 796,1158 796,1157 797,1110 797,1176 797,1169 797,1180 797,1160 797,1199 797,1197 797,1223 798,1186 798,1208 798,1205 798,1269 798,1193 798,1217 798,1173 798,1165 799,1225 799,1197 799,1208 799,1183 799,1164 799,1176 799,1180 799,1128 800,1219 800,1170 800,1189 800,1174 800,1149 800,1121 800,1147 800,1074 801,1109 801,1107 801,1129 801,1098 801,1151 801,1141 801,1116 802,1126 802,1206 802,1232 802,1125 802,1184 802,1188 802,1195 802,1175 803,1176 803,1163 803,1187 803,1137 803,1140 803,1146 803,1151 803,1159 804,1128 804,1166 804,1205 804,1183 804,1205 804,1223 804,1183 804,1184 805,1194 805,1169 805,1142 805,1195 805,1178 805,1208 805,1185 806,1207 806,1170 806,1205 806,1182 806,1210 806,1236 806,1209 806,1286 807,1199 807,1242 807,1277 807,1257 807,1259 807,1244 807,1200 807,1210 808,1238 808,1239 808,1184 808,1153 808,1212 808,1148 808,1160 808,1165 809,1130 809,1189 809,1171 809,1209 809,1169 809,1222 809,1207 810,1201 810,1193 810,1204 810,1248 810,1182 810,1180 810,1145 810,1204 811,1170 811,1141 811,1178 811,1210 811,1212 811,1189 811,1158 811,1200 812,1155 812,1220 812,1191 812,1201 812,1261 812,1205 812,1257 812,1304 813,1224 813,1191 813,1196 813,1145 813,1105 813,1123 813,1109 813,1090 814,1118 814,1097 814,1127 814,1157 814,1122 814,1157 814,1150 815,1156 815,1154 815,1226 815,1169 815,1200 815,1202 815,1146 815,1218 816,1152 816,1212 816,1164 816,1167 816,1194 816,1149 816,1256 816,1171 817,1184 817,1161 817,1198 817,1174 817,1191 817,1164 817,1156 817,1211 818,1113 818,1159 818,1090 818,1165 818,1150 818,1120 818,1181 819,1156 819,1203 819,1199 819,1209 819,1199 819,1145 819,1215 819,1181 820,1190 820,1172 820,1167 820,1161 820,1151 820,1110 820,1226 820,1206 821,1202 821,1192 821,1274 821,1177 821,1214 821,1163 821,1184 821,1196 822,1207 822,1179 822,1181 822,1233 822,1193 822,1206 822,1184 823,1222 823,1206 823,1184 823,1152 823,1174 823,1204 823,1189 823,1128 824,1137 824,1166 824,1147 824,1189 824,1180 824,1179 824,1137 824,1168 825,1199 825,1177 825,1190 825,1152 825,1172 825,1188 825,1229 825,1199 826,1216 826,1283 826,1241 826,1222 826,1215 826,1202 826,1186 826,1161 827,1156 827,1174 827,1204 827,1240 827,1210 827,1195 827,1183 828,1146 828,1187 828,1247 828,1192 828,1220 828,1219 828,1194 828,1148 829,1173 829,1142 829,1163 829,1176 829,1164 829,1122 829,1180 829,1155 830,1155 830,1159 830,1197 830,1178 830,1188 830,1225 830,1192 830,1173 831,1098 831,1172 831,1168 831,1126 831,1130 831,1149 831,1178 832,1227 832,1085 832,1132 832,1104 832,1130 832,1145 832,1136 832,1091 833,1112 833,1074 833,1177 833,1178 833,1185 833,1175 833,1183 833,1264 834,1249 834,1274 834,1274 834,1216 834,1228 834,1202 834,1171 834,1172 835,1130 835,1153 835,1178 835,1200 835,1185 835,1174 835,1196 836,1237 836,1220 836,1234 836,1146 836,1164 836,1212 836,1170 836,1137 837,1144 837,1164 837,1234 837,1130 837,1200 837,1150 837,1158 837,1201 838,1196 838,1185 838,1195 838,1188 838,1192 838,1136 838,1161 838,1221 839,1221 839,1176 839,1163 839,1185 839,1241 839,1130 839,1213 839,1175 840,1198 840,1203 840,1216 840,1203 840,1143 840,1097 840,1135 841,1118 841,1105 841,1096 841,1132 841,1092 841,1122 841,1125 841,1194 842,1105 842,1140 842,1082 842,1084 842,1135 842,1114 842,1144 842,1172 843,1166 843,1190 843,1227 843,1261 843,1189 843,1235 843,1202 843,1174 844,1143 844,1141 844,1158 844,1128 844,1132 844,1085 844,1130 845,1144 845,1181 845,1156 845,1188 845,1218 845,1197 845,1156 845,1164 846,1203 846,1236 846,1223 846,1247 846,1183 846,1170 846,1196 846,1184 847,1178 847,1196 847,1166 847,1212 847,1200 847,1152 847,1196 847,1159 848,1134 848,1135 848,1121 848,1135 848,1115 848,1149 848,1193 849,1176 849,1196 849,1246 849,1200 849,1196 849,1259 849,1249 849,1228 850,1228 850,1167 850,1203 850,1163 850,1188 850,1150 850,1115 850,1145 851,1192 851,1112 851,1116 851,1114 851,1112 851,1178 851,1189 851,1220 852,1149 852,1163 852,1167 852,1108 852,1161 852,1165 852,1181 852,1155 853,1185 853,1141 853,1114 853,1168 853,1120 853,1212 853,1165 854,1174 854,1184 854,1165 854,1125 854,1150 854,1171 854,1190 854,1201 855,1170 855,1171 855,1174 855,1136 855,1104 855,1174 855,1109 855,1146 856,1100 856,1200 856,1164 856,1239 856,1232 856,1208 856,1201 856,1177 857,1223 857,1191 857,1190 857,1185 857,1163 857,1141 857,1226 858,1169 858,1178 858,1163 858,1147 858,1150 858,1215 858,1138 858,1161 859,1187 859,1143 859,1160 859,1220 859,1143 859,1103 859,1143 859,1164 860,1110 860,1150 860,1101 860,1087 860,1116 860,1158 860,1097 860,1117 861,1150 861,1117 861,1145 861,1210 861,1135 861,1165 861,1169 862,1109 862,1171 862,1168 862,1196 862,1195 862,1180 862,1181 862,1156 863,1162 863,1221 863,1201 863,1198 863,1208 863,1215 863,1176 863,1206 864,1203 864,1208 864,1223 864,1241 864,1198 864,1173 864,1136 864,1151 865,1130 865,1125 865,1127 865,1073 865,1088 865,1093 865,1106 865,1184 866,1115 866,1163 866,1135 866,1163 866,1159 866,1197 866,1227 867,1179 867,1178 867,1171 867,1185 867,1169 867,1175 867,1182 867,1187 868,1174 868,1118 868,1174 868,1165 868,1135 868,1158 868,1152 868,1138 869,1180 869,1218 869,1166 869,1255 869,1166 869,1204 869,1208 869,1196 870,1234 870,1246 870,1261 870,1215 870,1225 870,1265 870,1183 871,1212 871,1167 871,1185 871,1184 871,1171 871,1197 871,1160 871,1156 872,1171 872,1117 872,1132 872,1156 872,1184 872,1193 872,1172 872,1166 873,1127 873,1141 873,1141 873,1142 873,1150 873,1116 873,1161 873,1172 874,1138 874,1192 874,1218 874,1154 874,1150 874,1154 874,1195 875,1176 875,1214 875,1170 875,1159 875,1175 875,1139 875,1135 875,1150 876,1115 876,1145 876,1133 876,1105 876,1094 876,1196 876,1169 876,1199 877,1167 877,1171 877,1168 877,1215 877,1169 877,1200 877,1208 877,1179 878,1187 878,1167 878,1205 878,1159 878,1209 878,1221 878,1224 878,1188 879,1122 879,1168 879,1199 879,1208 879,1186 879,1228 879,1117 880,1198 880,1209 880,1168 880,1203 880,1191 880,1184 880,1183 880,1165 881,1175 881,1184 881,1141 881,1241 881,1152 881,1212 881,1150 881,1177 882,1227 882,1216 882,1186 882,1214 882,1191 882,1127 882,1188 882,1173 883,1199 883,1200 883,1208 883,1189 883,1174 883,1194 883,1268 884,1219 884,1144 884,1157 884,1151 884,1132 884,1168 884,1170 884,1162 885,1138 885,1130 885,1116 885,1135 885,1164 885,1134 885,1178 885,1142 886,1154 886,1147 886,1156 886,1134 886,1167 886,1147 886,1125 886,1112 887,1164 887,1110 887,1115 887,1124 887,1125 887,1121 887,1159 888,1206 888,1193 888,1145 888,1186 888,1142 888,1160 888,1204 888,1161 889,1266 889,1168 889,1172 889,1184 889,1192 889,1195 889,1202 889,1181 890,1204 890,1229 890,1228 890,1184 890,1197 890,1203 890,1150 890,1169 891,1206 891,1175 891,1223 891,1208 891,1174 891,1156 891,1170 891,1093 892,1100 892,1096 892,1112 892,1131 892,1135 892,1089 892,1125 893,1156 893,1148 893,1179 893,1158 893,1207 893,1190 893,1157 893,1063 894,1118 894,1099 894,1131 894,1072 894,1124 894,1172 894,1180 894,1174 895,1204 895,1179 895,1153 895,1200 895,1114 895,1106 895,1132 895,1117 896,1131 896,1159 896,1127 896,1150 896,1172 896,1206 896,1189 897,1150 897,1169 897,1207 897,1162 897,1208 897,1200 897,1194 897,1221 898,1159 898,1135 898,1159 898,1084 898,1189 898,1148 898,1163 898,1137 899,1147 899,1134 899,1167 899,1135 899,1128 899,1155 899,1202 899,1202 900,1185 900,1152 900,1189 900,1149 900,1144 900,1178 900,1130 901,1183 901,1143 901,1097 901,1189 901,1149 901,1108 901,1141 901,1163 902,1137 902,1168 902,1132 902,1118 902,1142 902,1139 902,1196 902,1121 903,1183 903,1173 903,1186 903,1186 903,1170 903,1166 903,1187 903,1202 904,1144 904,1219 904,1145 904,1188 904,1158 904,1123 904,1128 904,1139 905,1119 905,1143 905,1180 905,1191 905,1226 905,1204 905,1154 906,1208 906,1209 906,1243 906,1282 906,1248 906,1223 906,1248 906,1250 907,1216 907,1197 907,1239 907,1170 907,1238 907,1227 907,1254 907,1192 908,1264 908,1213 908,1197 908,1186 908,1188 908,1239 908,1201 908,1234 909,1287 909,1170 909,1210 909,1191 909,1165 909,1176 909,1172 910,1123 910,1094 910,1075 910,1142 910,1080 910,1158 910,1098 910,1131 911,1090 911,1078 911,1077 911,1060 911,1063 911,1086 911,1063 911,1119 912,1151 912,1143 912,1182 912,1167 912,1168 912,1113 912,1098 912,1176 913,1151 913,1094 913,1105 913,1062 913,1088 913,1123 913,1048 914,1177 914,1138 914,1139 914,1178 914,1242 914,1272 914,1219 914,1245 915,1226 915,1194 915,1189 915,1126 915,1123 915,1202 915,1147 915,1172 916,1217 916,1176 916,1182 916,1208 916,1174 916,1142 916,1202 916,1215 917,1206 917,1183 917,1158 917,1228 917,1234 917,1229 917,1213 917,1132 918,1144 918,1226 918,1160 918,1134 918,1154 918,1143 918,1146 919,1132 919,1107 919,1246 919,1160 919,1128 919,1164 919,1178 919,1161 920,1152 920,1160 920,1184 920,1251 920,1211 920,1204 920,1261 920,1295 921,1211 921,1178 921,1233 921,1162 921,1209 921,1190 921,1169 921,1234 922,1192 922,1225 922,1167 922,1213 922,1186 922,1169 922,1183 923,1160 923,1159 923,1110 923,1158 923,1151 923,1158 923,1149 923,1125 924,1147 924,1150 924,1157 924,1149 924,1124 924,1162 924,1130 924,1102 925,1171 925,1126 925,1209 925,1177 925,1147 925,1159 925,1206 925,1174 926,1134 926,1204 926,1270 926,1270 926,1271 926,1241 926,1194 927,1206 927,1163 927,1207 927,1191 927,1149 927,1182 927,1130 927,1130 928,1188 928,1168 928,1166 928,1171 928,1159 928,1188 928,1130 928,1153 929,1149 929,1148 929,1206 929,1153 929,1203 929,1141 929,1245 929,1179 930,1244 930,1221 930,1199 930,1247 930,1224 930,1188 930,1244 930,1264 931,1199 931,1186 931,1168 931,1194 931,1193 931,1165 931,1190 932,1173 932,1265 932,1189 932,1211 932,1212 932,1178 932,1181 932,1122 933,1119 933,1139 933,1109 933,1166 933,1228 933,1221 933,1181 933,1201 934,1209 934,1217 934,1270 934,1200 934,1195 934,1184 934,1206 934,1202 935,1166 935,1232 935,1178 935,1174 935,1125 935,1125 935,1124 936,1177 936,1192 936,1168 936,1147 936,1169 936,1235 936,1143 936,1161 937,1196 937,1170 937,1150 937,1155 937,1143 937,1127 937,1148 937,1090 938,1105 938,1126 938,1108 938,1105 938,1065 938,1100 938,1138 938,1153 939,1195 939,1217 939,1211 939,1235 939,1251 939,1257 939,1268 940,1239 940,1261 940,1238 940,1296 940,1203 940,1243 940,1252 940,1192 941,1172 941,1176 941,1189 941,1209 941,1209 941,1162 941,1206 941,1173 942,1160 942,1167 942,1252 942,1200 942,1267 942,1176 942,1178 942,1203 943,1222 943,1196 943,1200 943,1154 943,1163 943,1114 943,1191 943,1214 944,1127 944,1212 944,1236 944,1174 944,1140 944,1171 944,1149 945,1130 945,1164 945,1138 945,1116 945,1155 945,1095 945,1196 945,1194 946,1188 946,1205 946,1200 946,1172 946,1136 946,1224 946,1193 946,1203 947,1154 947,1170 947,1175 947,1167 947,1148 947,1184 947,1163 947,1202 948,1122 948,1173 948,1137 948,1129 948,1185 948,1236 948,1184 949,1225 949,1171 949,1210 949,1170 949,1172 949,1222 949,1138 949,1096 950,1203 950,1174 950,1196 950,1162 950,1157 950,1142 950,1126 950,1129 951,1171 951,1199 951,1144 951,1142 951,1119 951,1102 951,1148 951,1187 952,1196 952,1235 952,1241 952,1280 952,1260 952,1298 952,1310 953,1265 953,1251 953,1243 953,1281 953,1288 953,1274 953,1189 953,1191 954,1189 954,1151 954,1143 954,1119 954,1137 954,1071 954,1070 954,1134 955,1086 955,1070 955,1057 955,1148 955,1135 955,1141 955,1180 955,1158 956,1144 956,1180 956,1126 956,1143 956,1147 956,1142 956,1095 956,1093 957,1141 957,1155 957,1234 957,1199 957,1178 957,1232 957,1231 958,1265 958,1290 958,1270 958,1233 958,1244 958,1290 958,1282 958,1229 959,1218 959,1156 959,1197 959,1197 959,1121 959,1151 959,1120 959,1123 960,1122 960,1074 960,1128 960,1170 960,1193 960,1148 960,1193 960,1227 961,1177 961,1208 961,1152 961,1109 961,1183 961,1143 961,1166 962,1170 962,1137 962,1233 962,1196 962,1136 962,1189 962,1203 962,1182 963,1169 963,1168 963,1162 963,1152 963,1175 963,1183 963,1181 963,1224 964,1171 964,1142 964,1185 964,1144 964,1126 964,1142 964,1137 964,1174 965,1173 965,1153 965,1131 965,1214 965,1147 965,1186 965,1194 966,1216 966,1147 966,1112 966,1151 966,1112 966,1108 966,1100 966,1114 967,1131 967,1116 967,1131 967,1150 967,1150 967,1139 967,1189 967,1116 968,1136 968,1086 968,1103 968,1094 968,1123 968,1089 968,1101 968,1150 969,1157 969,1162 969,1117 969,1124 969,1142 969,1126 969,1128 969,1188 970,1172 970,1158 970,1143 970,1154 970,1209 970,1164 970,1206 971,1224 971,1239 971,1233 971,1299 971,1268 971,1261 971,1215 971,1204 972,1214 972,1082 972,1256 972,1194 972,1113 972,1143 972,1211 972,1138 973,1145 973,1117 973,1113 973,1145 973,1163 973,1160 973,1166 973,1202 974,1177 974,1195 974,1220 974,1282 974,1199 974,1242 974,1240 975,1190 975,1241 975,1181 975,1206 975,1243 975,1182 975,1178 975,1141 976,1139 976,1112 976,1095 976,1111 976,1087 976,1159 976,1144 976,1145 977,1154 977,1119 977,1174 977,1139 977,1156 977,1144 977,1176 977,1137 978,1155 978,1076 978,1161 978,1131 978,1111 978,1135 978,1187 979,1188 979,1139 979,1221 979,1188 979,1155 979,1233 979,1203 979,1201 980,1184 980,1148 980,1193 980,1183 980,1133 980,1133 980,1167 980,1175 981,1173 981,1117 981,1118 981,1098 981,1116 981,1123 981,1187 981,1137 982,1217 982,1127 982,1210 982,1178 982,1194 982,1120 982,1153 982,1125 983,1122 983,1163 983,1150 983,1154 983,1136 983,1086 983,1088 984,1083 984,1131 984,1142 984,1092 984,1123 984,1134 984,1149 984,1133 985,1117 985,1161 985,1171 985,1201 985,1174 985,1203 985,1224 985,1179 986,1183 986,1193 986,1244 986,1229 986,1225 986,1161 986,1209 986,1203 987,1237 987,1270 987,1184 987,1229 987,1220 987,1194 987,1211 988,1187 988,1225 988,1178 988,1217 988,1220 988,1162 988,1196 988,1174 989,1152 989,1149 989,1105 989,1148 989,1136 989,1141 989,1219 989,1226 990,1181 990,1210 990,1224 990,1165 990,1166 990,1175 990,1132 990,1214 991,1132 991,1105 991,1126 991,1164 991,1155 991,1194 991,1238 992,1230 992,1216 992,1216 992,1234 992,1294 992,1139 992,1199 992,1246 993,1207 993,1164 993,1218 993,1143 993,1154 993,1106 993,1167 993,1144 994,1112 994,1140 994,1182 994,1178 994,1170 994,1222 994,1152 994,1145 995,1168 995,1155 995,1117 995,1071 995,1108 995,1086 995,1082 995,1067 996,1055 996,1113 996,1163 996,1132 996,1110 996,1199 996,1177 997,1211 997,1259 997,1229 997,1257 997,1246 997,1236 997,1252 997,1218 998,1165 998,1194 998,1165 998,1232 998,1127 998,1182 998,1184 998,1202 999,1202 999,1160 999,1109 999,1128 999,1056 999,1128 999,1158 999,1134 1000,1094 1000,1113 1000,1197 1000,1207 1000,1166 1000,1263 1000,1202 1001,1249 1001,1230 1001,1231 1001,1186 1001,1163 1001,1206 1001,1146 1001,1151 1002,1183 1002,1169 1002,1133 1002,1152 1002,1159 1002,1130 1002,1155 1002,1211 1003,1150 1003,1170 1003,1180 1003,1182 1003,1245 1003,1207 1003,1238 1003,1226 1004,1162 1004,1217 1004,1152 1004,1193 1004,1179 1004,1148 1004,1150 1005,1204 1005,1141 1005,1167 1005,1150 1005,1127 1005,1149 1005,1193 1005,1148 1006,1172 1006,1213 1006,1258 1006,1260 1006,1278 1006,1300 1006,1256 1006,1272 1007,1238 1007,1254 1007,1198 1007,1109 1007,1220 1007,1143 1007,1165 1007,1182 1008,1187 1008,1179 1008,1216 1008,1113 1008,1125 1008,1079 1008,1090 1009,1081 1009,1086 1009,1112 1009,1088 1009,1136 1009,1148 1009,1181 1009,1172 1010,1134 1010,1184 1010,1148 1010,1172 1010,1215 1010,1148 1010,1165 1010,1161 1011,1121 1011,1136 1011,1169 1011,1126 1011,1147 1011,1147 1011,1073 1011,1178 1012,1128 1012,1131 1012,1097 1012,1091 1012,1150 1012,1209 1012,1086 1012,1164 1013,1148 1013,1146 1013,1140 1013,1116 1013,1137 1013,1084 1013,1071 1014,1115 1014,1124 1014,1082 1014,1090 1014,1130 1014,1139 1014,1232 1014,1176 1015,1183 1015,1191 1015,1160 1015,1151 1015,1175 1015,1177 1015,1125 1015,1180 1016,1186 1016,1147 1016,1180 1016,1129 1016,1131 1016,1151 1016,1175 1016,1184 1017,1209 1017,1149 1017,1213 1017,1214 1017,1220 1017,1222 1017,1252 1018,1194 1018,1172 1018,1227 1018,1249 1018,1203 1018,1189 1018,1164 1018,1194 1019,1157 1019,1187 1019,1212 1019,1124 1019,1157 1019,1175 1019,1186 1019,1154 1020,1217 1020,1181 1020,1161 1020,1215 1020,1188 1020,1172 1020,1150 1020,1185 1021,1237 1021,1244 1021,1205 1021,1137 1021,1190 1021,1152 1021,1158 1022,1109 1022,1167 1022,1169 1022,1180 1022,1150 1022,1145 1022,1154 1022,1142 1023,1156 1023,1178 1023,1165 1023,1167 1023,1141 1023,1139 1023,1085 1023,1130 1024,1169 1024,1161 1024,1213 1024,1186 1024,1179 1024,1209 1024,1161 1024,1193 1025,1217 1025,1173 1025,1175 1025,1196 1025,1176 1025,1206 1025,1143 1025,1212 1026,1170 1026,1190 1026,1155 1026,1198 1026,1140 1026,1143 1026,1176 1027,1127 1027,1181 1027,1145 1027,1125 1027,1135 1027,1109 1027,1168 1027,1184 1028,1111 1028,1206 1028,1139 1028,1188 1028,1194 1028,1228 1028,1244 1028,1202 1029,1171 1029,1156 1029,1143 1029,1070 1029,1091 1029,1047 1029,1062 1029,1042 1030,1073 1030,1179 1030,1119 1030,1142 1030,1088 1030,1172 1030,1178 1031,1178 1031,1167 1031,1174 1031,1096 1031,1129 1031,1122 1031,1103 1031,1181 1032,1102 1032,1159 1032,1140 1032,1164 1032,1164 1032,1156 1032,1130 1032,1130 1033,1140 1033,1119 1033,1166 1033,1200 1033,1197 1033,1191 1033,1162 1033,1182 1034,1189 1034,1201 1034,1238 1034,1228 1034,1263 1034,1196 1034,1213 1035,1178 1035,1166 1035,1179 1035,1090 1035,1141 1035,1147 1035,1079 1035,1134 1036,1070 1036,1108 1036,1179 1036,1159 1036,1131 1036,1147 1036,1139 1036,1145 1037,1148 1037,1173 1037,1171 1037,1151 1037,1135 1037,1129 1037,1167 1037,1158 1038,1082 1038,1136 1038,1170 1038,1200 1038,1162 1038,1151 1038,1168 1038,1190 1039,1123 1039,1181 1039,1176 1039,1188 1039,1222 1039,1193 1039,1233 1040,1232 1040,1160 1040,1210 1040,1209 1040,1246 1040,1209 1040,1222 1040,1233 1041,1210 1041,1209 1041,1239 1041,1192 1041,1188 1041,1182 1041,1124 1041,1193 1042,1117 1042,1135 1042,1093 1042,1115 1042,1125 1042,1140 1042,1206 1042,1171 1043,1182 1043,1143 1043,1129 1043,1143 1043,1149 1043,1131 1043,1151 1044,1166 1044,1100 1044,1185 1044,1195 1044,1174 1044,1169 1044,1134 1044,1096 1045,1179 1045,1096 1045,1140 1045,1173 1045,1187 1045,1127 1045,1205 1045,1182 1046,1118 1046,1216 1046,1175 1046,1121 1046,1156 1046,1173 1046,1143 1046,1213 1047,1187 1047,1132 1047,1159 1047,1195 1047,1079 1047,1153 1047,1140 1048,1159 1048,1181 1048,1204 1048,1191 1048,1248 1048,1220 1048,1175 1048,1216 1049,1228 1049,1217 1049,1206 1049,1191 1049,1210 1049,1215 1049,1217 1049,1191 1050,1214 1050,1162 1050,1183 1050,1156 1050,1179 1050,1192 1050,1197 1050,1166 1051,1209 1051,1191 1051,1153 1051,1163 1051,1198 1051,1194 1051,1185 1051,1184 1052,1204 1052,1210 1052,1225 1052,1136 1052,1131 1052,1115 1052,1160 1053,1136 1053,1136 1053,1154 1053,1142 1053,1186 1053,1221 1053,1156 1053,1243 1054,1189 1054,1216 1054,1174 1054,1223 1054,1208 1054,1229 1054,1185 1054,1239 1055,1263 1055,1253 1055,1228 1055,1223 1055,1251 1055,1172 1055,1272 1055,1229 1056,1242 1056,1240 1056,1231 1056,1265 1056,1248 1056,1230 1056,1240 1057,1192 1057,1232 1057,1168 1057,1242 1057,1158 1057,1212 1057,1139 1057,1190 1058,1192 1058,1181 1058,1301 1058,1247 1058,1244 1058,1269 1058,1209 1058,1141 1059,1277 1059,1204 1059,1146 1059,1144 1059,1083 1059,1101 1059,1073 1059,1054 1060,1109 1060,1108 1060,1150 1060,1181 1060,1146 1060,1164 1060,1176 1061,1182 1061,1188 1061,1157 1061,1172 1061,1214 1061,1181 1061,1139 1061,1142 1062,1169 1062,1148 1062,1161 1062,1089 1062,1132 1062,1165 1062,1137 1062,1189 1063,1198 1063,1236 1063,1224 1063,1223 1063,1225 1063,1237 1063,1215 1063,1245 1064,1180 1064,1240 1064,1262 1064,1206 1064,1216 1064,1206 1064,1208 1064,1148 1065,1206 1065,1157 1065,1188 1065,1171 1065,1195 1065,1141 1065,1209 1066,1181 1066,1189 1066,1169 1066,1189 1066,1166 1066,1171 1066,1157 1066,1115 1067,1112 1067,1117 1067,1130 1067,1157 1067,1128 1067,1162 1067,1172 1067,1101 1068,1120 1068,1124 1068,1067 1068,1115 1068,1064 1068,1126 1068,1140 1068,1141 1069,1098 1069,1120 1069,1160 1069,1217 1069,1210 1069,1182 1069,1197 1070,1236 1070,1208 1070,1144 1070,1216 1070,1251 1070,1215 1070,1203 1070,1176 1071,1213 1071,1244 1071,1204 1071,1148 1071,1180 1071,1116 1071,1175 1071,1137 1072,1143 1072,1177 1072,1153 1072,1141 1072,1184 1072,1199 1072,1183 1072,1178 1073,1183 1073,1223 1073,1227 1073,1180 1073,1172 1073,1133 1073,1174 1074,1157 1074,1165 1074,1171 1074,1069 1074,1139 1074,1163 1074,1152 1074,1156 1075,1187 1075,1215 1075,1200 1075,1201 1075,1179 1075,1180 1075,1259 1075,1228 1076,1217 1076,1135 1076,1160 1076,1182 1076,1175 1076,1169 1076,1208 1076,1130 1077,1140 1077,1153 1077,1159 1077,1171 1077,1179 1077,1209 1077,1151 1077,1196 1078,1166 1078,1179 1078,1186 1078,1172 1078,1200 1078,1232 1078,1187 1079,1164 1079,1189 1079,1174 1079,1180 1079,1120 1079,1150 1079,1185 1079,1132 1080,1110 1080,1155 1080,1192 1080,1213 1080,1193 1080,1106 1080,1202 1080,1224 1081,1200 1081,1183 1081,1213 1081,1216 1081,1199 1081,1167 1081,1183 1081,1199 1082,1184 1082,1153 1082,1183 1082,1150 1082,1129 1082,1195 1082,1221 1083,1214 1083,1256 1083,1187 1083,1181 1083,1167 1083,1166 1083,1148 1083,1129 1084,1168 1084,1148 1084,1139 1084,1096 1084,1067 1084,1119 1084,1106 1084,1104 1085,1128 1085,1135 1085,1129 1085,1113 1085,1201 1085,1158 1085,1233 1085,1195 1086,1237 1086,1273 1086,1286 1086,1249 1086,1206 1086,1235 1086,1197 1087,1213 1087,1206 1087,1192 1087,1216 1087,1194 1087,1259 1087,1186 1087,1256 1088,1266 1088,1218 1088,1251 1088,1199 1088,1240 1088,1222 1088,1207 1088,1126 1089,1215 1089,1161 1089,1115 1089,1186 1089,1138 1089,1149 1089,1146 1089,1153 1090,1159 1090,1167 1090,1141 1090,1133 1090,1170 1090,1145 1090,1162 1090,1180 1091,1201 1091,1175 1091,1184 1091,1128 1091,1174 1091,1159 1091,1208 1092,1164 1092,1118 1092,1147 1092,1130 1092,1163 1092,1168 1092,1149 1092,1192 1093,1176 1093,1114 1093,1190 1093,1214 1093,1167 1093,1200 1093,1226 1093,1208 1094,1204 1094,1203 1094,1163 1094,1145 1094,1147 1094,1134 1094,1088 1094,1091 1095,1144 1095,1228 1095,1172 1095,1219 1095,1196 1095,1226 1095,1130 1096,1180 1096,1138 1096,1237 1096,1126 1096,1166 1096,1142 1096,1173 1096,1177 1097,1226 1097,1176 1097,1226 1097,1178 1097,1206 1097,1175 1097,1106 1097,1152 1098,1162 1098,1169 1098,1194 1098,1221 1098,1183 1098,1206 1098,1250 1098,1176 1099,1161 1099,1203 1099,1165 1099,1190 1099,1163 1099,1206 1099,1217 1100,1176 1100,1176 1100,1214 1100,1213 1100,1210 1100,1225 1100,1142 1100,1191 1101,1225 1101,1217 1101,1207 1101,1195 1101,1227 1101,1194 1101,1215 1101,1200 1102,1144 1102,1165 1102,1178 1102,1147 1102,1157 1102,1140 1102,1154 1102,1212 1103,1181 1103,1235 1103,1160 1103,1207 1103,1230 1103,1219 1103,1247 1103,1205 1104,1155 1104,1200 1104,1174 1104,1180 1104,1158 1104,1146 1104,1240 1105,1184 1105,1210 1105,1202 1105,1154 1105,1132 1105,1191 1105,1146 1105,1205 1106,1155 1106,1145 1106,1175 1106,1122 1106,1118 1106,1150 1106,1157 1106,1116 1107,1117 1107,1126 1107,1110 1107,1147 1107,1161 1107,1198 1107,1193 1107,1211 1108,1178 1108,1205 1108,1253 1108,1273 1108,1268 1108,1235 1108,1253 1109,1251 1109,1247 1109,1232 1109,1267 1109,1266 1109,1209 1109,1221 1109,1198 1110,1139 1110,1194 1110,1163 1110,1103 1110,1118 1110,1138 1110,1225 1110,1205 1111,1185 1111,1220 1111,1214 1111,1141 1111,1231 1111,1201 1111,1193 1111,1098 1112,1172 1112,1187 1112,1194 1112,1184 1112,1133 1112,1183 1112,1168 1113,1214 1113,1161 1113,1142 1113,1191 1113,1206 1113,1221 1113,1160 1113,1188 1114,1120 1114,1151 1114,1205 1114,1200 1114,1210 1114,1164 1114,1142 1114,1184 1115,1217 1115,1168 1115,1212 1115,1201 1115,1245 1115,1197 1115,1176 1115,1207 1116,1132 1116,1120 1116,1107 1116,1222 1116,1065 1116,1132 1116,1131 1116,1173 1117,1157 1117,1167 1117,1140 1117,1220 1117,1194 1117,1199 1117,1224 1118,1217 1118,1200 1118,1249 1118,1206 1118,1207 1118,1185 1118,1135 1118,1230 1119,1163 1119,1248 1119,1241 1119,1235 1119,1303 1119,1199 1119,1232 1119,1220 1120,1159 1120,1210 1120,1180 1120,1222 1120,1158 1120,1181 1120,1186 1120,1189 1121,1160 1121,1198 1121,1152 1121,1151 1121,1199 1121,1112 1121,1099 1122,1123 1122,1125 1122,1116 1122,1109 1122,1119 1122,1178 1122,1137 1122,1177 1123,1130 1123,1122 1123,1152 1123,1136 1123,1192 1123,1137 1123,1185 1123,1129 1124,1119 1124,1130 1124,1116 1124,1151 1124,1165 1124,1192 1124,1172 1124,1213 1125,1151 1125,1207 1125,1189 1125,1212 1125,1191 1125,1245 1125,1217 1126,1255 1126,1186 1126,1247 1126,1231 1126,1257 1126,1234 1126,1243 1126,1244 1127,1168 1127,1221 1127,1212 1127,1173 1127,1113 1127,1256 1127,1175 1127,1202 1128,1184 1128,1207 1128,1176 1128,1149 1128,1181 1128,1210 1128,1182 1128,1141 1129,1124 1129,1118 1129,1170 1129,1150 1129,1166 1129,1153 1129,1165 1129,1202 1130,1157 1130,1222 1130,1142 1130,1201 1130,1186 1130,1210 1130,1176 1131,1228 1131,1237 1131,1167 1131,1243 1131,1210 1131,1125 1131,1124 1131,1102 1132,1150 1132,1206 1132,1163 1132,1141 1132,1058 1132,1149 1132,1106 1132,1109 1133,1075 1133,1109 1133,1134 1133,1118 1133,1178 1133,1147 1133,1144 1133,1187 1134,1153 1134,1144 1134,1120 1134,1101 1134,1118 1134,1107 1134,1140 1135,1153 1135,1133 1135,1177 1135,1197 1135,1228 1135,1266 1135,1259 1135,1195 1136,1131 1136,1149 1136,1194 1136,1179 1136,1177 1136,1170 1136,1171 1136,1199 1137,1159 1137,1112 1137,1206 1137,1193 1137,1170 1137,1215 1137,1191 1137,1209 1138,1239 1138,1148 1138,1242 1138,1165 1138,1168 1138,1158 1138,1158 1139,1113 1139,1128 1139,1156 1139,1139 1139,1115 1139,1094 1139,1174 1139,1152 1140,1194 1140,1174 1140,1167 1140,1200 1140,1188 1140,1160 1140,1200 1140,1204 1141,1239 1141,1179 1141,1180 1141,1127 1141,1175 1141,1122 1141,1138 1141,1092 1142,1108 1142,1149 1142,1135 1142,1053 1142,1079 1142,1093 1142,1104 1142,1101 1143,1113 1143,1115 1143,1107 1143,1101 1143,1168 1143,1177 1143,1138 1144,1161 1144,1176 1144,1136 1144,1160 1144,1195 1144,1213 1144,1174 1144,1164 1145,1247 1145,1162 1145,1123 1145,1160 1145,1144 1145,1189 1145,1150 1145,1133 1146,1090 1146,1135 1146,1119 1146,1058 1146,1124 1146,1099 1146,1114 1146,1158 1147,1127 1147,1166 1147,1182 1147,1142 1147,1260 1147,1184 1147,1190 1148,1174 1148,1183 1148,1188 1148,1163 1148,1144 1148,1131 1148,1159 1148,1128 1149,1147 1149,1164 1149,1135 1149,1155 1149,1156 1149,1192 1149,1234 1149,1168 1150,1195 1150,1213 1150,1218 1150,1164 1150,1177 1150,1166 1150,1200 1150,1234 1151,1235 1151,1210 1151,1245 1151,1209 1151,1201 1151,1181 1151,1067 1152,1196 1152,1123 1152,1157 1152,1068 1152,1136 1152,1138 1152,1127 1152,1129 1153,1158 1153,1126 1153,1165 1153,1139 1153,1179 1153,1195 1153,1182 1153,1190 1154,1209 1154,1186 1154,1197 1154,1148 1154,1123 1154,1198 1154,1169 1154,1203 1155,1157 1155,1154 1155,1212 1155,1180 1155,1249 1155,1185 1155,1165 1155,1178 1156,1163 1156,1149 1156,1116 1156,1179 1156,1181 1156,1157 1156,1192 1157,1140 1157,1184 1157,1150 1157,1172 1157,1179 1157,1143 1157,1169 1157,1177 1158,1151 1158,1170 1158,1137 1158,1130 1158,1136 1158,1104 1158,1170 1158,1195 1159,1198 1159,1237 1159,1276 1159,1232 1159,1273 1159,1270 1159,1249 1159,1228 1160,1233 1160,1273 1160,1202 1160,1187 1160,1173 1160,1122 1160,1184 1161,1092 1161,1122 1161,1142 1161,1063 1161,1112 1161,1069 1161,1124 1161,1057 1162,1061 1162,1098 1162,1056 1162,1145 1162,1056 1162,1168 1162,1129 1162,1146 1163,1243 1163,1148 1163,1170 1163,1190 1163,1181 1163,1210 1163,1140 1163,1205 1164,1189 1164,1141 1164,1127 1164,1215 1164,1154 1164,1117 1164,1116 1165,1176 1165,1151 1165,1130 1165,1112 1165,1119 1165,1185 1165,1134 1165,1132 1166,1130 1166,1169 1166,1218 1166,1192 1166,1200 1166,1249 1166,1253 1166,1202 1167,1184 1167,1221 1167,1218 1167,1242 1167,1230 1167,1200 1167,1184 1167,1195 1168,1239 1168,1153 1168,1176 1168,1176 1168,1132 1168,1069 1168,1162 1168,1127 1169,1132 1169,1107 1169,1168 1169,1150 1169,1181 1169,1177 1169,1151 1170,1151 1170,1253 1170,1271 1170,1240 1170,1199 1170,1256 1170,1200 1170,1232 1171,1239 1171,1199 1171,1210 1171,1198 1171,1260 1171,1188 1171,1180 1171,1077 1172,1161 1172,1137 1172,1093 1172,1079 1172,1080 1172,1056 1172,1146 1172,1104 1173,1129 1173,1126 1173,1193 1173,1136 1173,1174 1173,1149 1173,1163 1174,1150 1174,1128 1174,1182 1174,1208 1174,1171 1174,1195 1174,1178 1174,1187 1175,1224 1175,1180 1175,1168 1175,1137 1175,1134 1175,1129 1175,1177 1175,1142 1176,1156 1176,1211 1176,1200 1176,1203 1176,1152 1176,1139 1176,1097 1176,1047 1177,1029 1177,1078 1177,1135 1177,1120 1177,1141 1177,1203 1177,1212 1178,1205 1178,1263 1178,1290 1178,1274 1178,1263 1178,1231 1178,1284 1178,1230 1179,1237 1179,1214 1179,1206 1179,1225 1179,1262 1179,1208 1179,1161 1179,1159 1180,1148 1180,1160 1180,1152 1180,1166 1180,1120 1180,1199 1180,1180 1180,1188 1181,1169 1181,1150 1181,1127 1181,1157 1181,1168 1181,1162 1181,1177 1181,1180 1182,1233 1182,1225 1182,1190 1182,1207 1182,1222 1182,1184 1182,1231 1183,1209 1183,1221 1183,1248 1183,1172 1183,1270 1183,1258 1183,1233 1183,1177 1184,1171 1184,1218 1184,1170 1184,1184 1184,1197 1184,1152 1184,1157 1184,1174 1185,1138 1185,1135 1185,1190 1185,1114 1185,1141 1185,1154 1185,1097 1185,1112 1186,1103 1186,1104 1186,1137 1186,1119 1186,1145 1186,1170 1186,1183 1187,1150 1187,1145 1187,1227 1187,1152 1187,1194 1187,1201 1187,1247 1187,1227 1188,1228 1188,1283 1188,1209 1188,1160 1188,1225 1188,1232 1188,1182 1188,1121 1189,1126 1189,1166 1189,1163 1189,1205 1189,1160 1189,1231 1189,1182 1189,1216 1190,1182 1190,1153 1190,1169 1190,1149 1190,1141 1190,1153 1190,1167 1191,1196 1191,1140 1191,1108 1191,1084 1191,1191 1191,1161 1191,1114 1191,1075 1192,1159 1192,1127 1192,1128 1192,1156 1192,1152 1192,1170 1192,1213 1192,1131 1193,1184 1193,1209 1193,1161 1193,1196 1193,1149 1193,1197 1193,1144 1193,1161 1194,1206 1194,1172 1194,1171 1194,1202 1194,1237 1194,1235 1194,1197 1194,1174 1195,1239 1195,1131 1195,1123 1195,1080 1195,1127 1195,1127 1195,1108 1196,1160 1196,1123 1196,1178 1196,1154 1196,1129 1196,1134 1196,1166 1196,1121 1197,1129 1197,1104 1197,1135 1197,1119 1197,1097 1197,1150 1197,1120 1197,1169 1198,1108 1198,1187 1198,1148 1198,1220 1198,1169 1198,1156 1198,1174 1198,1190 1199,1214 1199,1190 1199,1202 1199,1196 1199,1208 1199,1217 1199,1144 1200,1123 1200,1126 1200,1145 1200,1147 1200,1160 1200,1152 1200,1150 1200,1174 1201,1179 1201,1136 1201,1184 1201,1121 1201,1190 1201,1180 1201,1214 1201,1239 1202,1232 1202,1232 1202,1203 1202,1192 1202,1150 1202,1176 1202,1152 1202,1187 1203,1135 1203,1184 1203,1182 1203,1212 1203,1228 1203,1261 1203,1113 1204,1136 1204,1184 1204,1156 1204,1183 1204,1113 1204,1124 1204,1119 1204,1163 1205,1132 1205,1151 1205,1186 1205,1106 1205,1152 1205,1115 1205,1113 1205,1108 1206,1112 1206,1139 1206,1188 1206,1128 1206,1070 1206,1159 1206,1138 1206,1168 1207,1195 1207,1194 1207,1166 1207,1189 1207,1213 1207,1201 1207,1268 1207,1241 1208,1252 1208,1179 1208,1120 1208,1109 1208,1141 1208,1094 1208,1088 1209,1049 1209,1139 1209,1145 1209,1117 1209,1151 1209,1191 1209,1162 1209,1101 1210,1149 1210,1174 1210,1115 1210,1172 1210,1134 1210,1140 1210,1122 1210,1135 1211,1125 1211,1167 1211,1147 1211,1126 1211,1180 1211,1120 1211,1140 1211,1186 1212,1125 1212,1144 1212,1187 1212,1156 1212,1221 1212,1220 1212,1222 1213,1185 1213,1144 1213,1191 1213,1167 1213,1162 1213,1150 1213,1129 1213,1157 1214,1134 1214,1135 1214,1178 1214,1154 1214,1130 1214,1238 1214,1193 1214,1145 1215,1155 1215,1174 1215,1169 1215,1207 1215,1179 1215,1189 1215,1190 1215,1219 1216,1196 1216,1242 1216,1163 1216,1130 1216,1194 1216,1158 1216,1205 1217,1134 1217,1181 1217,1179 1217,1211 1217,1230 1217,1192 1217,1205 1217,1187 1218,1192 1218,1235 1218,1159 1218,1265 1218,1189 1218,1188 1218,1166 1218,1245 1219,1193 1219,1232 1219,1131 1219,1254 1219,1179 1219,1168 1219,1205 1219,1212 1220,1108 1220,1209 1220,1208 1220,1191 1220,1206 1220,1260 1220,1255 1220,1256 1221,1254 1221,1234 1221,1249 1221,1235 1221,1196 1221,1204 1221,1173 1222,1154 1222,1169 1222,1169 1222,1132 1222,1138 1222,1071 1222,1139 1222,1148 1223,1131 1223,1146 1223,1138 1223,1178 1223,1197 1223,1238 1223,1166 1223,1244 1224,1173 1224,1247 1224,1264 1224,1262 1224,1252 1224,1213 1224,1218 1224,1223 1225,1132 1225,1243 1225,1174 1225,1167 1225,1167 1225,1136 1225,1190 1226,1248 1226,1159 1226,1219 1226,1216 1226,1175 1226,1207 1226,1194 1226,1174 1227,1225 1227,1179 1227,1237 1227,1222 1227,1247 1227,1172 1227,1149 1227,1159 1228,1145 1228,1156 1228,1060 1228,1117 1228,1107 1228,1086 1228,1125 1228,1151 1229,1070 1229,1145 1229,1180 1229,1160 1229,1209 1229,1226 1229,1253 1230,1177 1230,1133 1230,1229 1230,1178 1230,1235 1230,1160 1230,1202 1230,1177 1231,1208 1231,1204 1231,1174 1231,1124 1231,1125 1231,1144 1231,1057 1231,1093 1232,1099 1232,1117 1232,1117 1232,1113 1232,1164 1232,1067 1232,1184 1232,1225 1233,1181 1233,1223 1233,1228 1233,1248 1233,1216 1233,1194 1233,1237 1233,1196 1234,1161 1234,1199 1234,1223 1234,1253 1234,1194 1234,1228 1234,1174 1235,1271 1235,1230 1235,1214 1235,1218 1235,1211 1235,1209 1235,1296 1235,1190 1236,1218 1236,1187 1236,1211 1236,1203 1236,1266 1236,1162 1236,1195 1236,1112 1237,1171 1237,1134 1237,1129 1237,1149 1237,1167 1237,1066 1237,1190 1237,1173 1238,1193 1238,1135 1238,1150 1238,1179 1238,1190 1238,1172 1238,1134 1239,1109 1239,1163 1239,1153 1239,1091 1239,1114 1239,1157 1239,1178 1239,1157 1240,1181 1240,1157 1240,1151 1240,1148 1240,1159 1240,1139 1240,1150 1240,1176 1241,1199 1241,1185 1241,1119 1241,1150 1241,1118 1241,1183 1241,1129 1241,1092 1242,1193 1242,1129 1242,1182 1242,1162 1242,1169 1242,1149 1242,1135 1243,1170 1243,1120 1243,1156 1243,1175 1243,1117 1243,1166 1243,1219 1243,1205 1244,1227 1244,1268 1244,1198 1244,1264 1244,1224 1244,1275 1244,1195 1244,1217 1245,1198 1245,1212 1245,1211 1245,1223 1245,1242 1245,1268 1245,1143 1245,1190 1246,1113 1246,1116 1246,1140 1246,1151 1246,1126 1246,1135 1246,1157 1246,1165 1247,1159 1247,1188 1247,1211 1247,1157 1247,1198 1247,1162 1247,1186 1248,1214 1248,1220 1248,1215 1248,1199 1248,1198 1248,1178 1248,1219 1248,1230 1249,1254 1249,1219 1249,1261 1249,1241 1249,1205 1249,1183 1249,1168 1249,1157 1250,1156 1250,1160 1250,1124 1250,1174 1250,1231 1250,1199 1250,1244 1250,1234 1251,1271 1251,1291 1251,1250 1251,1257 1251,1267 1251,1274 1251,1247 1252,1184 1252,1162 1252,1185 1252,1239 1252,1225 1252,1213 1252,1195 1252,1227 1253,1169 1253,1159 1253,1194 1253,1184 1253,1137 1253,1117 1253,1116 1253,1154 1254,1161 1254,1103 1254,1079 1254,1089 1254,1144 1254,1109 1254,1113 1254,1156 1255,1184 1255,1096 1255,1153 1255,1151 1255,1118 1255,1171 1255,1213 1256,1208 1256,1165 1256,1204 1256,1225 1256,1158 1256,1200 1256,1188 1256,1165 1257,1233 1257,1193 1257,1174 1257,1188 1257,1162 1257,1212 1257,1209 1257,1173 1258,1162 1258,1185 1258,1122 1258,1076 1258,1108 1258,1115 1258,1052 1258,1043 1259,1091 1259,1074 1259,1134 1259,1138 1259,1192 1259,1175 1259,1140 1259,1185 1260,1172 1260,1239 1260,1176 1260,1183 1260,1146 1260,1184 1260,1147 1261,1201 1261,1172 1261,1127 1261,1173 1261,1221 1261,1169 1261,1194 1261,1214 1262,1198 1262,1210 1262,1177 1262,1137 1262,1241 1262,1176 1262,1259 1262,1187 1263,1209 1263,1163 1263,1169 1263,1141 1263,1156 1263,1125 1263,1192 1263,1186 1264,1195 1264,1151 1264,1154 1264,1090 1264,1098 1264,1121 1264,1139 1265,1124 1265,1183 1265,1134 1265,1166 1265,1092 1265,1126 1265,1118 1265,1131 1266,1092 1266,1082 1266,1075 1266,1127 1266,1109 1266,1133 1266,1111 1266,1117 1267,1134 1267,1129 1267,1070 1267,1079 1267,1106 1267,1104 1267,1083 1267,1123 1268,1104 1268,1129 1268,1170 1268,1235 1268,1139 1268,1147 1268,1225 1269,1152 1269,1168 1269,1116 1269,1056 1269,1039 1269,1074 1269,1061 1269,1093 1270,1055 1270,1055 1270,1046 1270,1081 1270,1102 1270,1069 1270,1084 1270,1126 1271,1146 1271,1215 1271,1212 1271,1187 1271,1189 1271,1245 1271,1219 1271,1222 1272,1210 1272,1149 1272,1137 1272,1209 1272,1114 1272,1121 1272,1132 1272,1090 1273,1099 1273,1064 1273,1090 1273,1117 1273,1129 1273,1077 1273,1175 1274,1110 1274,1051 1274,1104 1274,1108 1274,1136 1274,1165 1274,1119 1274,1074 1275,1209 1275,1159 1275,1153 1275,1160 1275,1210 1275,1155 1275,1225 1275,1191 1276,1241 1276,1187 1276,1206 1276,1245 1276,1205 1276,1178 1276,1181 1276,1187 1277,1244 1277,1180 1277,1207 1277,1192 1277,1171 1277,1237 1277,1166 1278,1222 1278,1162 1278,1193 1278,1174 1278,1213 1278,1224 1278,1186 1278,1206 1279,1139 1279,1177 1279,1112 1279,1188 1279,1123 1279,1159 1279,1138 1279,1190 1280,1173 1280,1178 1280,1225 1280,1200 1280,1222 1280,1246 1280,1188 1280,1215 1281,1255 1281,1195 1281,1222 1281,1216 1281,1216 1281,1204 1281,1230 1282,1216 1282,1153 1282,1186 1282,1164 1282,1203 1282,1125 1282,1131 1282,1118 1283,1093 1283,1118 1283,1141 1283,1124 1283,1165 1283,1197 1283,1233 1283,1245 1284,1222 1284,1280 1284,1266 1284,1241 1284,1233 1284,1201 1284,1149 1284,1110 1285,1126 1285,1109 1285,1102 1285,1063 1285,1123 1285,1123 1285,1128 1285,1138 1286,1205 1286,1148 1286,1133 1286,1224 1286,1184 1286,1131 1286,1148 1287,1131 1287,1174 1287,1122 1287,1117 1287,1120 1287,1137 1287,1138 1287,1157 1288,1155 1288,1148 1288,1163 1288,1181 1288,1178 1288,1164 1288,1235 1288,1179 1289,1208 1289,1127 1289,1163 1289,1151 1289,1143 1289,1131 1289,1219 1289,1195 1290,1236 1290,1172 1290,1260 1290,1213 1290,1244 1290,1187 1290,1235 1291,1240 1291,1185 1291,1225 1291,1211 1291,1115 1291,1101 1291,1165 1291,1149 1292,1075 1292,1133 1292,1156 1292,1155 1292,1142 1292,1132 1292,1125 1292,1107 1293,1065 1293,1070 1293,1083 1293,1071 1293,1086 1293,1142 1293,1212 1293,1159 1294,1127 1294,1228 1294,1167 1294,1204 1294,1143 1294,1249 1294,1223 1295,1212 1295,1221 1295,1200 1295,1172 1295,1235 1295,1236 1295,1145 1295,1179 1296,1229 1296,1256 1296,1156 1296,1166 1296,1116 1296,1150 1296,1106 1296,1090 1297,1162 1297,1142 1297,1119 1297,1111 1297,1118 1297,1081 1297,1110 1297,1107 1298,1178 1298,1230 1298,1189 1298,1203 1298,1188 1298,1199 1298,1206 1298,1163 1299,1174 1299,1177 1299,1154 1299,1188 1299,1108 1299,1153 1299,1233 1300,1254 1300,1202 1300,1212 1300,1216 1300,1225 1300,1222 1300,1131 1300,1169 1301,1182 1301,1205 1301,1206 1301,1201 1301,1180 1301,1213 1301,1188 1301,1176 1302,1224 1302,1254 1302,1170 1302,1232 1302,1205 1302,1157 1302,1170 1302,1175 1303,1175 1303,1201 1303,1179 1303,1167 1303,1158 1303,1219 1303,1181 1304,1151 1304,1167 1304,1140 1304,1181 1304,1166 1304,1098 1304,1094 1304,1124 1305,1153 1305,1108 1305,1154 1305,1134 1305,1078 1305,1114 1305,1124 1305,1144 1306,1189 1306,1101 1306,1119 1306,1092 1306,1156 1306,1118 1306,1099 1306,1090 1307,1142 1307,1177 1307,1136 1307,1136 1307,1123 1307,1148 1307,1137 1308,1174 1308,1211 1308,1169 1308,1193 1308,1184 1308,1160 1308,1164 1308,1185 1309,1167 1309,1159 1309,1205 1309,1262 1309,1223 1309,1238 1309,1230 1309,1312 1310,1277 1310,1246 1310,1215 1310,1219 1310,1219 1310,1217 1310,1212 1310,1221 1311,1225 1311,1198 1311,1182 1311,1193 1311,1205 1311,1179 1311,1114 1311,1159 1312,1184 1312,1165 1312,1214 1312,1215 1312,1169 1312,1160 1312,1196 1313,1196 1313,1124 1313,1145 1313,1109 1313,1172 1313,1152 1313,1157 1313,1190 1314,1217 1314,1118 1314,1142 1314,1141 1314,1130 1314,1130 1314,1115 1314,1147 1315,1074 1315,1123 1315,1153 1315,1184 1315,1153 1315,1145 1315,1205 1315,1198 1316,1225 1316,1222 1316,1100 1316,1156 1316,1125 1316,1068 1316,1090 1317,1060 1317,1142 1317,1046 1317,1092 1317,1054 1317,1103 1317,1097 1317,1079 1318,1100 1318,1119 1318,1110 1318,1149 1318,1163 1318,1162 1318,1189 1318,1180 1319,1131 1319,1179 1319,1168 1319,1177 1319,1181 1319,1178 1319,1112 1319,1103 1320,1171 1320,1118 1320,1120 1320,1116 1320,1148 1320,1126 1320,1127 1321,1222 1321,1097 1321,1142 1321,1128 1321,1102 1321,1123 1321,1164 1321,1107 1322,1097 1322,1130 1322,1125 1322,1207 1322,1111 1322,1108 1322,1150 1322,1145 1323,1134 1323,1172 1323,1132 1323,1197 1323,1157 1323,1199 1323,1153 1323,1187 1324,1145 1324,1139 1324,1181 1324,1125 1324,1126 1324,1134 1324,1147 1324,1110 1325,1147 1325,1135 1325,1159 1325,1174 1325,1189 1325,1166 1325,1186 1326,1182 1326,1174 1326,1157 1326,1224 1326,1193 1326,1178 1326,1156 1326,1191 1327,1207 1327,1185 1327,1195 1327,1143 1327,1188 1327,1142 1327,1173 1327,1256 1328,1197 1328,1191 1328,1193 1328,1170 1328,1228 1328,1211 1328,1213 1328,1164 1329,1188 1329,1175 1329,1172 1329,1154 1329,1189 1329,1119 1329,1196 1330,1219 1330,1179 1330,1161 1330,1240 1330,1195 1330,1204 1330,1246 1330,1247 1331,1191 1331,1232 1331,1227 1331,1242 1331,1216 1331,1232 1331,1169 1331,1182 1332,1162 1332,1167 1332,1204 1332,1080 1332,1168 1332,1141 1332,1168 1332,1141 1333,1163 1333,1123 1333,1087 1333,1142 1333,1127 1333,1114 1333,1131 1334,1113 1334,1101 1334,1204 1334,1129 1334,1192 1334,1188 1334,1218 1334,1142 1335,1188 1335,1167 1335,1179 1335,1174 1335,1169 1335,1155 1335,1150 1335,1224 1336,1255 1336,1202 1336,1218 1336,1230 1336,1180 1336,1257 1336,1274 1336,1205 1337,1207 1337,1234 1337,1244 1337,1223 1337,1188 1337,1193 1337,1173 1337,1178 1338,1137 1338,1166 1338,1165 1338,1189 1338,1123 1338,1178 1338,1191 1339,1115 1339,1159 1339,1111 1339,1118 1339,1141 1339,1101 1339,1144 1339,1086 1340,1197 1340,1192 1340,1234 1340,1155 1340,1223 1340,1205 1340,1187 1340,1266 1341,1205 1341,1188 1341,1186 1341,1209 1341,1202 1341,1255 1341,1224 1341,1215 1342,1176 1342,1215 1342,1180 1342,1207 1342,1157 1342,1115 1342,1140 1343,1143 1343,1195 1343,1193 1343,1151 1343,1170 1343,1102 1343,1156 1343,1167 1344,1171 1344,1167 1344,1180 1344,1225 1344,1180 1344,1180 1344,1223 1344,1204 1345,1206 1345,1191 1345,1174 1345,1212 1345,1180 1345,1219 1345,1140 1345,1161 1346,1154 1346,1178 1346,1158 1346,1230 1346,1186 1346,1187 1346,1193 1347,1201 1347,1111 1347,1126 1347,1121 1347,1132 1347,1056 1347,1115 1347,1154 1348,1090 1348,1084 1348,1159 1348,1077 1348,1122 1348,1092 1348,1159 1348,1110 1349,1183 1349,1182 1349,1163 1349,1177 1349,1204 1349,1199 1349,1218 1349,1224 1350,1220 1350,1220 1350,1171 1350,1218 1350,1160 1350,1148 1350,1135 1350,1157 1351,1181 1351,1207 1351,1155 1351,1193 1351,1215 1351,1241 1351,1175 1352,1164 1352,1166 1352,1200 1352,1139 1352,1135 1352,1194 1352,1133 1352,1127 1353,1155 1353,1187 1353,1115 1353,1199 1353,1155 1353,1146 1353,1162 1353,1245 1354,1183 1354,1169 1354,1177 1354,1120 1354,1162 1354,1119 1354,1160 1354,1252 1355,1218 1355,1137 1355,1234 1355,1150 1355,1157 1355,1127 1355,1138 1356,1165 1356,1141 1356,1148 1356,1139 1356,1193 1356,1149 1356,1098 1356,1152 1357,1150 1357,1125 1357,1094 1357,1148 1357,1145 1357,1092 1357,1108 1357,1117 1358,1123 1358,1179 1358,1162 1358,1140 1358,1124 1358,1155 1358,1140 1358,1148 1359,1182 1359,1199 1359,1140 1359,1190 1359,1200 1359,1181 1359,1228 1360,1201 1360,1206 1360,1139 1360,1181 1360,1165 1360,1154 1360,1153 1360,1127 1361,1171 1361,1157 1361,1210 1361,1209 1361,1187 1361,1208 1361,1186 1361,1200 1362,1168 1362,1184 1362,1201 1362,1191 1362,1202 1362,1188 1362,1190 1362,1249 1363,1185 1363,1225 1363,1236 1363,1219 1363,1215 1363,1262 1363,1262 1363,1297 1364,1244 1364,1251 1364,1241 1364,1238 1364,1208 1364,1245 1364,1178 1365,1115 1365,1194 1365,1156 1365,1256 1365,1173 1365,1196 1365,1153 1365,1200 1366,1166 1366,1152 1366,1120 1366,1102 1366,1134 1366,1136 1366,1147 1366,1123 1367,1183 1367,1168 1367,1213 1367,1223 1367,1240 1367,1226 1367,1252 1367,1226 1368,1197 1368,1175 1368,1127 1368,1144 1368,1112 1368,1077 1368,1120 1369,1138 1369,1143 1369,1061 1369,1170 1369,1120 1369,1142 1369,1105 1369,1145 1370,1165 1370,1194 1370,1200 1370,1178 1370,1196 1370,1128 1370,1194 1370,1124 1371,1176 1371,1127 1371,1152 1371,1171 1371,1135 1371,1130 1371,1104 1371,1188 1372,1147 1372,1119 1372,1121 1372,1197 1372,1133 1372,1119 1372,1104 1373,1108 1373,1135 1373,1158 1373,1143 1373,1181 1373,1104 1373,1134 1373,1132 1374,1107 1374,1156 1374,1208 1374,1230 1374,1232 1374,1199 1374,1210 1374,1186 1375,1202 1375,1141 1375,1215 1375,1173 1375,1081 1375,1126 1375,1132 1375,1160 1376,1163 1376,1201 1376,1213 1376,1150 1376,1221 1376,1148 1376,1235 1376,1168 1377,1154 1377,1162 1377,1164 1377,1121 1377,1101 1377,1143 1377,1101 1378,1135 1378,1109 1378,1090 1378,1031 1378,1063 1378,1110 1378,1081 1378,1144 1379,1129 1379,1079 1379,1111 1379,1097 1379,1118 1379,1180 1379,1133 1379,1102 1380,1150 1380,1126 1380,1135 1380,1152 1380,1178 1380,1086 1380,1155 1380,1118 1381,1183 1381,1139 1381,1207 1381,1149 1381,1183 1381,1191 1381,1162 1382,1150 1382,1113 1382,1161 1382,1147 1382,1206 1382,1187 1382,1168 1382,1161 1383,1165 1383,1169 1383,1204 1383,1139 1383,1133 1383,1172 1383,1176 1383,1158 1384,1153 1384,1168 1384,1213 1384,1224 1384,1242 1384,1202 1384,1184 1384,1144 1385,1219 1385,1247 1385,1225 1385,1216 1385,1230 1385,1200 1385,1210 1386,1139 1386,1176 1386,1138 1386,1126 1386,1192 1386,1186 1386,1163 1386,1175 1387,1210 1387,1174 1387,1156 1387,1172 1387,1187 1387,1127 1387,1183 1387,1187 1388,1152 1388,1177 1388,1237 1388,1190 1388,1131 1388,1220 1388,1180 1388,1263 1389,1212 1389,1185 1389,1169 1389,1107 1389,1156 1389,1175 1389,1120 1389,1180 1390,1177 1390,1167 1390,1198 1390,1237 1390,1189 1390,1223 1390,1212 1391,1194 1391,1221 1391,1193 1391,1179 1391,1138 1391,1201 1391,1195 1391,1155 1392,1179 1392,1183 1392,1148 1392,1170 1392,1149 1392,1137 1392,1152 1392,1151 1393,1104 1393,1199 1393,1151 1393,1158 1393,1121 1393,1148 1393,1147 1393,1137 1394,1151 1394,1207 1394,1206 1394,1186 1394,1173 1394,1211 1394,1216 1395,1189 1395,1155 1395,1180 1395,1148 1395,1130 1395,1148 1395,1169 1395,1172 1396,1199 1396,1129 1396,1211 1396,1213 1396,1187 1396,1174 1396,1160 1396,1081 1397,1077 1397,1128 1397,1093 1397,1090 1397,1159 1397,1112 1397,1110 1397,1125 1398,1160 1398,1142 1398,1233 1398,1192 1398,1129 1398,1205 1398,1179 1399,1100 1399,1155 1399,1151 1399,1070 1399,1071 1399,1052 1399,1095 1399,1107 1400,1178 1400,1147 1400,1104 1400,1132 1400,1170 1400,1171 1400,1109 1400,1158 1401,1169 1401,1144 1401,1148 1401,1169 1401,1203 1401,1123 1401,1148 1401,1192 1402,1087 1402,1127 1402,1195 1402,1150 1402,1192 1402,1188 1402,1196 1402,1188 1403,1193 1403,1111 1403,1136 1403,1223 1403,1139 1403,1173 1403,1179 1404,1178 1404,1149 1404,1212 1404,1164 1404,1206 1404,1177 1404,1227 1404,1206 1405,1286 1405,1223 1405,1209 1405,1224 1405,1166 1405,1125 1405,1207 1405,1204 1406,1150 1406,1181 1406,1125 1406,1178 1406,1161 1406,1237 1406,1187 1406,1194 1407,1162 1407,1147 1407,1188 1407,1206 1407,1219 1407,1150 1407,1214 1408,1166 1408,1207 1408,1190 1408,1211 1408,1195 1408,1223 1408,1225 1408,1153 1409,1176 1409,1235 1409,1216 1409,1205 1409,1216 1409,1177 1409,1152 1409,1144 1410,1190 1410,1198 1410,1131 1410,1124 1410,1130 1410,1159 1410,1192 1410,1197 1411,1217 1411,1188 1411,1224 1411,1221 1411,1237 1411,1198 1411,1179 1412,1217 1412,1211 1412,1185 1412,1166 1412,1136 1412,1150 1412,1135 1412,1062 1413,1074 1413,1031 1413,1140 1413,1126 1413,1156 1413,1162 1413,1207 1413,1215 1414,1176 1414,1179 1414,1180 1414,1161 1414,1192 1414,1177 1414,1146 1414,1154 1415,1182 1415,1081 1415,1136 1415,1186 1415,1224 1415,1250 1415,1218 1415,1176 1416,1215 1416,1159 1416,1180 1416,1186 1416,1192 1416,1183 1416,1235 1417,1216 1417,1177 1417,1213 1417,1219 1417,1222 1417,1165 1417,1171 1417,1205 1418,1138 1418,1183 1418,1161 1418,1177 1418,1166 1418,1171 1418,1170 1418,1157 1419,1146 1419,1154 1419,1128 1419,1180 1419,1153 1419,1194 1419,1090 1419,1162 1420,1150 1420,1105 1420,1135 1420,1140 1420,1110 1420,1092 1420,1103 1421,1108 1421,1152 1421,1137 1421,1194 1421,1164 1421,1169 1421,1126 1421,1200 1422,1119 1422,1138 1422,1159 1422,1155 1143,1330 627,1341 957,1012 1017,1013 957,1022 1017,1022 238,1320 1241,1320 791,1324"/></g>
<clipPath id="c3"><rect x="169" y="1511" width="541" height="450"/></clipPath><clipPath id="c4"><rect x="853" y="1511" width="541" height="450"/></clipPath>
<g clip-path="url(#c3)"><circle cx="233.6" cy="1619.3" r="6.3"/><circle cx="274.3" cy="1656.5" r="6.3"/><circle cx="314.9" cy="1683.6" r="6.3"/><circle cx="355.5" cy="1708.5" r="6.3"/><circle cx="396.2" cy="1733.4" r="6.3"/><circle cx="436.8" cy="1758.4" r="6.3"/><circle cx="477.4" cy="1776.3" r="6.3"/><circle cx="518.1" cy="1800.1" r="6.3"/><circle cx="558.7" cy="1826.3" r="6.3"/><circle cx="599.4" cy="1855.8" r="6.3"/><circle cx="640.0" cy="1866.0" r="6.3"/><circle cx="680.6" cy="1869.9" r="6.3"/><circle cx="338.7" cy="1961.3" r="4.5"/><circle cx="379.3" cy="1961.3" r="4.5"/><circle cx="443.7" cy="1961.3" r="4.5"/><circle cx="484.4" cy="1961.3" r="4.5"/><circle cx="525.0" cy="1961.3" r="4.5"/><circle cx="565.6" cy="1961.3" r="4.5"/><circle cx="630.0" cy="1961.3" r="4.5"/><circle cx="679.7" cy="1961.3" r="4.5"/></g>
<g clip-path="url(#c4)"><circle cx="945.5" cy="1958.5" r="6.1"/><circle cx="983.7" cy="1948.6" r="6.1"/><circle cx="1022.0" cy="1926.9" r="6.1"/><circle cx="1060.3" cy="1902.4" r="6.1"/><circle cx="1098.6" cy="1878.2" r="6.1"/><circle cx="1136.8" cy="1853.6" r="6.1"/><circle cx="1175.1" cy="1821.2" r="6.1"/><circle cx="1213.4" cy="1795.8" r="6.1"/><circle cx="1251.7" cy="1773.0" r="6.1"/><circle cx="1289.9" cy="1754.3" r="6.1"/><circle cx="1328.2" cy="1712.4" r="6.1"/><circle cx="1366.5" cy="1662.9" r="6.1"/><circle cx="1044.4" cy="1961" r="6.1"/><circle cx="1082.7" cy="1961" r="6.1"/><circle cx="1143.3" cy="1961" r="6.1"/><circle cx="1181.6" cy="1961" r="6.1"/><circle cx="1219.9" cy="1961" r="6.1"/><circle cx="1258.2" cy="1961" r="6.1"/><circle cx="1318.8" cy="1961" r="6.1"/><circle cx="1365.6" cy="1961" r="6.1"/></g>
<g shape-rendering="crispEdges" fill="#000">
<rect x="162" y="125" width="1" height="721"/>
<rect x="1422" y="125" width="1" height="721"/>
<rect x="162" y="125" width="1261" height="1"/>
<rect x="162" y="845" width="1261" height="1"/>
<rect x="161" y="118" width="2" height="8"/>
<rect x="161" y="844" width="2" height="8"/>
<rect x="198" y="118" width="2" height="8"/>
<rect x="198" y="844" width="2" height="8"/>
<rect x="235" y="118" width="2" height="8"/>
<rect x="235" y="844" width="2" height="8"/>
<rect x="272" y="111" width="2" height="15"/>
<rect x="272" y="844" width="2" height="15"/>
<rect x="309" y="118" width="2" height="8"/>
<rect x="309" y="844" width="2" height="8"/>
<rect x="346" y="118" width="2" height="8"/>
<rect x="346" y="844" width="2" height="8"/>
<rect x="383" y="118" width="2" height="8"/>
<rect x="383" y="844" width="2" height="8"/>
<rect x="420" y="118" width="2" height="8"/>
<rect x="420" y="844" width="2" height="8"/>
<rect x="457" y="111" width="2" height="15"/>
<rect x="457" y="844" width="2" height="15"/>
<rect x="495" y="118" width="2" height="8"/>
<rect x="495" y="844" width="2" height="8"/>
<rect x="532" y="118" width="2" height="8"/>
<rect x="532" y="844" width="2" height="8"/>
<rect x="569" y="118" width="2" height="8"/>
<rect x="569" y="844" width="2" height="8"/>
<rect x="606" y="118" width="2" height="8"/>
<rect x="606" y="844" width="2" height="8"/>
<rect x="643" y="111" width="2" height="15"/>
<rect x="643" y="844" width="2" height="15"/>
<rect x="680" y="118" width="2" height="8"/>
<rect x="680" y="844" width="2" height="8"/>
<rect x="717" y="118" width="2" height="8"/>
<rect x="717" y="844" width="2" height="8"/>
<rect x="754" y="118" width="2" height="8"/>
<rect x="754" y="844" width="2" height="8"/>
<rect x="791" y="118" width="2" height="8"/>
<rect x="791" y="844" width="2" height="8"/>
<rect x="828" y="111" width="2" height="15"/>
<rect x="828" y="844" width="2" height="15"/>
<rect x="865" y="118" width="2" height="8"/>
<rect x="865" y="844" width="2" height="8"/>
<rect x="902" y="118" width="2" height="8"/>
<rect x="902" y="844" width="2" height="8"/>
<rect x="939" y="118" width="2" height="8"/>
<rect x="939" y="844" width="2" height="8"/>
<rect x="976" y="118" width="2" height="8"/>
<rect x="976" y="844" width="2" height="8"/>
<rect x="1013" y="111" width="2" height="15"/>
<rect x="1013" y="844" width="2" height="15"/>
<rect x="1050" y="118" width="2" height="8"/>
<rect x="1050" y="844" width="2" height="8"/>
<rect x="1087" y="118" width="2" height="8"/>
<rect x="1087" y="844" width="2" height="8"/>
<rect x="1125" y="118" width="2" height="8"/>
<rect x="1125" y="844" width="2" height="8"/>
<rect x="1162" y="118" width="2" height="8"/>
<rect x="1162" y="844" width="2" height="8"/>
<rect x="1199" y="111" width="2" height="15"/>
<rect x="1199" y="844" width="2" height="15"/>
<rect x="1236" y="118" width="2" height="8"/>
<rect x="1236" y="844" width="2" height="8"/>
<rect x="1273" y="118" width="2" height="8"/>
<rect x="1273" y="844" width="2" height="8"/>
<rect x="1310" y="118" width="2" height="8"/>
<rect x="1310" y="844" width="2" height="8"/>
<rect x="1347" y="118" width="2" height="8"/>
<rect x="1347" y="844" width="2" height="8"/>
<rect x="1384" y="111" width="2" height="15"/>
<rect x="1384" y="844" width="2" height="15"/>
<rect x="1421" y="118" width="2" height="8"/>
<rect x="1421" y="844" width="2" height="8"/>
<rect x="148" y="124" width="15" height="2"/>
<rect x="1421" y="124" width="15" height="2"/>
<rect x="148" y="238" width="15" height="2"/>
<rect x="1421" y="238" width="15" height="2"/>
<rect x="148" y="353" width="15" height="2"/>
<rect x="1421" y="353" width="15" height="2"/>
<rect x="148" y="467" width="15" height="2"/>
<rect x="1421" y="467" width="15" height="2"/>
<rect x="148" y="581" width="15" height="2"/>
<rect x="1421" y="581" width="15" height="2"/>
<rect x="148" y="695" width="15" height="3"/>
<rect x="1421" y="695" width="15" height="3"/>
<rect x="148" y="810" width="15" height="2"/>
<rect x="1421" y="810" width="15" height="2"/>
<rect x="162" y="953" width="1" height="451"/>
<rect x="1422" y="953" width="1" height="451"/>
<rect x="162" y="953" width="1261" height="1"/>
<rect x="162" y="1403" width="1261" height="1"/>
<rect x="161" y="946" width="2" height="8"/>
<rect x="161" y="1402" width="2" height="8"/>
<rect x="198" y="946" width="2" height="8"/>
<rect x="198" y="1402" width="2" height="8"/>
<rect x="235" y="946" width="2" height="8"/>
<rect x="235" y="1402" width="2" height="8"/>
<rect x="272" y="939" width="2" height="15"/>
<rect x="272" y="1402" width="2" height="15"/>
<rect x="309" y="946" width="2" height="8"/>
<rect x="309" y="1402" width="2" height="8"/>
<rect x="346" y="946" width="2" height="8"/>
<rect x="346" y="1402" width="2" height="8"/>
<rect x="383" y="946" width="2" height="8"/>
<rect x="383" y="1402" width="2" height="8"/>
<rect x="420" y="946" width="2" height="8"/>
<rect x="420" y="1402" width="2" height="8"/>
<rect x="457" y="939" width="2" height="15"/>
<rect x="457" y="1402" width="2" height="15"/>
<rect x="495" y="946" width="2" height="8"/>
<rect x="495" y="1402" width="2" height="8"/>
<rect x="532" y="946" width="2" height="8"/>
<rect x="532" y="1402" width="2" height="8"/>
<rect x="569" y="946" width="2" height="8"/>
<rect x="569" y="1402" width="2" height="8"/>
<rect x="606" y="946" width="2" height="8"/>
<rect x="606" y="1402" width="2" height="8"/>
<rect x="643" y="939" width="2" height="15"/>
<rect x="643" y="1402" width="2" height="15"/>
<rect x="680" y="946" width="2" height="8"/>
<rect x="680" y="1402" width="2" height="8"/>
<rect x="717" y="946" width="2" height="8"/>
<rect x="717" y="1402" width="2" height="8"/>
<rect x="754" y="946" width="2" height="8"/>
<rect x="754" y="1402" width="2" height="8"/>
<rect x="791" y="946" width="2" height="8"/>
<rect x="791" y="1402" width="2" height="8"/>
<rect x="828" y="939" width="2" height="15"/>
<rect x="828" y="1402" width="2" height="15"/>
<rect x="865" y="946" width="2" height="8"/>
<rect x="865" y="1402" width="2" height="8"/>
<rect x="902" y="946" width="2" height="8"/>
<rect x="902" y="1402" width="2" height="8"/>
<rect x="939" y="946" width="2" height="8"/>
<rect x="939" y="1402" width="2" height="8"/>
<rect x="976" y="946" width="2" height="8"/>
<rect x="976" y="1402" width="2" height="8"/>
<rect x="1013" y="939" width="2" height="15"/>
<rect x="1013" y="1402" width="2" height="15"/>
<rect x="1050" y="946" width="2" height="8"/>
<rect x="1050" y="1402" width="2" height="8"/>
<rect x="1087" y="946" width="2" height="8"/>
<rect x="1087" y="1402" width="2" height="8"/>
<rect x="1125" y="946" width="2" height="8"/>
<rect x="1125" y="1402" width="2" height="8"/>
<rect x="1162" y="946" width="2" height="8"/>
<rect x="1162" y="1402" width="2" height="8"/>
<rect x="1199" y="939" width="2" height="15"/>
<rect x="1199" y="1402" width="2" height="15"/>
<rect x="1236" y="946" width="2" height="8"/>
<rect x="1236" y="1402" width="2" height="8"/>
<rect x="1273" y="946" width="2" height="8"/>
<rect x="1273" y="1402" width="2" height="8"/>
<rect x="1310" y="946" width="2" height="8"/>
<rect x="1310" y="1402" width="2" height="8"/>
<rect x="1347" y="946" width="2" height="8"/>
<rect x="1347" y="1402" width="2" height="8"/>
<rect x="1384" y="939" width="2" height="15"/>
<rect x="1384" y="1402" width="2" height="15"/>
<rect x="1421" y="946" width="2" height="8"/>
<rect x="1421" y="1402" width="2" height="8"/>
<rect x="148" y="989" width="15" height="2"/>
<rect x="1421" y="989" width="15" height="2"/>
<rect x="148" y="1049" width="15" height="2"/>
<rect x="1421" y="1049" width="15" height="2"/>
<rect x="148" y="1110" width="15" height="2"/>
<rect x="1421" y="1110" width="15" height="2"/>
<rect x="148" y="1170" width="15" height="2"/>
<rect x="1421" y="1170" width="15" height="2"/>
<rect x="148" y="1230" width="15" height="3"/>
<rect x="1421" y="1230" width="15" height="3"/>
<rect x="148" y="1291" width="15" height="2"/>
<rect x="1421" y="1291" width="15" height="2"/>
<rect x="148" y="1351" width="15" height="3"/>
<rect x="1421" y="1351" width="15" height="3"/>
<rect x="169" y="1511" width="1" height="451"/>
<rect x="709" y="1511" width="1" height="451"/>
<rect x="169" y="1511" width="541" height="1"/>
<rect x="169" y="1961" width="541" height="1"/>
<rect x="168" y="1497" width="2" height="15"/>
<rect x="168" y="1960" width="2" height="15"/>
<rect x="236" y="1504" width="2" height="8"/>
<rect x="236" y="1960" width="2" height="8"/>
<rect x="303" y="1497" width="2" height="15"/>
<rect x="303" y="1960" width="2" height="15"/>
<rect x="371" y="1504" width="2" height="8"/>
<rect x="371" y="1960" width="2" height="8"/>
<rect x="438" y="1497" width="2" height="15"/>
<rect x="438" y="1960" width="2" height="15"/>
<rect x="506" y="1504" width="2" height="8"/>
<rect x="506" y="1960" width="2" height="8"/>
<rect x="573" y="1497" width="2" height="15"/>
<rect x="573" y="1960" width="2" height="15"/>
<rect x="641" y="1504" width="2" height="8"/>
<rect x="641" y="1960" width="2" height="8"/>
<rect x="708" y="1497" width="2" height="15"/>
<rect x="708" y="1960" width="2" height="15"/>
<rect x="156" y="1585" width="14" height="2"/>
<rect x="708" y="1585" width="15" height="2"/>
<rect x="156" y="1735" width="14" height="2"/>
<rect x="708" y="1735" width="15" height="2"/>
<rect x="156" y="1885" width="14" height="2"/>
<rect x="708" y="1885" width="15" height="2"/>
<rect x="162" y="1510" width="8" height="2"/>
<rect x="708" y="1510" width="8" height="2"/>
<rect x="162" y="1660" width="8" height="2"/>
<rect x="708" y="1660" width="8" height="2"/>
<rect x="162" y="1810" width="8" height="2"/>
<rect x="708" y="1810" width="8" height="2"/>
<rect x="162" y="1960" width="8" height="2"/>
<rect x="708" y="1960" width="8" height="2"/>
<rect x="853" y="1511" width="1" height="451"/>
<rect x="1393" y="1511" width="1" height="451"/>
<rect x="853" y="1511" width="541" height="1"/>
<rect x="853" y="1961" width="541" height="1"/>
<rect x="884" y="1497" width="2" height="15"/>
<rect x="884" y="1960" width="2" height="15"/>
<rect x="947" y="1504" width="2" height="8"/>
<rect x="947" y="1960" width="2" height="8"/>
<rect x="1011" y="1497" width="2" height="15"/>
<rect x="1011" y="1960" width="2" height="15"/>
<rect x="1075" y="1504" width="2" height="8"/>
<rect x="1075" y="1960" width="2" height="8"/>
<rect x="1138" y="1497" width="2" height="15"/>
<rect x="1138" y="1960" width="2" height="15"/>
<rect x="1202" y="1504" width="2" height="8"/>
<rect x="1202" y="1960" width="2" height="8"/>
<rect x="1265" y="1497" width="2" height="15"/>
<rect x="1265" y="1960" width="2" height="15"/>
<rect x="1329" y="1504" width="2" height="8"/>
<rect x="1329" y="1960" width="2" height="8"/>
<rect x="1392" y="1497" width="2" height="15"/>
<rect x="1392" y="1960" width="2" height="15"/>
<rect x="840" y="1600" width="14" height="2"/>
<rect x="1392" y="1600" width="15" height="2"/>
<rect x="840" y="1780" width="14" height="2"/>
<rect x="1392" y="1780" width="15" height="2"/>
<rect x="840" y="1960" width="14" height="2"/>
<rect x="1392" y="1960" width="15" height="2"/>
<rect x="846" y="1510" width="8" height="2"/>
<rect x="1392" y="1510" width="8" height="2"/>
<rect x="846" y="1690" width="8" height="2"/>
<rect x="1392" y="1690" width="8" height="2"/>
<rect x="846" y="1870" width="8" height="2"/>
<rect x="1392" y="1870" width="8" height="2"/>
</g>
<g>
<text font-size="30" text-anchor="middle" transform="translate(273.2 891.5) scale(1 1.05)">61040</text>
<text font-size="30" text-anchor="middle" transform="translate(458.5 891.5) scale(1 1.05)">61045</text>
<text font-size="30" text-anchor="middle" transform="translate(643.8 891.5) scale(1 1.05)">61050</text>
<text font-size="30" text-anchor="middle" transform="translate(829.1 891.5) scale(1 1.05)">61055</text>
<text font-size="30" text-anchor="middle" transform="translate(1014.4 891.5) scale(1 1.05)">61060</text>
<text font-size="30" text-anchor="middle" transform="translate(1199.7 891.5) scale(1 1.05)">61065</text>
<text font-size="30" text-anchor="middle" transform="translate(1385.0 891.5) scale(1 1.05)">61070</text>
<text font-size="30" text-anchor="end" transform="translate(137.0 136.0) scale(1 1.05)">30</text>
<text font-size="30" text-anchor="end" transform="translate(137.0 250.3) scale(1 1.05)">20</text>
<text font-size="30" text-anchor="end" transform="translate(137.0 364.7) scale(1 1.05)">10</text>
<text font-size="30" text-anchor="end" transform="translate(137.0 479.0) scale(1 1.05)">0</text>
<text font-size="30" text-anchor="end" transform="translate(137.0 593.3) scale(1 1.05)"><tspan dy="2.3">−</tspan><tspan dy="-2.3">10</tspan></text>
<text font-size="30" text-anchor="end" transform="translate(137.0 707.6) scale(1 1.05)"><tspan dy="2.3">−</tspan><tspan dy="-2.3">20</tspan></text>
<text font-size="30" text-anchor="end" transform="translate(137.0 822.0) scale(1 1.05)"><tspan dy="2.3">−</tspan><tspan dy="-2.3">30</tspan></text>
<text font-size="30" text-anchor="middle" font-weight="bold" transform="translate(792.0 922.3) scale(1 1.06)">Modified Julian Date</text>
<text font-size="30" text-anchor="middle" transform="translate(273.2 1449.5) scale(1 1.05)">61040</text>
<text font-size="30" text-anchor="middle" transform="translate(458.5 1449.5) scale(1 1.05)">61045</text>
<text font-size="30" text-anchor="middle" transform="translate(643.8 1449.5) scale(1 1.05)">61050</text>
<text font-size="30" text-anchor="middle" transform="translate(829.1 1449.5) scale(1 1.05)">61055</text>
<text font-size="30" text-anchor="middle" transform="translate(1014.4 1449.5) scale(1 1.05)">61060</text>
<text font-size="30" text-anchor="middle" transform="translate(1199.7 1449.5) scale(1 1.05)">61065</text>
<text font-size="30" text-anchor="middle" transform="translate(1385.0 1449.5) scale(1 1.05)">61070</text>
<text font-size="30" text-anchor="end" transform="translate(137.0 1001.0) scale(1 1.05)">1.2</text>
<text font-size="30" text-anchor="end" transform="translate(137.0 1061.4) scale(1 1.05)">0.8</text>
<text font-size="30" text-anchor="end" transform="translate(137.0 1121.8) scale(1 1.05)">0.4</text>
<text font-size="30" text-anchor="end" transform="translate(137.0 1182.2) scale(1 1.05)">0.0</text>
<text font-size="30" text-anchor="end" transform="translate(137.0 1242.7) scale(1 1.05)"><tspan dy="2.3">−</tspan><tspan dy="-2.3">0.4</tspan></text>
<text font-size="30" text-anchor="end" transform="translate(137.0 1303.1) scale(1 1.05)"><tspan dy="2.3">−</tspan><tspan dy="-2.3">0.8</tspan></text>
<text font-size="30" text-anchor="end" transform="translate(137.0 1363.5) scale(1 1.05)"><tspan dy="2.3">−</tspan><tspan dy="-2.3">1.2</tspan></text>
<text font-size="30" text-anchor="middle" font-weight="bold" transform="translate(792.0 1480.3) scale(1 1.06)">Modified Julian Date</text>
<text font-size="35" text-anchor="middle" transform="translate(792.0 78.3) scale(1 1.03)">UTC(INPL)-UTC(PTB)  /GPSPPP  (IL06,PT13)</text>
<text font-size="30" text-anchor="middle" font-weight="bold" transform="translate(76.0 485.0) rotate(-90) scale(1 1.06)">nanosecond</text>
<text font-size="30" text-anchor="middle" font-weight="bold" transform="translate(68.4 1178.0) rotate(-90) scale(1 1.06)">residuals (ns)</text>
<text font-size="30" font-weight="bold" fill="#6b8e23" transform="translate(199.5 183.5) scale(1 1.06)">UTC link</text>
<text font-size="30" font-weight="bold" transform="translate(199.5 809.0) scale(1 1.06)" textLength="1061">GPS.GPI/Tai2601__IL06-PT13/061-005#_  9789/1_AV/L2U__CLB__________</text>
<text x="199.5" y="1380.7" font-size="25" font-weight="bold">Max Smoothing Residual: 1.135_Vdk1.D9  Sigma= 0.289ns17/10_02/05/26Mn_____-7.804</text>
<text x="421.4" y="539.2" font-size="25" text-anchor="middle" font-weight="bold" fill="#f00">-14.6</text>
<text x="606.7" y="520.9" font-size="25" text-anchor="middle" font-weight="bold" fill="#f00">-13.0</text>
<text x="792.0" y="442.0" font-size="25" text-anchor="middle" font-weight="bold" fill="#f00">-6.1</text>
<text x="977.3" y="512.9" font-size="25" text-anchor="middle" font-weight="bold" fill="#f00">-12.3</text>
<text x="1162.6" y="331.1" font-size="25" text-anchor="middle" font-weight="bold" fill="#f00">3.6</text>
<text x="1347.9" y="206.5" font-size="25" text-anchor="middle" font-weight="bold" fill="#f00">14.5</text>
<text font-size="30" text-anchor="middle" transform="translate(169.2 2007.6) scale(1 1.05)">2</text>
<text font-size="30" text-anchor="middle" transform="translate(304.2 2007.6) scale(1 1.05)">3</text>
<text font-size="30" text-anchor="middle" transform="translate(439.2 2007.6) scale(1 1.05)">4</text>
<text font-size="30" text-anchor="middle" transform="translate(574.2 2007.6) scale(1 1.05)">5</text>
<text font-size="30" text-anchor="middle" transform="translate(709.2 2007.6) scale(1 1.05)">6</text>
<text font-size="30" text-anchor="end" transform="translate(142.5 1597.0) scale(1 1.05)"><tspan dy="2.3">−</tspan><tspan dy="-2.3">12</tspan></text>
<text font-size="30" text-anchor="end" transform="translate(142.5 1747.0) scale(1 1.05)"><tspan dy="2.3">−</tspan><tspan dy="-2.3">13</tspan></text>
<text font-size="30" text-anchor="end" transform="translate(142.5 1897.0) scale(1 1.05)"><tspan dy="2.3">−</tspan><tspan dy="-2.3">14</tspan></text>
<text font-size="30" text-anchor="middle" transform="translate(884.8 2007.6) scale(1 1.05)">2</text>
<text font-size="30" text-anchor="middle" transform="translate(1011.9 2007.6) scale(1 1.05)">3</text>
<text font-size="30" text-anchor="middle" transform="translate(1139.1 2007.6) scale(1 1.05)">4</text>
<text font-size="30" text-anchor="middle" transform="translate(1266.2 2007.6) scale(1 1.05)">5</text>
<text font-size="30" text-anchor="middle" transform="translate(1393.4 2007.6) scale(1 1.05)">6</text>
<text font-size="30" text-anchor="end" transform="translate(826.5 1612.2) scale(1 1.05)"><tspan dy="2.3">−</tspan><tspan dy="-2.3">8</tspan></text>
<text font-size="30" text-anchor="end" transform="translate(826.5 1792.2) scale(1 1.05)"><tspan dy="2.3">−</tspan><tspan dy="-2.3">9</tspan></text>
<text font-size="30" text-anchor="end" transform="translate(826.5 1972.2) scale(1 1.05)"><tspan dy="2.3">−</tspan><tspan dy="-2.3">10</tspan></text>
<text font-size="30" text-anchor="middle" font-weight="bold" transform="translate(439.5 2038.5) scale(1 1.06)">Averaging time, log(<tspan font-family="Liberation Serif, serif" font-weight="normal" font-size="33">τ</tspan>) (s)</text>
<text font-size="30" text-anchor="middle" font-weight="bold" transform="translate(1123.3 2038.5) scale(1 1.06)">Averaging time, log(<tspan font-family="Liberation Serif, serif" font-weight="normal" font-size="33">τ</tspan>) (s)</text>
<text font-size="30" text-anchor="middle" font-weight="bold" transform="translate(83.3 1736.2) rotate(-90) scale(1 1.06)">Modified Allan Deviation (10<tspan font-size="21" dy="-10">-15</tspan><tspan dy="10">)</tspan></text>
<text font-size="30" text-anchor="middle" font-weight="bold" transform="translate(767.2 1736.2) rotate(-90) scale(1 1.06)">Time deviation (10<tspan font-size="21" dy="-10">-10</tspan><tspan dy="10"> s)</tspan></text>
<text x="202.5" y="1553.6" font-size="17.5" font-weight="bold"><tspan font-family="Liberation Serif, serif" font-weight="normal" font-size="21">τ</tspan> = 300s</text>
<text x="233.6" y="1604.1" font-size="20" text-anchor="middle" font-weight="bold" fill="#f00">599.9</text>
<text x="274.3" y="1641.3" font-size="20" text-anchor="middle" font-weight="bold" fill="#f00">338.7</text>
<text x="314.9" y="1668.4" font-size="20" text-anchor="middle" font-weight="bold" fill="#f00">223.4</text>
<text x="355.5" y="1693.3" font-size="20" text-anchor="middle" font-weight="bold" fill="#f00">152.6</text>
<text x="396.2" y="1718.2" font-size="20" text-anchor="middle" font-weight="bold" fill="#f00">104.0</text>
<text x="436.8" y="1743.2" font-size="20" text-anchor="middle" font-weight="bold" fill="#f00">70.9</text>
<text x="477.4" y="1761.1" font-size="20" text-anchor="middle" font-weight="bold" fill="#f00">53.9</text>
<text x="518.1" y="1784.9" font-size="20" text-anchor="middle" font-weight="bold" fill="#f00">37.4</text>
<text x="558.7" y="1811.1" font-size="20" text-anchor="middle" font-weight="bold" fill="#f00">25.0</text>
<text x="599.4" y="1840.6" font-size="20" text-anchor="middle" font-weight="bold" fill="#f00">15.9</text>
<text x="640.0" y="1850.8" font-size="20" text-anchor="middle" font-weight="bold" fill="#f00">13.6</text>
<text x="680.6" y="1854.7" font-size="20" text-anchor="middle" font-weight="bold" fill="#f00">12.8</text>
<text x="945.5" y="1940.0" font-size="17.2" text-anchor="middle" font-weight="bold" fill="#f00">1.0</text>
<text x="983.7" y="1930.1" font-size="17.2" text-anchor="middle" font-weight="bold" fill="#f00">1.2</text>
<text x="1022.0" y="1908.4" font-size="17.2" text-anchor="middle" font-weight="bold" fill="#f00">1.5</text>
<text x="1060.3" y="1883.9" font-size="17.2" text-anchor="middle" font-weight="bold" fill="#f00">2.1</text>
<text x="1098.6" y="1859.7" font-size="17.2" text-anchor="middle" font-weight="bold" fill="#f00">2.9</text>
<text x="1136.8" y="1835.1" font-size="17.2" text-anchor="middle" font-weight="bold" fill="#f00">3.9</text>
<text x="1175.1" y="1802.7" font-size="17.2" text-anchor="middle" font-weight="bold" fill="#f00">6.0</text>
<text x="1213.4" y="1777.3" font-size="17.2" text-anchor="middle" font-weight="bold" fill="#f00">8.3</text>
<text x="1251.7" y="1754.5" font-size="17.2" text-anchor="middle" font-weight="bold" fill="#f00">11.1</text>
<text x="1289.9" y="1735.8" font-size="17.2" text-anchor="middle" font-weight="bold" fill="#f00">14.1</text>
<text x="1328.2" y="1693.9" font-size="17.2" text-anchor="middle" font-weight="bold" fill="#f00">24.1</text>
<text x="1366.5" y="1644.4" font-size="17.2" text-anchor="middle" font-weight="bold" fill="#f00">45.4</text>
<text x="338.7" y="1945.2" font-size="18.75" text-anchor="middle" font-weight="bold" fill="#f00">h/2</text>
<text x="1044.4" y="1942.5" font-size="18.75" text-anchor="middle" font-weight="bold" fill="#f00">h/2</text>
<text x="379.3" y="1945.2" font-size="18.75" text-anchor="middle" font-weight="bold" fill="#f00">h</text>
<text x="1082.7" y="1942.5" font-size="18.75" text-anchor="middle" font-weight="bold" fill="#f00">h</text>
<text x="443.7" y="1945.2" font-size="18.75" text-anchor="middle" font-weight="bold" fill="#f00">d/8</text>
<text x="1143.3" y="1942.5" font-size="18.75" text-anchor="middle" font-weight="bold" fill="#f00">d/8</text>
<text x="484.4" y="1945.2" font-size="18.75" text-anchor="middle" font-weight="bold" fill="#f00">d/4</text>
<text x="1181.6" y="1942.5" font-size="18.75" text-anchor="middle" font-weight="bold" fill="#f00">d/4</text>
<text x="525.0" y="1945.2" font-size="18.75" text-anchor="middle" font-weight="bold" fill="#f00">d/2</text>
<text x="1219.9" y="1942.5" font-size="18.75" text-anchor="middle" font-weight="bold" fill="#f00">d/2</text>
<text x="565.6" y="1945.2" font-size="18.75" text-anchor="middle" font-weight="bold" fill="#f00">day</text>
<text x="1258.2" y="1942.5" font-size="18.75" text-anchor="middle" font-weight="bold" fill="#f00">day</text>
<text x="630.0" y="1945.2" font-size="18.75" text-anchor="middle" font-weight="bold" fill="#f00">ddd</text>
<text x="1318.8" y="1942.5" font-size="18.75" text-anchor="middle" font-weight="bold" fill="#f00">ddd</text>
<text x="679.7" y="1945.2" font-size="18.75" text-anchor="middle" font-weight="bold" fill="#f00">wk</text>
<text x="1365.6" y="1942.5" font-size="18.75" text-anchor="middle" font-weight="bold" fill="#f00">wk</text>
</g>
</svg>
</body></html>
